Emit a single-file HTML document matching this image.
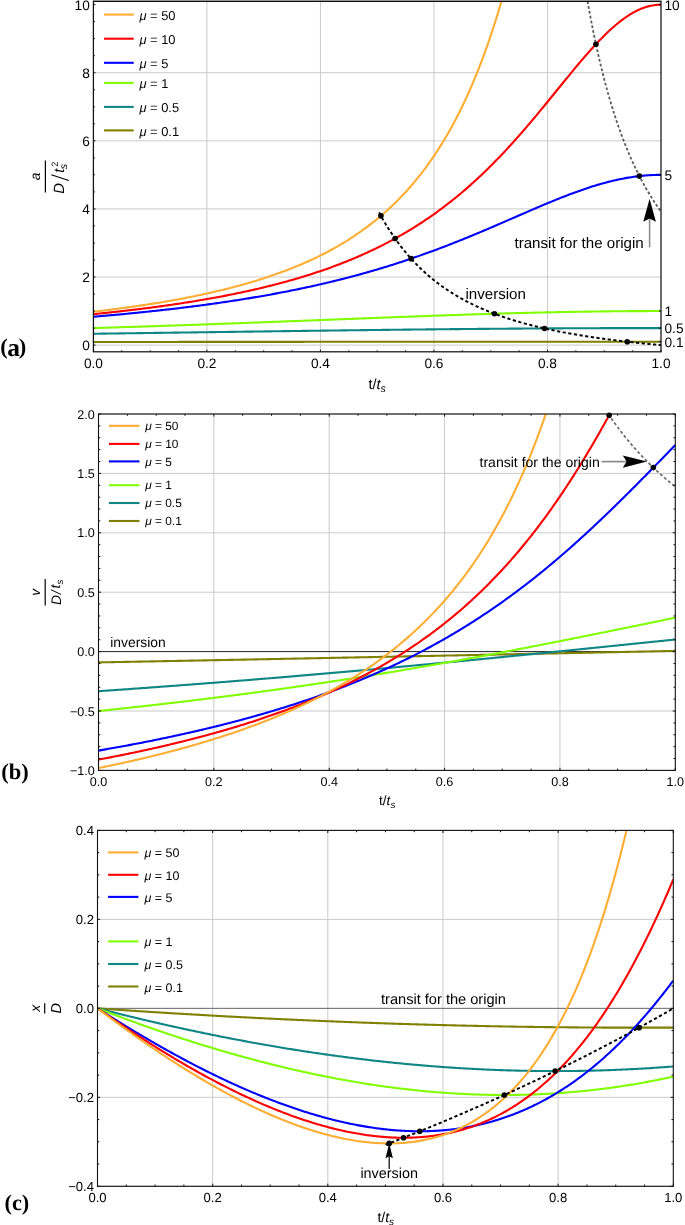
<!DOCTYPE html>
<html><head><meta charset="utf-8"><style>
html,body{margin:0;padding:0;background:#fff;}
svg{display:block;will-change:transform;}
text{text-rendering:geometricPrecision;}
</style></head><body>
<svg width="685" height="1225" viewBox="0 0 685 1225">
<rect width="685" height="1225" fill="#fff"/>
<clipPath id="clipA"><rect x="93.4" y="1.4" width="567.6" height="350.40000000000003"/></clipPath>
<line x1="206.92" y1="1.4" x2="206.92" y2="351.8" stroke="#cacaca" stroke-width="1"/>
<line x1="320.44" y1="1.4" x2="320.44" y2="351.8" stroke="#cacaca" stroke-width="1"/>
<line x1="433.96" y1="1.4" x2="433.96" y2="351.8" stroke="#cacaca" stroke-width="1"/>
<line x1="547.48" y1="1.4" x2="547.48" y2="351.8" stroke="#cacaca" stroke-width="1"/>
<line x1="93.4" y1="345.10" x2="661.0" y2="345.10" stroke="#cacaca" stroke-width="1"/>
<line x1="93.4" y1="277.01" x2="661.0" y2="277.01" stroke="#cacaca" stroke-width="1"/>
<line x1="93.4" y1="208.92" x2="661.0" y2="208.92" stroke="#cacaca" stroke-width="1"/>
<line x1="93.4" y1="140.83" x2="661.0" y2="140.83" stroke="#cacaca" stroke-width="1"/>
<line x1="93.4" y1="72.74" x2="661.0" y2="72.74" stroke="#cacaca" stroke-width="1"/>
<path d="M93.40,342.00 L94.82,342.00 L96.25,342.00 L97.67,342.00 L99.09,342.00 L100.51,342.00 L101.94,342.00 L103.36,342.00 L104.78,341.99 L106.20,341.99 L107.63,341.99 L109.05,341.99 L110.47,341.99 L111.89,341.99 L113.32,341.99 L114.74,341.98 L116.16,341.98 L117.58,341.98 L119.01,341.98 L120.43,341.98 L121.85,341.98 L123.27,341.98 L124.70,341.97 L126.12,341.97 L127.54,341.97 L128.96,341.97 L130.39,341.97 L131.81,341.97 L133.23,341.97 L134.65,341.97 L136.08,341.96 L137.50,341.96 L138.92,341.96 L140.34,341.96 L141.77,341.96 L143.19,341.96 L144.61,341.96 L146.03,341.95 L147.46,341.95 L148.88,341.95 L150.30,341.95 L151.72,341.95 L153.15,341.95 L154.57,341.95 L155.99,341.95 L157.42,341.94 L158.84,341.94 L160.26,341.94 L161.68,341.94 L163.11,341.94 L164.53,341.94 L165.95,341.94 L167.37,341.93 L168.80,341.93 L170.22,341.93 L171.64,341.93 L173.06,341.93 L174.49,341.93 L175.91,341.93 L177.33,341.93 L178.75,341.92 L180.18,341.92 L181.60,341.92 L183.02,341.92 L184.44,341.92 L185.87,341.92 L187.29,341.92 L188.71,341.92 L190.13,341.91 L191.56,341.91 L192.98,341.91 L194.40,341.91 L195.82,341.91 L197.25,341.91 L198.67,341.91 L200.09,341.91 L201.51,341.90 L202.94,341.90 L204.36,341.90 L205.78,341.90 L207.20,341.90 L208.63,341.90 L210.05,341.90 L211.47,341.90 L212.89,341.90 L214.32,341.89 L215.74,341.89 L217.16,341.89 L218.58,341.89 L220.01,341.89 L221.43,341.89 L222.85,341.89 L224.28,341.89 L225.70,341.88 L227.12,341.88 L228.54,341.88 L229.97,341.88 L231.39,341.88 L232.81,341.88 L234.23,341.88 L235.66,341.88 L237.08,341.88 L238.50,341.87 L239.92,341.87 L241.35,341.87 L242.77,341.87 L244.19,341.87 L245.61,341.87 L247.04,341.87 L248.46,341.87 L249.88,341.87 L251.30,341.86 L252.73,341.86 L254.15,341.86 L255.57,341.86 L256.99,341.86 L258.42,341.86 L259.84,341.86 L261.26,341.86 L262.68,341.86 L264.11,341.85 L265.53,341.85 L266.95,341.85 L268.37,341.85 L269.80,341.85 L271.22,341.85 L272.64,341.85 L274.06,341.85 L275.49,341.85 L276.91,341.84 L278.33,341.84 L279.75,341.84 L281.18,341.84 L282.60,341.84 L284.02,341.84 L285.45,341.84 L286.87,341.84 L288.29,341.84 L289.71,341.84 L291.14,341.83 L292.56,341.83 L293.98,341.83 L295.40,341.83 L296.83,341.83 L298.25,341.83 L299.67,341.83 L301.09,341.83 L302.52,341.83 L303.94,341.83 L305.36,341.82 L306.78,341.82 L308.21,341.82 L309.63,341.82 L311.05,341.82 L312.47,341.82 L313.90,341.82 L315.32,341.82 L316.74,341.82 L318.16,341.82 L319.59,341.81 L321.01,341.81 L322.43,341.81 L323.85,341.81 L325.28,341.81 L326.70,341.81 L328.12,341.81 L329.54,341.81 L330.97,341.81 L332.39,341.81 L333.81,341.80 L335.23,341.80 L336.66,341.80 L338.08,341.80 L339.50,341.80 L340.92,341.80 L342.35,341.80 L343.77,341.80 L345.19,341.80 L346.62,341.80 L348.04,341.80 L349.46,341.80 L350.88,341.79 L352.31,341.79 L353.73,341.79 L355.15,341.79 L356.57,341.79 L358.00,341.79 L359.42,341.79 L360.84,341.79 L362.26,341.79 L363.69,341.79 L365.11,341.79 L366.53,341.78 L367.95,341.78 L369.38,341.78 L370.80,341.78 L372.22,341.78 L373.64,341.78 L375.07,341.78 L376.49,341.78 L377.91,341.78 L379.33,341.78 L380.76,341.78 L382.18,341.78 L383.60,341.77 L385.02,341.77 L386.45,341.77 L387.87,341.77 L389.29,341.77 L390.71,341.77 L392.14,341.77 L393.56,341.77 L394.98,341.77 L396.40,341.77 L397.83,341.77 L399.25,341.77 L400.67,341.77 L402.09,341.76 L403.52,341.76 L404.94,341.76 L406.36,341.76 L407.78,341.76 L409.21,341.76 L410.63,341.76 L412.05,341.76 L413.48,341.76 L414.90,341.76 L416.32,341.76 L417.74,341.76 L419.17,341.76 L420.59,341.76 L422.01,341.75 L423.43,341.75 L424.86,341.75 L426.28,341.75 L427.70,341.75 L429.12,341.75 L430.55,341.75 L431.97,341.75 L433.39,341.75 L434.81,341.75 L436.24,341.75 L437.66,341.75 L439.08,341.75 L440.50,341.75 L441.93,341.75 L443.35,341.74 L444.77,341.74 L446.19,341.74 L447.62,341.74 L449.04,341.74 L450.46,341.74 L451.88,341.74 L453.31,341.74 L454.73,341.74 L456.15,341.74 L457.57,341.74 L459.00,341.74 L460.42,341.74 L461.84,341.74 L463.26,341.74 L464.69,341.74 L466.11,341.74 L467.53,341.73 L468.95,341.73 L470.38,341.73 L471.80,341.73 L473.22,341.73 L474.65,341.73 L476.07,341.73 L477.49,341.73 L478.91,341.73 L480.34,341.73 L481.76,341.73 L483.18,341.73 L484.60,341.73 L486.03,341.73 L487.45,341.73 L488.87,341.73 L490.29,341.73 L491.72,341.73 L493.14,341.73 L494.56,341.72 L495.98,341.72 L497.41,341.72 L498.83,341.72 L500.25,341.72 L501.67,341.72 L503.10,341.72 L504.52,341.72 L505.94,341.72 L507.36,341.72 L508.79,341.72 L510.21,341.72 L511.63,341.72 L513.05,341.72 L514.48,341.72 L515.90,341.72 L517.32,341.72 L518.74,341.72 L520.17,341.72 L521.59,341.72 L523.01,341.72 L524.43,341.72 L525.86,341.71 L527.28,341.71 L528.70,341.71 L530.12,341.71 L531.55,341.71 L532.97,341.71 L534.39,341.71 L535.82,341.71 L537.24,341.71 L538.66,341.71 L540.08,341.71 L541.51,341.71 L542.93,341.71 L544.35,341.71 L545.77,341.71 L547.20,341.71 L548.62,341.71 L550.04,341.71 L551.46,341.71 L552.89,341.71 L554.31,341.71 L555.73,341.71 L557.15,341.71 L558.58,341.71 L560.00,341.71 L561.42,341.71 L562.84,341.71 L564.27,341.71 L565.69,341.71 L567.11,341.70 L568.53,341.70 L569.96,341.70 L571.38,341.70 L572.80,341.70 L574.22,341.70 L575.65,341.70 L577.07,341.70 L578.49,341.70 L579.91,341.70 L581.34,341.70 L582.76,341.70 L584.18,341.70 L585.60,341.70 L587.03,341.70 L588.45,341.70 L589.87,341.70 L591.29,341.70 L592.72,341.70 L594.14,341.70 L595.56,341.70 L596.98,341.70 L598.41,341.70 L599.83,341.70 L601.25,341.70 L602.68,341.70 L604.10,341.70 L605.52,341.70 L606.94,341.70 L608.37,341.70 L609.79,341.70 L611.21,341.70 L612.63,341.70 L614.06,341.70 L615.48,341.70 L616.90,341.70 L618.32,341.70 L619.75,341.70 L621.17,341.70 L622.59,341.70 L624.01,341.70 L625.44,341.70 L626.86,341.70 L628.28,341.70 L629.70,341.70 L631.13,341.70 L632.55,341.70 L633.97,341.70 L635.39,341.70 L636.82,341.70 L638.24,341.70 L639.66,341.70 L641.08,341.70 L642.51,341.70 L643.93,341.70 L645.35,341.70 L646.77,341.70 L648.20,341.70 L649.62,341.70 L651.04,341.70 L652.46,341.70 L653.89,341.70 L655.31,341.70 L656.73,341.70 L658.15,341.70 L659.58,341.70 L661.00,341.70" stroke="#808000" stroke-width="2.1" fill="none" clip-path="url(#clipA)" stroke-linejoin="round"/>
<path d="M93.40,333.75 L94.82,333.73 L96.25,333.71 L97.67,333.69 L99.09,333.68 L100.51,333.66 L101.94,333.64 L103.36,333.62 L104.78,333.60 L106.20,333.58 L107.63,333.56 L109.05,333.54 L110.47,333.52 L111.89,333.50 L113.32,333.48 L114.74,333.47 L116.16,333.45 L117.58,333.43 L119.01,333.41 L120.43,333.39 L121.85,333.37 L123.27,333.35 L124.70,333.33 L126.12,333.31 L127.54,333.29 L128.96,333.27 L130.39,333.25 L131.81,333.23 L133.23,333.22 L134.65,333.20 L136.08,333.18 L137.50,333.16 L138.92,333.14 L140.34,333.12 L141.77,333.10 L143.19,333.08 L144.61,333.06 L146.03,333.04 L147.46,333.02 L148.88,333.00 L150.30,332.98 L151.72,332.96 L153.15,332.94 L154.57,332.92 L155.99,332.90 L157.42,332.89 L158.84,332.87 L160.26,332.85 L161.68,332.83 L163.11,332.81 L164.53,332.79 L165.95,332.77 L167.37,332.75 L168.80,332.73 L170.22,332.71 L171.64,332.69 L173.06,332.67 L174.49,332.65 L175.91,332.63 L177.33,332.61 L178.75,332.59 L180.18,332.57 L181.60,332.55 L183.02,332.53 L184.44,332.51 L185.87,332.49 L187.29,332.47 L188.71,332.45 L190.13,332.44 L191.56,332.42 L192.98,332.40 L194.40,332.38 L195.82,332.36 L197.25,332.34 L198.67,332.32 L200.09,332.30 L201.51,332.28 L202.94,332.26 L204.36,332.24 L205.78,332.22 L207.20,332.20 L208.63,332.18 L210.05,332.16 L211.47,332.14 L212.89,332.12 L214.32,332.10 L215.74,332.08 L217.16,332.06 L218.58,332.04 L220.01,332.02 L221.43,332.00 L222.85,331.98 L224.28,331.97 L225.70,331.95 L227.12,331.93 L228.54,331.91 L229.97,331.89 L231.39,331.87 L232.81,331.85 L234.23,331.83 L235.66,331.81 L237.08,331.79 L238.50,331.77 L239.92,331.75 L241.35,331.73 L242.77,331.71 L244.19,331.69 L245.61,331.67 L247.04,331.65 L248.46,331.63 L249.88,331.61 L251.30,331.60 L252.73,331.58 L254.15,331.56 L255.57,331.54 L256.99,331.52 L258.42,331.50 L259.84,331.48 L261.26,331.46 L262.68,331.44 L264.11,331.42 L265.53,331.40 L266.95,331.38 L268.37,331.36 L269.80,331.34 L271.22,331.33 L272.64,331.31 L274.06,331.29 L275.49,331.27 L276.91,331.25 L278.33,331.23 L279.75,331.21 L281.18,331.19 L282.60,331.17 L284.02,331.15 L285.45,331.13 L286.87,331.12 L288.29,331.10 L289.71,331.08 L291.14,331.06 L292.56,331.04 L293.98,331.02 L295.40,331.00 L296.83,330.98 L298.25,330.96 L299.67,330.95 L301.09,330.93 L302.52,330.91 L303.94,330.89 L305.36,330.87 L306.78,330.85 L308.21,330.83 L309.63,330.81 L311.05,330.80 L312.47,330.78 L313.90,330.76 L315.32,330.74 L316.74,330.72 L318.16,330.70 L319.59,330.69 L321.01,330.67 L322.43,330.65 L323.85,330.63 L325.28,330.61 L326.70,330.59 L328.12,330.58 L329.54,330.56 L330.97,330.54 L332.39,330.52 L333.81,330.50 L335.23,330.48 L336.66,330.47 L338.08,330.45 L339.50,330.43 L340.92,330.41 L342.35,330.39 L343.77,330.38 L345.19,330.36 L346.62,330.34 L348.04,330.32 L349.46,330.31 L350.88,330.29 L352.31,330.27 L353.73,330.25 L355.15,330.24 L356.57,330.22 L358.00,330.20 L359.42,330.18 L360.84,330.17 L362.26,330.15 L363.69,330.13 L365.11,330.11 L366.53,330.10 L367.95,330.08 L369.38,330.06 L370.80,330.05 L372.22,330.03 L373.64,330.01 L375.07,329.99 L376.49,329.98 L377.91,329.96 L379.33,329.94 L380.76,329.93 L382.18,329.91 L383.60,329.89 L385.02,329.88 L386.45,329.86 L387.87,329.84 L389.29,329.83 L390.71,329.81 L392.14,329.79 L393.56,329.78 L394.98,329.76 L396.40,329.75 L397.83,329.73 L399.25,329.71 L400.67,329.70 L402.09,329.68 L403.52,329.67 L404.94,329.65 L406.36,329.63 L407.78,329.62 L409.21,329.60 L410.63,329.59 L412.05,329.57 L413.48,329.56 L414.90,329.54 L416.32,329.52 L417.74,329.51 L419.17,329.49 L420.59,329.48 L422.01,329.46 L423.43,329.45 L424.86,329.43 L426.28,329.42 L427.70,329.40 L429.12,329.39 L430.55,329.37 L431.97,329.36 L433.39,329.34 L434.81,329.33 L436.24,329.32 L437.66,329.30 L439.08,329.29 L440.50,329.27 L441.93,329.26 L443.35,329.24 L444.77,329.23 L446.19,329.22 L447.62,329.20 L449.04,329.19 L450.46,329.17 L451.88,329.16 L453.31,329.15 L454.73,329.13 L456.15,329.12 L457.57,329.10 L459.00,329.09 L460.42,329.08 L461.84,329.06 L463.26,329.05 L464.69,329.04 L466.11,329.03 L467.53,329.01 L468.95,329.00 L470.38,328.99 L471.80,328.97 L473.22,328.96 L474.65,328.95 L476.07,328.94 L477.49,328.92 L478.91,328.91 L480.34,328.90 L481.76,328.89 L483.18,328.87 L484.60,328.86 L486.03,328.85 L487.45,328.84 L488.87,328.83 L490.29,328.81 L491.72,328.80 L493.14,328.79 L494.56,328.78 L495.98,328.77 L497.41,328.76 L498.83,328.75 L500.25,328.73 L501.67,328.72 L503.10,328.71 L504.52,328.70 L505.94,328.69 L507.36,328.68 L508.79,328.67 L510.21,328.66 L511.63,328.65 L513.05,328.64 L514.48,328.63 L515.90,328.62 L517.32,328.61 L518.74,328.60 L520.17,328.59 L521.59,328.58 L523.01,328.57 L524.43,328.56 L525.86,328.55 L527.28,328.54 L528.70,328.53 L530.12,328.52 L531.55,328.51 L532.97,328.50 L534.39,328.49 L535.82,328.48 L537.24,328.47 L538.66,328.46 L540.08,328.46 L541.51,328.45 L542.93,328.44 L544.35,328.43 L545.77,328.42 L547.20,328.41 L548.62,328.40 L550.04,328.40 L551.46,328.39 L552.89,328.38 L554.31,328.37 L555.73,328.37 L557.15,328.36 L558.58,328.35 L560.00,328.34 L561.42,328.34 L562.84,328.33 L564.27,328.32 L565.69,328.31 L567.11,328.31 L568.53,328.30 L569.96,328.29 L571.38,328.29 L572.80,328.28 L574.22,328.27 L575.65,328.27 L577.07,328.26 L578.49,328.26 L579.91,328.25 L581.34,328.24 L582.76,328.24 L584.18,328.23 L585.60,328.23 L587.03,328.22 L588.45,328.22 L589.87,328.21 L591.29,328.20 L592.72,328.20 L594.14,328.19 L595.56,328.19 L596.98,328.19 L598.41,328.18 L599.83,328.18 L601.25,328.17 L602.68,328.17 L604.10,328.16 L605.52,328.16 L606.94,328.15 L608.37,328.15 L609.79,328.15 L611.21,328.14 L612.63,328.14 L614.06,328.14 L615.48,328.13 L616.90,328.13 L618.32,328.13 L619.75,328.12 L621.17,328.12 L622.59,328.12 L624.01,328.11 L625.44,328.11 L626.86,328.11 L628.28,328.11 L629.70,328.10 L631.13,328.10 L632.55,328.10 L633.97,328.10 L635.39,328.09 L636.82,328.09 L638.24,328.09 L639.66,328.09 L641.08,328.09 L642.51,328.09 L643.93,328.09 L645.35,328.08 L646.77,328.08 L648.20,328.08 L649.62,328.08 L651.04,328.08 L652.46,328.08 L653.89,328.08 L655.31,328.08 L656.73,328.08 L658.15,328.08 L659.58,328.08 L661.00,328.08" stroke="#108585" stroke-width="2.1" fill="none" clip-path="url(#clipA)" stroke-linejoin="round"/>
<path d="M93.40,328.08 L94.82,328.03 L96.25,327.99 L97.67,327.95 L99.09,327.91 L100.51,327.86 L101.94,327.82 L103.36,327.78 L104.78,327.73 L106.20,327.69 L107.63,327.65 L109.05,327.60 L110.47,327.56 L111.89,327.51 L113.32,327.47 L114.74,327.43 L116.16,327.38 L117.58,327.34 L119.01,327.29 L120.43,327.25 L121.85,327.20 L123.27,327.16 L124.70,327.11 L126.12,327.07 L127.54,327.02 L128.96,326.98 L130.39,326.93 L131.81,326.89 L133.23,326.84 L134.65,326.80 L136.08,326.75 L137.50,326.70 L138.92,326.66 L140.34,326.61 L141.77,326.57 L143.19,326.52 L144.61,326.47 L146.03,326.43 L147.46,326.38 L148.88,326.33 L150.30,326.29 L151.72,326.24 L153.15,326.19 L154.57,326.14 L155.99,326.10 L157.42,326.05 L158.84,326.00 L160.26,325.96 L161.68,325.91 L163.11,325.86 L164.53,325.81 L165.95,325.76 L167.37,325.72 L168.80,325.67 L170.22,325.62 L171.64,325.57 L173.06,325.52 L174.49,325.47 L175.91,325.43 L177.33,325.38 L178.75,325.33 L180.18,325.28 L181.60,325.23 L183.02,325.18 L184.44,325.13 L185.87,325.08 L187.29,325.03 L188.71,324.98 L190.13,324.93 L191.56,324.88 L192.98,324.83 L194.40,324.78 L195.82,324.73 L197.25,324.68 L198.67,324.63 L200.09,324.58 L201.51,324.53 L202.94,324.48 L204.36,324.43 L205.78,324.38 L207.20,324.33 L208.63,324.28 L210.05,324.23 L211.47,324.18 L212.89,324.13 L214.32,324.08 L215.74,324.02 L217.16,323.97 L218.58,323.92 L220.01,323.87 L221.43,323.82 L222.85,323.77 L224.28,323.72 L225.70,323.66 L227.12,323.61 L228.54,323.56 L229.97,323.51 L231.39,323.46 L232.81,323.40 L234.23,323.35 L235.66,323.30 L237.08,323.25 L238.50,323.19 L239.92,323.14 L241.35,323.09 L242.77,323.03 L244.19,322.98 L245.61,322.93 L247.04,322.88 L248.46,322.82 L249.88,322.77 L251.30,322.72 L252.73,322.66 L254.15,322.61 L255.57,322.56 L256.99,322.50 L258.42,322.45 L259.84,322.40 L261.26,322.34 L262.68,322.29 L264.11,322.23 L265.53,322.18 L266.95,322.13 L268.37,322.07 L269.80,322.02 L271.22,321.97 L272.64,321.91 L274.06,321.86 L275.49,321.80 L276.91,321.75 L278.33,321.69 L279.75,321.64 L281.18,321.58 L282.60,321.53 L284.02,321.48 L285.45,321.42 L286.87,321.37 L288.29,321.31 L289.71,321.26 L291.14,321.20 L292.56,321.15 L293.98,321.09 L295.40,321.04 L296.83,320.98 L298.25,320.93 L299.67,320.87 L301.09,320.82 L302.52,320.76 L303.94,320.71 L305.36,320.65 L306.78,320.60 L308.21,320.54 L309.63,320.49 L311.05,320.43 L312.47,320.38 L313.90,320.32 L315.32,320.27 L316.74,320.21 L318.16,320.16 L319.59,320.10 L321.01,320.04 L322.43,319.99 L323.85,319.93 L325.28,319.88 L326.70,319.82 L328.12,319.77 L329.54,319.71 L330.97,319.66 L332.39,319.60 L333.81,319.55 L335.23,319.49 L336.66,319.44 L338.08,319.38 L339.50,319.32 L340.92,319.27 L342.35,319.21 L343.77,319.16 L345.19,319.10 L346.62,319.05 L348.04,318.99 L349.46,318.94 L350.88,318.88 L352.31,318.83 L353.73,318.77 L355.15,318.72 L356.57,318.66 L358.00,318.61 L359.42,318.55 L360.84,318.50 L362.26,318.44 L363.69,318.38 L365.11,318.33 L366.53,318.27 L367.95,318.22 L369.38,318.17 L370.80,318.11 L372.22,318.06 L373.64,318.00 L375.07,317.95 L376.49,317.89 L377.91,317.84 L379.33,317.78 L380.76,317.73 L382.18,317.67 L383.60,317.62 L385.02,317.56 L386.45,317.51 L387.87,317.46 L389.29,317.40 L390.71,317.35 L392.14,317.29 L393.56,317.24 L394.98,317.19 L396.40,317.13 L397.83,317.08 L399.25,317.03 L400.67,316.97 L402.09,316.92 L403.52,316.87 L404.94,316.81 L406.36,316.76 L407.78,316.71 L409.21,316.65 L410.63,316.60 L412.05,316.55 L413.48,316.49 L414.90,316.44 L416.32,316.39 L417.74,316.34 L419.17,316.29 L420.59,316.23 L422.01,316.18 L423.43,316.13 L424.86,316.08 L426.28,316.03 L427.70,315.98 L429.12,315.92 L430.55,315.87 L431.97,315.82 L433.39,315.77 L434.81,315.72 L436.24,315.67 L437.66,315.62 L439.08,315.57 L440.50,315.52 L441.93,315.47 L443.35,315.42 L444.77,315.37 L446.19,315.32 L447.62,315.27 L449.04,315.22 L450.46,315.17 L451.88,315.12 L453.31,315.08 L454.73,315.03 L456.15,314.98 L457.57,314.93 L459.00,314.88 L460.42,314.83 L461.84,314.79 L463.26,314.74 L464.69,314.69 L466.11,314.65 L467.53,314.60 L468.95,314.55 L470.38,314.51 L471.80,314.46 L473.22,314.41 L474.65,314.37 L476.07,314.32 L477.49,314.28 L478.91,314.23 L480.34,314.19 L481.76,314.14 L483.18,314.10 L484.60,314.05 L486.03,314.01 L487.45,313.97 L488.87,313.92 L490.29,313.88 L491.72,313.84 L493.14,313.79 L494.56,313.75 L495.98,313.71 L497.41,313.67 L498.83,313.62 L500.25,313.58 L501.67,313.54 L503.10,313.50 L504.52,313.46 L505.94,313.42 L507.36,313.38 L508.79,313.34 L510.21,313.30 L511.63,313.26 L513.05,313.22 L514.48,313.18 L515.90,313.14 L517.32,313.11 L518.74,313.07 L520.17,313.03 L521.59,312.99 L523.01,312.95 L524.43,312.92 L525.86,312.88 L527.28,312.85 L528.70,312.81 L530.12,312.77 L531.55,312.74 L532.97,312.70 L534.39,312.67 L535.82,312.63 L537.24,312.60 L538.66,312.57 L540.08,312.53 L541.51,312.50 L542.93,312.47 L544.35,312.43 L545.77,312.40 L547.20,312.37 L548.62,312.34 L550.04,312.31 L551.46,312.28 L552.89,312.25 L554.31,312.22 L555.73,312.19 L557.15,312.16 L558.58,312.13 L560.00,312.10 L561.42,312.07 L562.84,312.04 L564.27,312.02 L565.69,311.99 L567.11,311.96 L568.53,311.94 L569.96,311.91 L571.38,311.88 L572.80,311.86 L574.22,311.83 L575.65,311.81 L577.07,311.78 L578.49,311.76 L579.91,311.74 L581.34,311.71 L582.76,311.69 L584.18,311.67 L585.60,311.65 L587.03,311.62 L588.45,311.60 L589.87,311.58 L591.29,311.56 L592.72,311.54 L594.14,311.52 L595.56,311.50 L596.98,311.48 L598.41,311.46 L599.83,311.45 L601.25,311.43 L602.68,311.41 L604.10,311.39 L605.52,311.38 L606.94,311.36 L608.37,311.35 L609.79,311.33 L611.21,311.31 L612.63,311.30 L614.06,311.29 L615.48,311.27 L616.90,311.26 L618.32,311.25 L619.75,311.23 L621.17,311.22 L622.59,311.21 L624.01,311.20 L625.44,311.19 L626.86,311.18 L628.28,311.17 L629.70,311.16 L631.13,311.15 L632.55,311.14 L633.97,311.13 L635.39,311.12 L636.82,311.12 L638.24,311.11 L639.66,311.10 L641.08,311.10 L642.51,311.09 L643.93,311.09 L645.35,311.08 L646.77,311.08 L648.20,311.07 L649.62,311.07 L651.04,311.07 L652.46,311.06 L653.89,311.06 L655.31,311.06 L656.73,311.06 L658.15,311.06 L659.58,311.06 L661.00,311.06" stroke="#80FF00" stroke-width="2.1" fill="none" clip-path="url(#clipA)" stroke-linejoin="round"/>
<path d="M93.40,316.73 L94.82,316.61 L96.25,316.49 L97.67,316.37 L99.09,316.25 L100.51,316.13 L101.94,316.01 L103.36,315.88 L104.78,315.76 L106.20,315.63 L107.63,315.51 L109.05,315.38 L110.47,315.26 L111.89,315.13 L113.32,315.00 L114.74,314.87 L116.16,314.74 L117.58,314.61 L119.01,314.48 L120.43,314.35 L121.85,314.21 L123.27,314.08 L124.70,313.95 L126.12,313.81 L127.54,313.67 L128.96,313.54 L130.39,313.40 L131.81,313.26 L133.23,313.12 L134.65,312.98 L136.08,312.84 L137.50,312.70 L138.92,312.55 L140.34,312.41 L141.77,312.26 L143.19,312.12 L144.61,311.97 L146.03,311.82 L147.46,311.68 L148.88,311.53 L150.30,311.38 L151.72,311.23 L153.15,311.07 L154.57,310.92 L155.99,310.77 L157.42,310.61 L158.84,310.46 L160.26,310.30 L161.68,310.14 L163.11,309.98 L164.53,309.82 L165.95,309.66 L167.37,309.50 L168.80,309.34 L170.22,309.17 L171.64,309.01 L173.06,308.84 L174.49,308.68 L175.91,308.51 L177.33,308.34 L178.75,308.17 L180.18,308.00 L181.60,307.83 L183.02,307.65 L184.44,307.48 L185.87,307.30 L187.29,307.13 L188.71,306.95 L190.13,306.77 L191.56,306.59 L192.98,306.41 L194.40,306.23 L195.82,306.04 L197.25,305.86 L198.67,305.67 L200.09,305.48 L201.51,305.30 L202.94,305.11 L204.36,304.92 L205.78,304.72 L207.20,304.53 L208.63,304.34 L210.05,304.14 L211.47,303.94 L212.89,303.75 L214.32,303.55 L215.74,303.35 L217.16,303.14 L218.58,302.94 L220.01,302.74 L221.43,302.53 L222.85,302.32 L224.28,302.11 L225.70,301.90 L227.12,301.69 L228.54,301.48 L229.97,301.27 L231.39,301.05 L232.81,300.83 L234.23,300.62 L235.66,300.40 L237.08,300.17 L238.50,299.95 L239.92,299.73 L241.35,299.50 L242.77,299.28 L244.19,299.05 L245.61,298.82 L247.04,298.58 L248.46,298.35 L249.88,298.12 L251.30,297.88 L252.73,297.64 L254.15,297.40 L255.57,297.16 L256.99,296.92 L258.42,296.68 L259.84,296.43 L261.26,296.18 L262.68,295.93 L264.11,295.68 L265.53,295.43 L266.95,295.18 L268.37,294.92 L269.80,294.67 L271.22,294.41 L272.64,294.15 L274.06,293.88 L275.49,293.62 L276.91,293.35 L278.33,293.09 L279.75,292.82 L281.18,292.54 L282.60,292.27 L284.02,292.00 L285.45,291.72 L286.87,291.44 L288.29,291.16 L289.71,290.88 L291.14,290.59 L292.56,290.31 L293.98,290.02 L295.40,289.73 L296.83,289.44 L298.25,289.15 L299.67,288.85 L301.09,288.55 L302.52,288.25 L303.94,287.95 L305.36,287.65 L306.78,287.34 L308.21,287.04 L309.63,286.73 L311.05,286.41 L312.47,286.10 L313.90,285.78 L315.32,285.47 L316.74,285.15 L318.16,284.83 L319.59,284.50 L321.01,284.17 L322.43,283.85 L323.85,283.52 L325.28,283.18 L326.70,282.85 L328.12,282.51 L329.54,282.17 L330.97,281.83 L332.39,281.49 L333.81,281.14 L335.23,280.79 L336.66,280.44 L338.08,280.09 L339.50,279.73 L340.92,279.38 L342.35,279.02 L343.77,278.65 L345.19,278.29 L346.62,277.92 L348.04,277.55 L349.46,277.18 L350.88,276.81 L352.31,276.43 L353.73,276.05 L355.15,275.67 L356.57,275.29 L358.00,274.90 L359.42,274.51 L360.84,274.12 L362.26,273.73 L363.69,273.33 L365.11,272.93 L366.53,272.53 L367.95,272.13 L369.38,271.72 L370.80,271.31 L372.22,270.90 L373.64,270.49 L375.07,270.07 L376.49,269.65 L377.91,269.23 L379.33,268.81 L380.76,268.38 L382.18,267.95 L383.60,267.52 L385.02,267.09 L386.45,266.65 L387.87,266.21 L389.29,265.77 L390.71,265.32 L392.14,264.88 L393.56,264.43 L394.98,263.97 L396.40,263.52 L397.83,263.06 L399.25,262.60 L400.67,262.14 L402.09,261.67 L403.52,261.20 L404.94,260.73 L406.36,260.26 L407.78,259.78 L409.21,259.30 L410.63,258.82 L412.05,258.33 L413.48,257.84 L414.90,257.35 L416.32,256.86 L417.74,256.37 L419.17,255.87 L420.59,255.37 L422.01,254.86 L423.43,254.36 L424.86,253.85 L426.28,253.34 L427.70,252.82 L429.12,252.31 L430.55,251.79 L431.97,251.27 L433.39,250.74 L434.81,250.21 L436.24,249.68 L437.66,249.15 L439.08,248.62 L440.50,248.08 L441.93,247.54 L443.35,247.00 L444.77,246.45 L446.19,245.91 L447.62,245.36 L449.04,244.81 L450.46,244.25 L451.88,243.70 L453.31,243.14 L454.73,242.58 L456.15,242.01 L457.57,241.45 L459.00,240.88 L460.42,240.31 L461.84,239.73 L463.26,239.16 L464.69,238.58 L466.11,238.00 L467.53,237.42 L468.95,236.84 L470.38,236.26 L471.80,235.67 L473.22,235.08 L474.65,234.49 L476.07,233.90 L477.49,233.30 L478.91,232.71 L480.34,232.11 L481.76,231.51 L483.18,230.91 L484.60,230.31 L486.03,229.71 L487.45,229.10 L488.87,228.49 L490.29,227.89 L491.72,227.28 L493.14,226.67 L494.56,226.06 L495.98,225.44 L497.41,224.83 L498.83,224.22 L500.25,223.60 L501.67,222.98 L503.10,222.37 L504.52,221.75 L505.94,221.13 L507.36,220.51 L508.79,219.90 L510.21,219.28 L511.63,218.66 L513.05,218.04 L514.48,217.42 L515.90,216.80 L517.32,216.18 L518.74,215.56 L520.17,214.94 L521.59,214.32 L523.01,213.70 L524.43,213.09 L525.86,212.47 L527.28,211.85 L528.70,211.24 L530.12,210.62 L531.55,210.01 L532.97,209.40 L534.39,208.79 L535.82,208.18 L537.24,207.57 L538.66,206.96 L540.08,206.36 L541.51,205.75 L542.93,205.15 L544.35,204.56 L545.77,203.96 L547.20,203.36 L548.62,202.77 L550.04,202.18 L551.46,201.60 L552.89,201.01 L554.31,200.43 L555.73,199.85 L557.15,199.28 L558.58,198.71 L560.00,198.14 L561.42,197.58 L562.84,197.02 L564.27,196.46 L565.69,195.91 L567.11,195.36 L568.53,194.82 L569.96,194.28 L571.38,193.74 L572.80,193.21 L574.22,192.69 L575.65,192.17 L577.07,191.65 L578.49,191.14 L579.91,190.64 L581.34,190.14 L582.76,189.64 L584.18,189.16 L585.60,188.68 L587.03,188.20 L588.45,187.73 L589.87,187.27 L591.29,186.81 L592.72,186.36 L594.14,185.92 L595.56,185.48 L596.98,185.05 L598.41,184.63 L599.83,184.22 L601.25,183.81 L602.68,183.41 L604.10,183.02 L605.52,182.64 L606.94,182.26 L608.37,181.89 L609.79,181.53 L611.21,181.18 L612.63,180.84 L614.06,180.50 L615.48,180.18 L616.90,179.86 L618.32,179.55 L619.75,179.26 L621.17,178.97 L622.59,178.69 L624.01,178.41 L625.44,178.15 L626.86,177.90 L628.28,177.66 L629.70,177.42 L631.13,177.20 L632.55,176.99 L633.97,176.78 L635.39,176.59 L636.82,176.41 L638.24,176.23 L639.66,176.07 L641.08,175.92 L642.51,175.77 L643.93,175.64 L645.35,175.52 L646.77,175.41 L648.20,175.31 L649.62,175.22 L651.04,175.14 L652.46,175.07 L653.89,175.01 L655.31,174.96 L656.73,174.92 L658.15,174.90 L659.58,174.88 L661.00,174.88" stroke="#0000FF" stroke-width="2.1" fill="none" clip-path="url(#clipA)" stroke-linejoin="round"/>
<path d="M93.40,314.15 L94.82,314.01 L96.25,313.87 L97.67,313.72 L99.09,313.58 L100.51,313.43 L101.94,313.29 L103.36,313.14 L104.78,312.99 L106.20,312.84 L107.63,312.69 L109.05,312.54 L110.47,312.39 L111.89,312.23 L113.32,312.08 L114.74,311.93 L116.16,311.77 L117.58,311.61 L119.01,311.45 L120.43,311.29 L121.85,311.13 L123.27,310.97 L124.70,310.81 L126.12,310.64 L127.54,310.48 L128.96,310.31 L130.39,310.14 L131.81,309.97 L133.23,309.80 L134.65,309.63 L136.08,309.46 L137.50,309.29 L138.92,309.11 L140.34,308.94 L141.77,308.76 L143.19,308.58 L144.61,308.40 L146.03,308.22 L147.46,308.04 L148.88,307.85 L150.30,307.67 L151.72,307.48 L153.15,307.30 L154.57,307.11 L155.99,306.92 L157.42,306.72 L158.84,306.53 L160.26,306.34 L161.68,306.14 L163.11,305.94 L164.53,305.75 L165.95,305.54 L167.37,305.34 L168.80,305.14 L170.22,304.94 L171.64,304.73 L173.06,304.52 L174.49,304.31 L175.91,304.10 L177.33,303.89 L178.75,303.68 L180.18,303.46 L181.60,303.24 L183.02,303.02 L184.44,302.80 L185.87,302.58 L187.29,302.36 L188.71,302.13 L190.13,301.91 L191.56,301.68 L192.98,301.45 L194.40,301.21 L195.82,300.98 L197.25,300.75 L198.67,300.51 L200.09,300.27 L201.51,300.03 L202.94,299.78 L204.36,299.54 L205.78,299.29 L207.20,299.04 L208.63,298.79 L210.05,298.54 L211.47,298.29 L212.89,298.03 L214.32,297.77 L215.74,297.51 L217.16,297.25 L218.58,296.98 L220.01,296.72 L221.43,296.45 L222.85,296.18 L224.28,295.90 L225.70,295.63 L227.12,295.35 L228.54,295.07 L229.97,294.79 L231.39,294.50 L232.81,294.22 L234.23,293.93 L235.66,293.64 L237.08,293.34 L238.50,293.05 L239.92,292.75 L241.35,292.45 L242.77,292.15 L244.19,291.84 L245.61,291.53 L247.04,291.22 L248.46,290.91 L249.88,290.60 L251.30,290.28 L252.73,289.96 L254.15,289.63 L255.57,289.31 L256.99,288.98 L258.42,288.65 L259.84,288.31 L261.26,287.98 L262.68,287.64 L264.11,287.29 L265.53,286.95 L266.95,286.60 L268.37,286.25 L269.80,285.89 L271.22,285.54 L272.64,285.18 L274.06,284.81 L275.49,284.45 L276.91,284.08 L278.33,283.71 L279.75,283.33 L281.18,282.95 L282.60,282.57 L284.02,282.18 L285.45,281.79 L286.87,281.40 L288.29,281.01 L289.71,280.61 L291.14,280.21 L292.56,279.80 L293.98,279.39 L295.40,278.98 L296.83,278.56 L298.25,278.14 L299.67,277.72 L301.09,277.29 L302.52,276.86 L303.94,276.42 L305.36,275.99 L306.78,275.54 L308.21,275.10 L309.63,274.65 L311.05,274.19 L312.47,273.73 L313.90,273.27 L315.32,272.80 L316.74,272.33 L318.16,271.86 L319.59,271.38 L321.01,270.90 L322.43,270.41 L323.85,269.92 L325.28,269.42 L326.70,268.92 L328.12,268.41 L329.54,267.90 L330.97,267.39 L332.39,266.87 L333.81,266.34 L335.23,265.82 L336.66,265.28 L338.08,264.74 L339.50,264.20 L340.92,263.65 L342.35,263.10 L343.77,262.54 L345.19,261.98 L346.62,261.41 L348.04,260.83 L349.46,260.25 L350.88,259.67 L352.31,259.08 L353.73,258.49 L355.15,257.88 L356.57,257.28 L358.00,256.67 L359.42,256.05 L360.84,255.43 L362.26,254.80 L363.69,254.16 L365.11,253.52 L366.53,252.87 L367.95,252.22 L369.38,251.56 L370.80,250.90 L372.22,250.23 L373.64,249.55 L375.07,248.87 L376.49,248.18 L377.91,247.48 L379.33,246.78 L380.76,246.07 L382.18,245.35 L383.60,244.63 L385.02,243.90 L386.45,243.16 L387.87,242.42 L389.29,241.67 L390.71,240.91 L392.14,240.14 L393.56,239.37 L394.98,238.59 L396.40,237.81 L397.83,237.01 L399.25,236.21 L400.67,235.40 L402.09,234.59 L403.52,233.76 L404.94,232.93 L406.36,232.09 L407.78,231.24 L409.21,230.39 L410.63,229.53 L412.05,228.65 L413.48,227.77 L414.90,226.89 L416.32,225.99 L417.74,225.09 L419.17,224.17 L420.59,223.25 L422.01,222.32 L423.43,221.38 L424.86,220.43 L426.28,219.48 L427.70,218.51 L429.12,217.54 L430.55,216.55 L431.97,215.56 L433.39,214.56 L434.81,213.55 L436.24,212.53 L437.66,211.50 L439.08,210.46 L440.50,209.41 L441.93,208.36 L443.35,207.29 L444.77,206.21 L446.19,205.12 L447.62,204.03 L449.04,202.92 L450.46,201.81 L451.88,200.68 L453.31,199.54 L454.73,198.40 L456.15,197.24 L457.57,196.07 L459.00,194.90 L460.42,193.71 L461.84,192.51 L463.26,191.30 L464.69,190.08 L466.11,188.86 L467.53,187.62 L468.95,186.37 L470.38,185.11 L471.80,183.83 L473.22,182.55 L474.65,181.26 L476.07,179.96 L477.49,178.64 L478.91,177.32 L480.34,175.98 L481.76,174.64 L483.18,173.28 L484.60,171.92 L486.03,170.54 L487.45,169.15 L488.87,167.75 L490.29,166.34 L491.72,164.92 L493.14,163.49 L494.56,162.05 L495.98,160.60 L497.41,159.13 L498.83,157.66 L500.25,156.18 L501.67,154.68 L503.10,153.18 L504.52,151.67 L505.94,150.14 L507.36,148.61 L508.79,147.07 L510.21,145.51 L511.63,143.95 L513.05,142.38 L514.48,140.80 L515.90,139.21 L517.32,137.60 L518.74,136.00 L520.17,134.38 L521.59,132.75 L523.01,131.12 L524.43,129.47 L525.86,127.82 L527.28,126.16 L528.70,124.50 L530.12,122.82 L531.55,121.14 L532.97,119.46 L534.39,117.76 L535.82,116.06 L537.24,114.35 L538.66,112.64 L540.08,110.93 L541.51,109.20 L542.93,107.48 L544.35,105.74 L545.77,104.01 L547.20,102.27 L548.62,100.53 L550.04,98.78 L551.46,97.03 L552.89,95.29 L554.31,93.53 L555.73,91.78 L557.15,90.03 L558.58,88.28 L560.00,86.53 L561.42,84.77 L562.84,83.03 L564.27,81.28 L565.69,79.53 L567.11,77.79 L568.53,76.05 L569.96,74.32 L571.38,72.59 L572.80,70.87 L574.22,69.15 L575.65,67.44 L577.07,65.73 L578.49,64.04 L579.91,62.35 L581.34,60.68 L582.76,59.01 L584.18,57.35 L585.60,55.71 L587.03,54.08 L588.45,52.46 L589.87,50.86 L591.29,49.27 L592.72,47.69 L594.14,46.13 L595.56,44.59 L596.98,43.07 L598.41,41.56 L599.83,40.08 L601.25,38.61 L602.68,37.16 L604.10,35.74 L605.52,34.34 L606.94,32.96 L608.37,31.61 L609.79,30.28 L611.21,28.97 L612.63,27.70 L614.06,26.45 L615.48,25.22 L616.90,24.03 L618.32,22.87 L619.75,21.73 L621.17,20.63 L622.59,19.56 L624.01,18.52 L625.44,17.51 L626.86,16.54 L628.28,15.60 L629.70,14.69 L631.13,13.83 L632.55,12.99 L633.97,12.20 L635.39,11.44 L636.82,10.72 L638.24,10.04 L639.66,9.39 L641.08,8.79 L642.51,8.23 L643.93,7.70 L645.35,7.22 L646.77,6.78 L648.20,6.37 L649.62,6.01 L651.04,5.69 L652.46,5.42 L653.89,5.18 L655.31,4.99 L656.73,4.84 L658.15,4.74 L659.58,4.67 L661.00,4.65" stroke="#FF0000" stroke-width="2.1" fill="none" clip-path="url(#clipA)" stroke-linejoin="round"/>
<path d="M93.40,311.72 L94.82,311.56 L96.25,311.39 L97.67,311.23 L99.09,311.06 L100.51,310.89 L101.94,310.72 L103.36,310.54 L104.78,310.37 L106.20,310.20 L107.63,310.02 L109.05,309.84 L110.47,309.66 L111.89,309.48 L113.32,309.30 L114.74,309.12 L116.16,308.94 L117.58,308.75 L119.01,308.56 L120.43,308.38 L121.85,308.19 L123.27,307.99 L124.70,307.80 L126.12,307.61 L127.54,307.41 L128.96,307.21 L130.39,307.01 L131.81,306.81 L133.23,306.61 L134.65,306.41 L136.08,306.20 L137.50,306.00 L138.92,305.79 L140.34,305.58 L141.77,305.37 L143.19,305.15 L144.61,304.94 L146.03,304.72 L147.46,304.50 L148.88,304.28 L150.30,304.06 L151.72,303.84 L153.15,303.61 L154.57,303.38 L155.99,303.15 L157.42,302.92 L158.84,302.69 L160.26,302.45 L161.68,302.22 L163.11,301.98 L164.53,301.73 L165.95,301.49 L167.37,301.25 L168.80,301.00 L170.22,300.75 L171.64,300.50 L173.06,300.24 L174.49,299.99 L175.91,299.73 L177.33,299.47 L178.75,299.21 L180.18,298.94 L181.60,298.68 L183.02,298.41 L184.44,298.14 L185.87,297.86 L187.29,297.59 L188.71,297.31 L190.13,297.03 L191.56,296.74 L192.98,296.46 L194.40,296.17 L195.82,295.88 L197.25,295.58 L198.67,295.29 L200.09,294.99 L201.51,294.69 L202.94,294.38 L204.36,294.08 L205.78,293.77 L207.20,293.45 L208.63,293.14 L210.05,292.82 L211.47,292.50 L212.89,292.17 L214.32,291.85 L215.74,291.52 L217.16,291.18 L218.58,290.85 L220.01,290.51 L221.43,290.17 L222.85,289.82 L224.28,289.47 L225.70,289.12 L227.12,288.76 L228.54,288.41 L229.97,288.04 L231.39,287.68 L232.81,287.31 L234.23,286.94 L235.66,286.56 L237.08,286.18 L238.50,285.80 L239.92,285.41 L241.35,285.02 L242.77,284.62 L244.19,284.22 L245.61,283.82 L247.04,283.41 L248.46,283.00 L249.88,282.59 L251.30,282.17 L252.73,281.75 L254.15,281.32 L255.57,280.89 L256.99,280.45 L258.42,280.01 L259.84,279.57 L261.26,279.12 L262.68,278.67 L264.11,278.21 L265.53,277.74 L266.95,277.28 L268.37,276.80 L269.80,276.33 L271.22,275.84 L272.64,275.36 L274.06,274.86 L275.49,274.37 L276.91,273.86 L278.33,273.35 L279.75,272.84 L281.18,272.32 L282.60,271.80 L284.02,271.27 L285.45,270.73 L286.87,270.19 L288.29,269.64 L289.71,269.09 L291.14,268.53 L292.56,267.96 L293.98,267.39 L295.40,266.81 L296.83,266.23 L298.25,265.64 L299.67,265.04 L301.09,264.44 L302.52,263.83 L303.94,263.21 L305.36,262.58 L306.78,261.95 L308.21,261.31 L309.63,260.67 L311.05,260.01 L312.47,259.35 L313.90,258.68 L315.32,258.01 L316.74,257.32 L318.16,256.63 L319.59,255.93 L321.01,255.22 L322.43,254.51 L323.85,253.78 L325.28,253.05 L326.70,252.31 L328.12,251.56 L329.54,250.79 L330.97,250.03 L332.39,249.25 L333.81,248.46 L335.23,247.66 L336.66,246.85 L338.08,246.04 L339.50,245.21 L340.92,244.37 L342.35,243.53 L343.77,242.67 L345.19,241.80 L346.62,240.92 L348.04,240.03 L349.46,239.13 L350.88,238.21 L352.31,237.29 L353.73,236.35 L355.15,235.40 L356.57,234.44 L358.00,233.47 L359.42,232.48 L360.84,231.49 L362.26,230.47 L363.69,229.45 L365.11,228.41 L366.53,227.36 L367.95,226.29 L369.38,225.21 L370.80,224.12 L372.22,223.01 L373.64,221.88 L375.07,220.75 L376.49,219.59 L377.91,218.42 L379.33,217.23 L380.76,216.03 L382.18,214.81 L383.60,213.58 L385.02,212.32 L386.45,211.05 L387.87,209.76 L389.29,208.46 L390.71,207.13 L392.14,205.79 L393.56,204.42 L394.98,203.04 L396.40,201.64 L397.83,200.22 L399.25,198.77 L400.67,197.31 L402.09,195.82 L403.52,194.31 L404.94,192.78 L406.36,191.23 L407.78,189.66 L409.21,188.06 L410.63,186.44 L412.05,184.79 L413.48,183.12 L414.90,181.42 L416.32,179.69 L417.74,177.95 L419.17,176.17 L420.59,174.36 L422.01,172.53 L423.43,170.67 L424.86,168.78 L426.28,166.86 L427.70,164.91 L429.12,162.93 L430.55,160.92 L431.97,158.88 L433.39,156.80 L434.81,154.69 L436.24,152.55 L437.66,150.37 L439.08,148.15 L440.50,145.90 L441.93,143.61 L443.35,141.29 L444.77,138.92 L446.19,136.52 L447.62,134.07 L449.04,131.59 L450.46,129.06 L451.88,126.49 L453.31,123.88 L454.73,121.22 L456.15,118.51 L457.57,115.76 L459.00,112.96 L460.42,110.11 L461.84,107.21 L463.26,104.26 L464.69,101.26 L466.11,98.21 L467.53,95.10 L468.95,91.94 L470.38,88.71 L471.80,85.43 L473.22,82.10 L474.65,78.70 L476.07,75.23 L477.49,71.71 L478.91,68.12 L480.34,64.46 L481.76,60.74 L483.18,56.94 L484.60,53.07 L486.03,49.14 L487.45,45.12 L488.87,41.03 L490.29,36.87 L491.72,32.62 L493.14,28.29 L494.56,23.88 L495.98,19.38 L497.41,14.79 L498.83,10.12 L500.25,5.35 L501.67,0.49 L503.10,-4.46 L504.52,-9.52 L505.94,-14.67 L507.36,-19.93 L508.79,-25.30 L510.21,-30.77 L511.63,-36.35 L513.05,-42.04 L514.48,-47.85 L515.90,-53.78 L517.32,-59.83 L518.74,-66.00 L520.17,-72.30 L521.59,-78.73 L523.01,-85.30 L524.43,-92.00 L525.86,-98.83 L527.28,-105.81 L528.70,-112.94 L530.12,-120.21 L531.55,-127.64 L532.97,-135.23 L534.39,-142.97 L535.82,-150.87 L537.24,-158.94 L538.66,-167.19 L540.08,-175.60 L541.51,-184.20 L542.93,-192.97 L544.35,-201.93 L545.77,-211.08 L547.20,-220.42 L548.62,-229.96 L550.04,-239.71 L551.46,-249.65 L552.89,-259.81 L554.31,-270.18 L555.73,-280.76 L557.15,-291.57 L558.58,-302.60 L560.00,-313.86 L561.42,-325.36 L562.84,-337.09 L564.27,-349.06 L565.69,-361.27 L567.11,-373.73 L568.53,-386.44 L569.96,-399.40 L571.38,-412.62 L572.80,-426.10 L574.22,-439.84 L575.65,-453.84 L577.07,-468.10 L578.49,-482.63 L579.91,-497.43 L581.34,-512.49 L582.76,-527.82 L584.18,-543.42 L585.60,-559.29 L587.03,-575.41 L588.45,-591.80 L589.87,-608.45 L591.29,-625.35 L592.72,-642.51 L594.14,-659.90 L595.56,-677.54 L596.98,-695.40 L598.41,-713.49 L599.83,-731.79 L601.25,-750.29 L602.68,-768.98 L604.10,-787.84 L605.52,-806.86 L606.94,-826.03 L608.37,-845.32 L609.79,-864.72 L611.21,-884.20 L612.63,-903.74 L614.06,-923.32 L615.48,-942.92 L616.90,-962.49 L618.32,-982.02 L619.75,-1001.48 L621.17,-1020.82 L622.59,-1040.02 L624.01,-1059.04 L625.44,-1077.84 L626.86,-1096.38 L628.28,-1114.63 L629.70,-1132.54 L631.13,-1150.06 L632.55,-1167.17 L633.97,-1183.80 L635.39,-1199.93 L636.82,-1215.50 L638.24,-1230.47 L639.66,-1244.80 L641.08,-1258.44 L642.51,-1271.35 L643.93,-1283.50 L645.35,-1294.83 L646.77,-1305.32 L648.20,-1314.92 L649.62,-1323.61 L651.04,-1331.35 L652.46,-1338.12 L653.89,-1343.89 L655.31,-1348.64 L656.73,-1352.35 L658.15,-1355.01 L659.58,-1356.62 L661.00,-1357.15" stroke="#FFAD33" stroke-width="2.1" fill="none" clip-path="url(#clipA)" stroke-linejoin="round"/>
<path d="M379.08,212.47 L379.13,212.56 L379.18,212.65 L379.22,212.74 L379.27,212.83 L379.32,212.92 L379.38,213.02 L379.43,213.12 L379.49,213.22 L379.54,213.32 L379.60,213.43 L379.66,213.54 L379.72,213.65 L379.78,213.76 L379.84,213.88 L379.91,214.00 L379.97,214.12 L380.04,214.24 L380.11,214.37 L380.18,214.50 L380.26,214.64 L380.33,214.77 L380.41,214.91 L380.49,215.05 L380.57,215.20 L380.65,215.35 L380.74,215.50 L380.82,215.66 L380.91,215.82 L381.00,215.98 L381.10,216.15 L381.19,216.32 L381.29,216.49 L381.39,216.67 L381.49,216.86 L381.60,217.04 L381.70,217.23 L381.81,217.43 L381.92,217.63 L382.04,217.83 L382.16,218.04 L382.28,218.25 L382.40,218.47 L382.53,218.69 L382.66,218.92 L382.79,219.15 L382.93,219.39 L383.07,219.63 L383.21,219.88 L383.36,220.13 L383.51,220.39 L383.66,220.65 L383.82,220.92 L383.98,221.19 L384.14,221.47 L384.31,221.76 L384.48,222.05 L384.66,222.35 L384.84,222.66 L385.02,222.97 L385.21,223.28 L385.40,223.61 L385.60,223.94 L385.81,224.27 L386.01,224.61 L386.23,224.96 L386.44,225.32 L386.66,225.68 L386.89,226.06 L387.12,226.43 L387.36,226.82 L387.61,227.21 L387.86,227.61 L388.11,228.02 L388.37,228.43 L388.64,228.86 L388.91,229.29 L389.19,229.73 L389.48,230.17 L389.77,230.63 L390.07,231.09 L390.37,231.56 L390.69,232.04 L391.01,232.53 L391.33,233.02 L391.67,233.53 L392.01,234.04 L392.36,234.56 L392.72,235.09 L393.08,235.63 L393.46,236.18 L393.84,236.73 L394.23,237.30 L394.63,237.87 L395.04,238.46 L395.45,239.05 L395.88,239.65 L396.32,240.26 L396.76,240.87 L397.21,241.50 L397.68,242.14 L398.15,242.78 L398.64,243.44 L399.13,244.10 L399.64,244.77 L400.15,245.45 L400.68,246.14 L401.22,246.84 L401.77,247.54 L402.33,248.26 L402.90,248.98 L403.49,249.71 L404.08,250.45 L404.69,251.20 L405.31,251.95 L405.95,252.72 L406.59,253.49 L407.25,254.27 L407.93,255.05 L408.61,255.85 L409.31,256.65 L410.02,257.46 L410.75,258.27 L411.49,259.09 L412.25,259.92 L413.02,260.76 L413.80,261.60 L414.60,262.44 L415.42,263.30 L416.25,264.15 L417.09,265.01 L417.95,265.88 L418.83,266.75 L419.72,267.63 L420.63,268.51 L421.55,269.39 L422.49,270.28 L423.45,271.17 L424.42,272.07 L425.41,272.96 L426.42,273.86 L427.44,274.76 L428.48,275.66 L429.54,276.57 L430.61,277.47 L431.70,278.38 L432.81,279.28 L433.94,280.19 L435.08,281.09 L436.24,282.00 L437.42,282.90 L438.61,283.80 L439.83,284.70 L441.06,285.60 L442.30,286.50 L443.57,287.39 L444.85,288.28 L446.15,289.17 L447.46,290.05 L448.80,290.93 L450.15,291.81 L451.52,292.68 L452.90,293.55 L454.30,294.41 L455.72,295.27 L457.15,296.12 L458.60,296.96 L460.07,297.80 L461.55,298.63 L463.04,299.45 L464.56,300.27 L466.08,301.08 L467.62,301.89 L469.18,302.68 L470.75,303.47 L472.33,304.25 L473.93,305.02 L475.54,305.78 L477.16,306.54 L478.80,307.28 L480.45,308.02 L482.10,308.75 L483.77,309.47 L485.46,310.18 L487.15,310.88 L488.85,311.57 L490.56,312.25 L492.28,312.92 L494.00,313.58 L495.74,314.23 L497.48,314.87 L499.23,315.51 L500.98,316.13 L502.74,316.74 L504.51,317.34 L506.28,317.94 L508.05,318.52 L509.83,319.09 L511.61,319.66 L513.40,320.21 L515.18,320.76 L516.97,321.29 L518.75,321.81 L520.54,322.33 L522.33,322.84 L524.11,323.33 L525.89,323.82 L527.67,324.30 L529.45,324.77 L531.23,325.22 L533.00,325.67 L534.76,326.12 L536.52,326.55 L538.28,326.97 L540.03,327.39 L541.77,327.79 L543.50,328.19 L545.23,328.58 L546.95,328.96 L548.66,329.34 L550.36,329.70 L552.05,330.06 L553.73,330.41 L555.40,330.76 L557.06,331.09 L558.71,331.42 L560.34,331.74 L561.96,332.05 L563.57,332.36 L565.17,332.66 L566.76,332.95 L568.33,333.24 L569.88,333.52 L571.43,333.80 L572.95,334.06 L574.47,334.33 L575.97,334.58 L577.45,334.83 L578.91,335.08 L580.37,335.32 L581.80,335.55 L583.22,335.78 L584.62,336.00 L586.01,336.22 L587.38,336.43 L588.73,336.64 L590.07,336.84 L591.39,337.04 L592.69,337.23 L593.97,337.42 L595.24,337.60 L596.49,337.78 L597.73,337.96 L598.94,338.13 L600.14,338.30 L601.32,338.46 L602.49,338.62 L603.64,338.78 L604.77,338.93 L605.88,339.08 L606.97,339.22 L608.05,339.36 L609.12,339.50 L610.16,339.64 L611.19,339.77 L612.20,339.90 L613.19,340.02 L614.17,340.14 L615.14,340.26 L616.08,340.38 L617.01,340.49 L617.92,340.60 L618.82,340.71 L619.70,340.82 L620.57,340.92 L621.42,341.02 L622.26,341.12 L623.08,341.22 L623.88,341.31 L624.68,341.40 L625.45,341.49 L626.21,341.58 L626.96,341.66 L627.70,341.75 L628.42,341.83 L629.12,341.91 L629.81,341.98 L630.49,342.06 L631.16,342.13 L631.81,342.20 L632.45,342.27 L633.08,342.34 L633.70,342.41 L634.30,342.47 L634.89,342.54 L635.47,342.60 L636.04,342.66 L636.59,342.72 L637.14,342.78 L637.67,342.83 L638.19,342.89 L638.70,342.94 L639.20,342.99 L639.70,343.04 L640.18,343.09 L640.65,343.14 L641.11,343.19 L641.56,343.24 L642.00,343.28 L642.43,343.32 L642.85,343.37 L643.27,343.41 L643.67,343.45 L644.07,343.49 L644.45,343.53 L644.83,343.57 L645.20,343.60 L645.57,343.64 L645.92,343.67 L646.27,343.71 L646.61,343.74 L646.94,343.78 L647.27,343.81 L647.58,343.84 L647.89,343.87 L648.20,343.90 L648.49,343.93 L648.78,343.96 L649.07,343.98 L649.35,344.01 L649.62,344.04 L649.88,344.06 L650.14,344.09 L650.40,344.11 L650.64,344.14 L650.89,344.16 L651.12,344.18 L651.35,344.20 L651.58,344.23 L651.80,344.25 L652.02,344.27 L652.23,344.29 L652.43,344.31 L652.64,344.33 L652.83,344.35 L653.02,344.36 L653.21,344.38 L653.40,344.40 L653.58,344.42 L653.75,344.43 L653.92,344.45 L654.09,344.46 L654.25,344.48 L654.41,344.49 L654.57,344.51 L654.72,344.52 L654.87,344.54 L655.01,344.55 L655.16,344.56 L655.30,344.58 L655.43,344.59 L655.56,344.60 L655.69,344.61 L655.82,344.63 L655.94,344.64 L656.06,344.65 L656.18,344.66 L656.29,344.67 L656.41,344.68 L656.52,344.69 L656.62,344.70 L656.73,344.71 L656.83,344.72 L656.93,344.73 L657.03,344.74 L657.12,344.75 L657.21,344.76 L657.30,344.76 L657.39,344.77 L657.48,344.78 L657.56,344.79 L657.64,344.79 L657.72,344.80 L657.80,344.81 L657.88,344.82 L657.95,344.82 L658.03,344.83 L658.10,344.84 L658.17,344.84 L658.24,344.85 L658.30,344.86 L658.37,344.86 L658.43,344.87 L658.49,344.87 L658.55,344.88 L658.61,344.88 L658.67,344.89 L658.72,344.89 L658.78,344.90 L658.83,344.90 L658.88,344.91 L658.93,344.91 L658.98,344.92 L659.03,344.92 L659.08,344.93 L659.13,344.93 L659.17,344.93 L659.21,344.94 L659.26,344.94 L659.30,344.95 L659.34,344.95 L659.38,344.95 L659.42,344.96 L659.46,344.96 L659.49,344.96 L659.53,344.97 L659.57,344.97 L659.60,344.97 L659.63,344.98 L659.67,344.98 L659.70,344.98 L659.73,344.99 L659.76,344.99 L659.79,344.99 L659.82,344.99 L659.85,345.00 L659.88,345.00 L659.90,345.00 L659.93,345.00 L659.96,345.01 L659.98,345.01 L660.00,345.01 L660.03,345.01 L660.05,345.01 L660.07,345.02 L660.10,345.02 L660.12,345.02 L660.14,345.02 L660.16,345.02 L660.18,345.03 L660.20,345.03 L660.22,345.03 L660.24,345.03 L660.26,345.03 L660.28,345.03 L660.29,345.04 L660.31,345.04 L660.33,345.04 L660.34,345.04 L660.36,345.04 L660.37,345.04 L660.39,345.04 L660.40,345.05 L660.42,345.05 L660.43,345.05 L660.45,345.05 L660.46,345.05 L660.47,345.05 L660.49,345.05 L660.50,345.05 L660.51,345.06 L660.52,345.06 L660.53,345.06 L660.54,345.06 L660.56,345.06 L660.57,345.06 L660.58,345.06 L660.59,345.06 L660.60,345.06 L660.61,345.06 L660.62,345.07 L660.63,345.07 L660.63,345.07 L660.64,345.07 L660.65,345.07 L660.66,345.07 L660.67,345.07 L660.68,345.07 L660.68,345.07 L660.69,345.07 L660.70,345.07 L660.71,345.07 L660.71,345.07 L660.72,345.07 L660.73,345.08 L660.73,345.08 L660.74,345.08 L660.75,345.08 L660.75,345.08 L660.76,345.08 L660.76,345.08 L660.77,345.08 L660.78,345.08 L660.78,345.08 L660.79,345.08 L660.79,345.08 L660.80,345.08 L660.80,345.08 L660.81,345.08 L660.81,345.08" stroke="#000" stroke-width="1.95" stroke-dasharray="3.2 2.5" fill="none" clip-path="url(#clipA)"/>
<path d="M660.25,210.55 L659.51,209.50 L658.76,208.45 L658.03,207.39 L657.29,206.33 L656.56,205.26 L655.84,204.18 L655.12,203.10 L654.40,202.01 L653.69,200.91 L652.98,199.81 L652.27,198.70 L651.57,197.58 L650.87,196.46 L650.17,195.33 L649.48,194.20 L648.80,193.06 L648.11,191.91 L647.44,190.76 L646.76,189.60 L646.09,188.44 L645.42,187.27 L644.76,186.09 L644.10,184.90 L643.44,183.71 L642.79,182.52 L642.14,181.31 L641.49,180.11 L640.85,178.89 L640.21,177.67 L639.58,176.44 L638.95,175.21 L638.32,173.97 L637.70,172.72 L637.08,171.47 L636.46,170.21 L635.85,168.95 L635.24,167.68 L634.63,166.40 L634.03,165.12 L633.43,163.83 L632.84,162.54 L632.25,161.23 L631.66,159.93 L631.07,158.62 L630.49,157.30 L629.92,155.97 L629.34,154.64 L628.77,153.30 L628.20,151.96 L627.64,150.61 L627.08,149.26 L626.52,147.90 L625.97,146.53 L625.42,145.16 L624.87,143.78 L624.33,142.40 L623.79,141.01 L623.25,139.62 L622.71,138.21 L622.18,136.81 L621.66,135.40 L621.13,133.98 L620.61,132.56 L620.09,131.13 L619.58,129.69 L619.07,128.25 L618.56,126.81 L618.05,125.36 L617.55,123.90 L617.05,122.44 L616.56,120.97 L616.06,119.50 L615.57,118.02 L615.09,116.54 L614.60,115.05 L614.12,113.56 L613.64,112.06 L613.17,110.56 L612.70,109.05 L612.23,107.54 L611.76,106.02 L611.30,104.50 L610.84,102.97 L610.38,101.44 L609.93,99.90 L609.48,98.36 L609.03,96.81 L608.59,95.26 L608.14,93.70 L607.70,92.14 L607.27,90.57 L606.83,89.00 L606.40,87.43 L605.97,85.85 L605.55,84.27 L605.12,82.68 L604.70,81.09 L604.29,79.49 L603.87,77.89 L603.46,76.28 L603.05,74.67 L602.64,73.06 L602.24,71.44 L601.84,69.82 L601.44,68.20 L601.04,66.57 L600.65,64.94 L600.26,63.30 L599.87,61.66 L599.48,60.02 L599.10,58.37 L598.72,56.72 L598.34,55.06 L597.96,53.41 L597.59,51.74 L597.22,50.08 L596.85,48.41 L596.48,46.74 L596.12,45.07 L595.76,43.39 L595.40,41.71 L595.04,40.03 L594.69,38.34 L594.34,36.65 L593.99,34.96 L593.64,33.26 L593.29,31.56 L592.95,29.86 L592.61,28.16 L592.27,26.46 L591.94,24.75 L591.60,23.04 L591.27,21.32 L590.94,19.61 L590.62,17.89 L590.29,16.17 L589.97,14.45 L589.65,12.73 L589.33,11.00 L589.02,9.27 L588.70,7.55 L588.39,5.81 L588.08,4.08 L587.77,2.35 L587.47,0.61 L587.16,-1.13 L586.86,-2.87 L586.56,-4.61 L586.27,-6.35 L585.97,-8.09 L585.68,-9.84 L585.39,-11.59 L585.10,-13.33 L584.81,-15.08 L584.53,-16.83 L584.24,-18.58 L583.96,-20.33 L583.68,-22.08 L583.41,-23.84 L583.13,-25.59 L582.86,-27.34 L582.59,-29.10 L582.32,-30.85 L582.05,-32.61 L581.78,-34.36 L581.52,-36.12 L581.26,-37.88 L580.99,-39.63 L580.74,-41.39 L580.48,-43.15 L580.22,-44.90 L579.97,-46.66 L579.72,-48.42 L579.47,-50.17 L579.22,-51.93 L578.97,-53.69 L578.73,-55.44 L578.49,-57.20 L578.25,-58.95 L578.01,-60.70 L577.77,-62.46 L577.53,-64.21 L577.30,-65.96 L577.06,-67.71 L576.83,-69.46 L576.60,-71.21 L576.38,-72.96 L576.15,-74.71 L575.92,-76.46 L575.70,-78.20 L575.48,-79.95 L575.26,-81.69 L575.04,-83.43 L574.82,-85.17 L574.61,-86.91 L574.39,-88.65 L574.18,-90.38 L573.97,-92.11 L573.76,-93.85 L573.55,-95.58 L573.35,-97.31 L573.14,-99.03 L572.94,-100.76 L572.74,-102.48 L572.54,-104.20 L572.34,-105.92 L572.14,-107.64 L571.94,-109.35 L571.75,-111.06 L571.55,-112.77 L571.36,-114.48 L571.17,-116.19 L570.98,-117.89 L570.79,-119.59 L570.61,-121.29 L570.42,-122.98 L570.24,-124.67 L570.05,-126.36 L569.87,-128.05 L569.69,-129.74 L569.51,-131.42 L569.33,-133.10 L569.16,-134.77 L568.98,-136.44 L568.81,-138.11 L568.64,-139.78 L568.47,-141.44 L568.30,-143.10 L568.13,-144.76 L567.96,-146.41 L567.79,-148.06 L567.63,-149.71 L567.46,-151.35 L567.30,-152.99 L567.14,-154.63 L566.98,-156.26 L566.82,-157.89 L566.66,-159.52 L566.50,-161.14 L566.35,-162.76 L566.19,-164.38 L566.04,-165.99 L565.89,-167.59 L565.73,-169.20 L565.58,-170.80 L565.44,-172.39 L565.29,-173.98 L565.14,-175.57 L564.99,-177.15 L564.85,-178.73 L564.70,-180.31 L564.56,-181.88 L564.42,-183.45 L564.28,-185.01 L564.14,-186.57 L564.00,-188.12 L563.86,-189.67 L563.73,-191.22 L563.59,-192.76 L563.46,-194.30 L563.32,-195.83 L563.19,-197.36 L563.06,-198.88 L562.93,-200.40 L562.80,-201.91 L562.67,-203.42 L562.54,-204.93 L562.41,-206.43 L562.29,-207.92 L562.16,-209.41 L562.04,-210.90 L561.91,-212.38 L561.79,-213.86 L561.67,-215.33 L561.55,-216.80 L561.43,-218.26 L561.31,-219.72 L561.19,-221.17 L561.08,-222.62 L560.96,-224.06 L560.84,-225.50 L560.73,-226.93 L560.62,-228.36 L560.50,-229.78 L560.39,-231.20 L560.28,-232.61 L560.17,-234.02 L560.06,-235.42 L559.95,-236.82 L559.84,-238.21 L559.74,-239.60 L559.63,-240.98 L559.52,-242.36 L559.42,-243.73 L559.31,-245.10 L559.21,-246.46 L559.11,-247.82 L559.01,-249.17" stroke="#5a5a5a" stroke-width="1.8" stroke-dasharray="2.8 2.1" fill="none" clip-path="url(#clipA)"/>
<circle cx="380.94" cy="215.87" r="2.8" fill="#000"/>
<circle cx="395.09" cy="238.53" r="2.8" fill="#000"/>
<circle cx="411.10" cy="258.66" r="2.8" fill="#000"/>
<circle cx="494.46" cy="313.75" r="2.8" fill="#000"/>
<circle cx="544.54" cy="328.43" r="2.8" fill="#000"/>
<circle cx="627.26" cy="341.70" r="2.8" fill="#000"/>
<circle cx="595.93" cy="44.20" r="2.8" fill="#000"/>
<circle cx="639.40" cy="176.10" r="2.8" fill="#000"/>
<rect x="93" y="0" width="568.5" height="0.9" fill="#b0b0b0"/>
<path d="M93.40,351.8 v-2.1 M206.92,351.8 v-2.1 M320.44,351.8 v-2.1 M433.96,351.8 v-2.1 M547.48,351.8 v-2.1 M661.00,351.8 v-2.1 M121.78,351.8 v-1.5 M150.16,351.8 v-1.5 M178.54,351.8 v-1.5 M235.30,351.8 v-1.5 M263.68,351.8 v-1.5 M292.06,351.8 v-1.5 M348.82,351.8 v-1.5 M377.20,351.8 v-1.5 M405.58,351.8 v-1.5 M462.34,351.8 v-1.5 M490.72,351.8 v-1.5 M519.10,351.8 v-1.5 M575.86,351.8 v-1.5 M604.24,351.8 v-1.5 M632.62,351.8 v-1.5 M93.4,345.10 h2.1 M93.4,277.01 h2.1 M93.4,208.92 h2.1 M93.4,140.83 h2.1 M93.4,72.74 h2.1 M93.4,4.65 h2.1 M93.4,328.08 h1.5 M93.4,311.06 h1.5 M93.4,294.03 h1.5 M93.4,259.99 h1.5 M93.4,242.97 h1.5 M93.4,225.94 h1.5 M93.4,191.90 h1.5 M93.4,174.88 h1.5 M93.4,157.85 h1.5 M93.4,123.81 h1.5 M93.4,106.78 h1.5 M93.4,89.76 h1.5 M93.4,55.72 h1.5 M93.4,38.69 h1.5 M93.4,21.67 h1.5 M661.0,4.65 h-2.1 M661.0,174.88 h-2.1 M661.0,311.06 h-2.1 M661.0,328.08 h-2.1 M661.0,341.70 h-2.1" stroke="#111" stroke-width="1" fill="none"/>
<rect x="93.4" y="1.4" width="567.60" height="350.40" fill="none" stroke="#111" stroke-width="1.25"/>
<text x="89.80" y="349.95" font-size="13.7" text-anchor="end" font-family="Liberation Sans, sans-serif" >0</text>
<text x="89.80" y="281.86" font-size="13.7" text-anchor="end" font-family="Liberation Sans, sans-serif" >2</text>
<text x="89.80" y="213.77" font-size="13.7" text-anchor="end" font-family="Liberation Sans, sans-serif" >4</text>
<text x="89.80" y="145.68" font-size="13.7" text-anchor="end" font-family="Liberation Sans, sans-serif" >6</text>
<text x="89.80" y="77.59" font-size="13.7" text-anchor="end" font-family="Liberation Sans, sans-serif" >8</text>
<text x="89.80" y="9.50" font-size="13.7" text-anchor="end" font-family="Liberation Sans, sans-serif" >10</text>
<text x="93.40" y="368.00" font-size="13.7" text-anchor="middle" font-family="Liberation Sans, sans-serif" >0.0</text>
<text x="206.92" y="368.00" font-size="13.7" text-anchor="middle" font-family="Liberation Sans, sans-serif" >0.2</text>
<text x="320.44" y="368.00" font-size="13.7" text-anchor="middle" font-family="Liberation Sans, sans-serif" >0.4</text>
<text x="433.96" y="368.00" font-size="13.7" text-anchor="middle" font-family="Liberation Sans, sans-serif" >0.6</text>
<text x="547.48" y="368.00" font-size="13.7" text-anchor="middle" font-family="Liberation Sans, sans-serif" >0.8</text>
<text x="661.00" y="368.00" font-size="13.7" text-anchor="middle" font-family="Liberation Sans, sans-serif" >1.0</text>
<text x="664.50" y="9.50" font-size="13.7" text-anchor="start" font-family="Liberation Sans, sans-serif" >10</text>
<text x="664.50" y="179.72" font-size="13.7" text-anchor="start" font-family="Liberation Sans, sans-serif" >5</text>
<text x="664.50" y="315.91" font-size="13.7" text-anchor="start" font-family="Liberation Sans, sans-serif" >1</text>
<text x="664.50" y="332.93" font-size="13.7" text-anchor="start" font-family="Liberation Sans, sans-serif" >0.5</text>
<text x="664.50" y="346.55" font-size="13.7" text-anchor="start" font-family="Liberation Sans, sans-serif" >0.1</text>
<line x1="104" y1="14.6" x2="133.7" y2="14.6" stroke="#FFAD33" stroke-width="2.1"/>
<text x="139.4" y="19.76" font-size="12.9" font-family="Liberation Sans, sans-serif"><tspan font-style="italic">μ</tspan> = 50</text>
<line x1="104" y1="38.7" x2="133.7" y2="38.7" stroke="#FF0000" stroke-width="2.1"/>
<text x="139.4" y="43.86" font-size="12.9" font-family="Liberation Sans, sans-serif"><tspan font-style="italic">μ</tspan> = 10</text>
<line x1="104" y1="62.8" x2="133.7" y2="62.8" stroke="#0000FF" stroke-width="2.1"/>
<text x="139.4" y="67.96" font-size="12.9" font-family="Liberation Sans, sans-serif"><tspan font-style="italic">μ</tspan> = 5</text>
<line x1="104" y1="82.9" x2="133.7" y2="82.9" stroke="#80FF00" stroke-width="2.1"/>
<text x="139.4" y="88.06" font-size="12.9" font-family="Liberation Sans, sans-serif"><tspan font-style="italic">μ</tspan> = 1</text>
<line x1="104" y1="106.9" x2="133.7" y2="106.9" stroke="#108585" stroke-width="2.1"/>
<text x="139.4" y="112.06" font-size="12.9" font-family="Liberation Sans, sans-serif"><tspan font-style="italic">μ</tspan> = 0.5</text>
<line x1="104" y1="130.4" x2="133.7" y2="130.4" stroke="#808000" stroke-width="2.1"/>
<text x="139.4" y="135.56" font-size="12.9" font-family="Liberation Sans, sans-serif"><tspan font-style="italic">μ</tspan> = 0.1</text>
<text x="465.50" y="298.70" font-size="15.1" text-anchor="start" font-family="Liberation Sans, sans-serif" >inversion</text>
<text x="514.50" y="247.80" font-size="15.1" text-anchor="start" font-family="Liberation Sans, sans-serif" >transit for the origin</text>
<line x1="649.6" y1="247.5" x2="649.6" y2="216" stroke="#888" stroke-width="1.5"/>
<path d="M649.6,198.7 L655.9,221.7 L649.6,218.4 L643.3,221.7 Z" fill="#000"/>
<text x="368.5" y="389.2" font-size="14.5" font-family="Liberation Sans, sans-serif">t/<tspan font-style="italic">t</tspan><tspan font-style="italic" font-size="10.5" dy="3">s</tspan></text>
<g transform="translate(45.4,176.55) rotate(-90)"><line x1="-16.05" y1="0" x2="16.05" y2="0" stroke="#000" stroke-width="1.2"/><text x="0.2" y="-5.1" font-size="13.8" text-anchor="middle" font-family="Liberation Sans, sans-serif" font-style="italic">a</text><text x="-17.2" y="18.7" font-size="14.8" text-anchor="start" font-family="Liberation Sans, sans-serif" font-style="italic">D</text><line x1="1.85" y1="5.9" x2="-3.95" y2="23.4" stroke="#000" stroke-width="1.2"/><text x="3.9" y="18.3" font-size="14.5" text-anchor="start" font-family="Liberation Sans, sans-serif" font-style="italic">t</text><text x="9.8" y="12.8" font-size="9.2" text-anchor="start" font-family="Liberation Sans, sans-serif" font-style="normal">2</text><text x="7.3" y="21.9" font-size="10.5" text-anchor="start" font-family="Liberation Sans, sans-serif" font-style="italic">s</text></g>
<g font-family="Liberation Serif, serif" font-weight="bold"><text x="0.2" y="354.4" font-size="22.5">(</text><text x="7.3" y="355.9" font-size="25.5">a</text><text x="18.7" y="354.4" font-size="22.5">)</text></g>
<clipPath id="clipB"><rect x="98.5" y="414.0" width="576.8" height="356.4"/></clipPath>
<line x1="213.86" y1="414.0" x2="213.86" y2="770.4" stroke="#cacaca" stroke-width="1"/>
<line x1="329.22" y1="414.0" x2="329.22" y2="770.4" stroke="#cacaca" stroke-width="1"/>
<line x1="444.58" y1="414.0" x2="444.58" y2="770.4" stroke="#cacaca" stroke-width="1"/>
<line x1="559.94" y1="414.0" x2="559.94" y2="770.4" stroke="#cacaca" stroke-width="1"/>
<line x1="98.5" y1="770.40" x2="675.3" y2="770.40" stroke="#cacaca" stroke-width="1"/>
<line x1="98.5" y1="711.00" x2="675.3" y2="711.00" stroke="#cacaca" stroke-width="1"/>
<line x1="98.5" y1="592.20" x2="675.3" y2="592.20" stroke="#cacaca" stroke-width="1"/>
<line x1="98.5" y1="532.80" x2="675.3" y2="532.80" stroke="#cacaca" stroke-width="1"/>
<line x1="98.5" y1="473.40" x2="675.3" y2="473.40" stroke="#cacaca" stroke-width="1"/>
<line x1="98.5" y1="414.00" x2="675.3" y2="414.00" stroke="#cacaca" stroke-width="1"/>
<line x1="98.5" y1="651.60" x2="675.3" y2="651.60" stroke="#222" stroke-width="1"/>
<path d="M98.50,662.40 L99.95,662.37 L101.39,662.35 L102.84,662.32 L104.28,662.29 L105.73,662.26 L107.17,662.24 L108.62,662.21 L110.06,662.18 L111.51,662.16 L112.96,662.13 L114.40,662.10 L115.85,662.07 L117.29,662.05 L118.74,662.02 L120.18,661.99 L121.63,661.97 L123.08,661.94 L124.52,661.91 L125.97,661.88 L127.41,661.86 L128.86,661.83 L130.30,661.80 L131.75,661.77 L133.19,661.75 L134.64,661.72 L136.09,661.69 L137.53,661.66 L138.98,661.64 L140.42,661.61 L141.87,661.58 L143.31,661.56 L144.76,661.53 L146.21,661.50 L147.65,661.47 L149.10,661.45 L150.54,661.42 L151.99,661.39 L153.43,661.36 L154.88,661.34 L156.32,661.31 L157.77,661.28 L159.22,661.25 L160.66,661.22 L162.11,661.20 L163.55,661.17 L165.00,661.14 L166.44,661.11 L167.89,661.09 L169.34,661.06 L170.78,661.03 L172.23,661.00 L173.67,660.98 L175.12,660.95 L176.56,660.92 L178.01,660.89 L179.45,660.87 L180.90,660.84 L182.35,660.81 L183.79,660.78 L185.24,660.75 L186.68,660.73 L188.13,660.70 L189.57,660.67 L191.02,660.64 L192.46,660.62 L193.91,660.59 L195.36,660.56 L196.80,660.53 L198.25,660.50 L199.69,660.48 L201.14,660.45 L202.58,660.42 L204.03,660.39 L205.48,660.36 L206.92,660.34 L208.37,660.31 L209.81,660.28 L211.26,660.25 L212.70,660.22 L214.15,660.20 L215.59,660.17 L217.04,660.14 L218.49,660.11 L219.93,660.08 L221.38,660.06 L222.82,660.03 L224.27,660.00 L225.71,659.97 L227.16,659.94 L228.61,659.92 L230.05,659.89 L231.50,659.86 L232.94,659.83 L234.39,659.80 L235.83,659.78 L237.28,659.75 L238.72,659.72 L240.17,659.69 L241.62,659.66 L243.06,659.64 L244.51,659.61 L245.95,659.58 L247.40,659.55 L248.84,659.52 L250.29,659.49 L251.74,659.47 L253.18,659.44 L254.63,659.41 L256.07,659.38 L257.52,659.35 L258.96,659.32 L260.41,659.30 L261.85,659.27 L263.30,659.24 L264.75,659.21 L266.19,659.18 L267.64,659.15 L269.08,659.13 L270.53,659.10 L271.97,659.07 L273.42,659.04 L274.86,659.01 L276.31,658.98 L277.76,658.96 L279.20,658.93 L280.65,658.90 L282.09,658.87 L283.54,658.84 L284.98,658.81 L286.43,658.78 L287.88,658.76 L289.32,658.73 L290.77,658.70 L292.21,658.67 L293.66,658.64 L295.10,658.61 L296.55,658.59 L297.99,658.56 L299.44,658.53 L300.89,658.50 L302.33,658.47 L303.78,658.44 L305.22,658.41 L306.67,658.39 L308.11,658.36 L309.56,658.33 L311.01,658.30 L312.45,658.27 L313.90,658.24 L315.34,658.21 L316.79,658.18 L318.23,658.16 L319.68,658.13 L321.12,658.10 L322.57,658.07 L324.02,658.04 L325.46,658.01 L326.91,657.98 L328.35,657.96 L329.80,657.93 L331.24,657.90 L332.69,657.87 L334.14,657.84 L335.58,657.81 L337.03,657.78 L338.47,657.75 L339.92,657.73 L341.36,657.70 L342.81,657.67 L344.25,657.64 L345.70,657.61 L347.15,657.58 L348.59,657.55 L350.04,657.52 L351.48,657.49 L352.93,657.47 L354.37,657.44 L355.82,657.41 L357.26,657.38 L358.71,657.35 L360.16,657.32 L361.60,657.29 L363.05,657.26 L364.49,657.23 L365.94,657.21 L367.38,657.18 L368.83,657.15 L370.28,657.12 L371.72,657.09 L373.17,657.06 L374.61,657.03 L376.06,657.00 L377.50,656.97 L378.95,656.94 L380.39,656.92 L381.84,656.89 L383.29,656.86 L384.73,656.83 L386.18,656.80 L387.62,656.77 L389.07,656.74 L390.51,656.71 L391.96,656.68 L393.41,656.65 L394.85,656.63 L396.30,656.60 L397.74,656.57 L399.19,656.54 L400.63,656.51 L402.08,656.48 L403.52,656.45 L404.97,656.42 L406.42,656.39 L407.86,656.36 L409.31,656.33 L410.75,656.30 L412.20,656.28 L413.64,656.25 L415.09,656.22 L416.54,656.19 L417.98,656.16 L419.43,656.13 L420.87,656.10 L422.32,656.07 L423.76,656.04 L425.21,656.01 L426.65,655.98 L428.10,655.95 L429.55,655.93 L430.99,655.90 L432.44,655.87 L433.88,655.84 L435.33,655.81 L436.77,655.78 L438.22,655.75 L439.66,655.72 L441.11,655.69 L442.56,655.66 L444.00,655.63 L445.45,655.60 L446.89,655.57 L448.34,655.54 L449.78,655.52 L451.23,655.49 L452.68,655.46 L454.12,655.43 L455.57,655.40 L457.01,655.37 L458.46,655.34 L459.90,655.31 L461.35,655.28 L462.79,655.25 L464.24,655.22 L465.69,655.19 L467.13,655.16 L468.58,655.13 L470.02,655.10 L471.47,655.07 L472.91,655.05 L474.36,655.02 L475.81,654.99 L477.25,654.96 L478.70,654.93 L480.14,654.90 L481.59,654.87 L483.03,654.84 L484.48,654.81 L485.92,654.78 L487.37,654.75 L488.82,654.72 L490.26,654.69 L491.71,654.66 L493.15,654.63 L494.60,654.60 L496.04,654.57 L497.49,654.54 L498.94,654.52 L500.38,654.49 L501.83,654.46 L503.27,654.43 L504.72,654.40 L506.16,654.37 L507.61,654.34 L509.05,654.31 L510.50,654.28 L511.95,654.25 L513.39,654.22 L514.84,654.19 L516.28,654.16 L517.73,654.13 L519.17,654.10 L520.62,654.07 L522.06,654.04 L523.51,654.01 L524.96,653.98 L526.40,653.95 L527.85,653.92 L529.29,653.89 L530.74,653.87 L532.18,653.84 L533.63,653.81 L535.08,653.78 L536.52,653.75 L537.97,653.72 L539.41,653.69 L540.86,653.66 L542.30,653.63 L543.75,653.60 L545.19,653.57 L546.64,653.54 L548.09,653.51 L549.53,653.48 L550.98,653.45 L552.42,653.42 L553.87,653.39 L555.31,653.36 L556.76,653.33 L558.21,653.30 L559.65,653.27 L561.10,653.24 L562.54,653.21 L563.99,653.18 L565.43,653.15 L566.88,653.12 L568.32,653.09 L569.77,653.06 L571.22,653.04 L572.66,653.01 L574.11,652.98 L575.55,652.95 L577.00,652.92 L578.44,652.89 L579.89,652.86 L581.34,652.83 L582.78,652.80 L584.23,652.77 L585.67,652.74 L587.12,652.71 L588.56,652.68 L590.01,652.65 L591.45,652.62 L592.90,652.59 L594.35,652.56 L595.79,652.53 L597.24,652.50 L598.68,652.47 L600.13,652.44 L601.57,652.41 L603.02,652.38 L604.46,652.35 L605.91,652.32 L607.36,652.29 L608.80,652.26 L610.25,652.23 L611.69,652.20 L613.14,652.17 L614.58,652.14 L616.03,652.11 L617.48,652.08 L618.92,652.05 L620.37,652.02 L621.81,652.00 L623.26,651.97 L624.70,651.94 L626.15,651.91 L627.59,651.88 L629.04,651.85 L630.49,651.82 L631.93,651.79 L633.38,651.76 L634.82,651.73 L636.27,651.70 L637.71,651.67 L639.16,651.64 L640.61,651.61 L642.05,651.58 L643.50,651.55 L644.94,651.52 L646.39,651.49 L647.83,651.46 L649.28,651.43 L650.72,651.40 L652.17,651.37 L653.62,651.34 L655.06,651.31 L656.51,651.28 L657.95,651.25 L659.40,651.22 L660.84,651.19 L662.29,651.16 L663.74,651.13 L665.18,651.10 L666.63,651.07 L668.07,651.04 L669.52,651.01 L670.96,650.98 L672.41,650.95 L673.85,650.92 L675.30,650.89" stroke="#808000" stroke-width="2.1" fill="none" clip-path="url(#clipB)" stroke-linejoin="round"/>
<path d="M98.50,691.20 L99.95,691.10 L101.39,691.00 L102.84,690.90 L104.28,690.80 L105.73,690.70 L107.17,690.60 L108.62,690.50 L110.06,690.40 L111.51,690.30 L112.96,690.20 L114.40,690.10 L115.85,690.00 L117.29,689.90 L118.74,689.79 L120.18,689.69 L121.63,689.59 L123.08,689.49 L124.52,689.39 L125.97,689.28 L127.41,689.18 L128.86,689.08 L130.30,688.98 L131.75,688.87 L133.19,688.77 L134.64,688.67 L136.09,688.56 L137.53,688.46 L138.98,688.36 L140.42,688.25 L141.87,688.15 L143.31,688.04 L144.76,687.94 L146.21,687.83 L147.65,687.73 L149.10,687.62 L150.54,687.52 L151.99,687.41 L153.43,687.31 L154.88,687.20 L156.32,687.10 L157.77,686.99 L159.22,686.88 L160.66,686.78 L162.11,686.67 L163.55,686.56 L165.00,686.46 L166.44,686.35 L167.89,686.24 L169.34,686.14 L170.78,686.03 L172.23,685.92 L173.67,685.81 L175.12,685.70 L176.56,685.60 L178.01,685.49 L179.45,685.38 L180.90,685.27 L182.35,685.16 L183.79,685.05 L185.24,684.94 L186.68,684.83 L188.13,684.72 L189.57,684.61 L191.02,684.50 L192.46,684.39 L193.91,684.28 L195.36,684.17 L196.80,684.06 L198.25,683.95 L199.69,683.84 L201.14,683.73 L202.58,683.62 L204.03,683.51 L205.48,683.39 L206.92,683.28 L208.37,683.17 L209.81,683.06 L211.26,682.95 L212.70,682.83 L214.15,682.72 L215.59,682.61 L217.04,682.49 L218.49,682.38 L219.93,682.27 L221.38,682.15 L222.82,682.04 L224.27,681.93 L225.71,681.81 L227.16,681.70 L228.61,681.58 L230.05,681.47 L231.50,681.35 L232.94,681.24 L234.39,681.12 L235.83,681.01 L237.28,680.89 L238.72,680.78 L240.17,680.66 L241.62,680.55 L243.06,680.43 L244.51,680.31 L245.95,680.20 L247.40,680.08 L248.84,679.96 L250.29,679.85 L251.74,679.73 L253.18,679.61 L254.63,679.49 L256.07,679.38 L257.52,679.26 L258.96,679.14 L260.41,679.02 L261.85,678.90 L263.30,678.79 L264.75,678.67 L266.19,678.55 L267.64,678.43 L269.08,678.31 L270.53,678.19 L271.97,678.07 L273.42,677.95 L274.86,677.83 L276.31,677.71 L277.76,677.59 L279.20,677.47 L280.65,677.35 L282.09,677.23 L283.54,677.11 L284.98,676.99 L286.43,676.87 L287.88,676.75 L289.32,676.62 L290.77,676.50 L292.21,676.38 L293.66,676.26 L295.10,676.14 L296.55,676.01 L297.99,675.89 L299.44,675.77 L300.89,675.65 L302.33,675.52 L303.78,675.40 L305.22,675.28 L306.67,675.15 L308.11,675.03 L309.56,674.90 L311.01,674.78 L312.45,674.66 L313.90,674.53 L315.34,674.41 L316.79,674.28 L318.23,674.16 L319.68,674.03 L321.12,673.91 L322.57,673.78 L324.02,673.66 L325.46,673.53 L326.91,673.41 L328.35,673.28 L329.80,673.15 L331.24,673.03 L332.69,672.90 L334.14,672.77 L335.58,672.65 L337.03,672.52 L338.47,672.39 L339.92,672.27 L341.36,672.14 L342.81,672.01 L344.25,671.88 L345.70,671.75 L347.15,671.63 L348.59,671.50 L350.04,671.37 L351.48,671.24 L352.93,671.11 L354.37,670.98 L355.82,670.86 L357.26,670.73 L358.71,670.60 L360.16,670.47 L361.60,670.34 L363.05,670.21 L364.49,670.08 L365.94,669.95 L367.38,669.82 L368.83,669.69 L370.28,669.56 L371.72,669.43 L373.17,669.30 L374.61,669.16 L376.06,669.03 L377.50,668.90 L378.95,668.77 L380.39,668.64 L381.84,668.51 L383.29,668.38 L384.73,668.24 L386.18,668.11 L387.62,667.98 L389.07,667.85 L390.51,667.71 L391.96,667.58 L393.41,667.45 L394.85,667.31 L396.30,667.18 L397.74,667.05 L399.19,666.91 L400.63,666.78 L402.08,666.65 L403.52,666.51 L404.97,666.38 L406.42,666.25 L407.86,666.11 L409.31,665.98 L410.75,665.84 L412.20,665.71 L413.64,665.57 L415.09,665.44 L416.54,665.30 L417.98,665.17 L419.43,665.03 L420.87,664.90 L422.32,664.76 L423.76,664.62 L425.21,664.49 L426.65,664.35 L428.10,664.22 L429.55,664.08 L430.99,663.94 L432.44,663.81 L433.88,663.67 L435.33,663.53 L436.77,663.39 L438.22,663.26 L439.66,663.12 L441.11,662.98 L442.56,662.85 L444.00,662.71 L445.45,662.57 L446.89,662.43 L448.34,662.29 L449.78,662.16 L451.23,662.02 L452.68,661.88 L454.12,661.74 L455.57,661.60 L457.01,661.46 L458.46,661.32 L459.90,661.18 L461.35,661.04 L462.79,660.91 L464.24,660.77 L465.69,660.63 L467.13,660.49 L468.58,660.35 L470.02,660.21 L471.47,660.07 L472.91,659.93 L474.36,659.79 L475.81,659.65 L477.25,659.51 L478.70,659.36 L480.14,659.22 L481.59,659.08 L483.03,658.94 L484.48,658.80 L485.92,658.66 L487.37,658.52 L488.82,658.38 L490.26,658.24 L491.71,658.09 L493.15,657.95 L494.60,657.81 L496.04,657.67 L497.49,657.53 L498.94,657.38 L500.38,657.24 L501.83,657.10 L503.27,656.96 L504.72,656.81 L506.16,656.67 L507.61,656.53 L509.05,656.39 L510.50,656.24 L511.95,656.10 L513.39,655.96 L514.84,655.81 L516.28,655.67 L517.73,655.53 L519.17,655.38 L520.62,655.24 L522.06,655.10 L523.51,654.95 L524.96,654.81 L526.40,654.66 L527.85,654.52 L529.29,654.38 L530.74,654.23 L532.18,654.09 L533.63,653.94 L535.08,653.80 L536.52,653.65 L537.97,653.51 L539.41,653.36 L540.86,653.22 L542.30,653.07 L543.75,652.93 L545.19,652.78 L546.64,652.64 L548.09,652.49 L549.53,652.35 L550.98,652.20 L552.42,652.06 L553.87,651.91 L555.31,651.77 L556.76,651.62 L558.21,651.47 L559.65,651.33 L561.10,651.18 L562.54,651.04 L563.99,650.89 L565.43,650.74 L566.88,650.60 L568.32,650.45 L569.77,650.30 L571.22,650.16 L572.66,650.01 L574.11,649.87 L575.55,649.72 L577.00,649.57 L578.44,649.43 L579.89,649.28 L581.34,649.13 L582.78,648.98 L584.23,648.84 L585.67,648.69 L587.12,648.54 L588.56,648.40 L590.01,648.25 L591.45,648.10 L592.90,647.95 L594.35,647.81 L595.79,647.66 L597.24,647.51 L598.68,647.36 L600.13,647.22 L601.57,647.07 L603.02,646.92 L604.46,646.77 L605.91,646.63 L607.36,646.48 L608.80,646.33 L610.25,646.18 L611.69,646.03 L613.14,645.89 L614.58,645.74 L616.03,645.59 L617.48,645.44 L618.92,645.29 L620.37,645.15 L621.81,645.00 L623.26,644.85 L624.70,644.70 L626.15,644.55 L627.59,644.40 L629.04,644.26 L630.49,644.11 L631.93,643.96 L633.38,643.81 L634.82,643.66 L636.27,643.51 L637.71,643.37 L639.16,643.22 L640.61,643.07 L642.05,642.92 L643.50,642.77 L644.94,642.62 L646.39,642.47 L647.83,642.32 L649.28,642.18 L650.72,642.03 L652.17,641.88 L653.62,641.73 L655.06,641.58 L656.51,641.43 L657.95,641.28 L659.40,641.13 L660.84,640.99 L662.29,640.84 L663.74,640.69 L665.18,640.54 L666.63,640.39 L668.07,640.24 L669.52,640.09 L670.96,639.94 L672.41,639.79 L673.85,639.65 L675.30,639.50" stroke="#108585" stroke-width="2.1" fill="none" clip-path="url(#clipB)" stroke-linejoin="round"/>
<path d="M98.50,711.00 L99.95,710.85 L101.39,710.70 L102.84,710.55 L104.28,710.40 L105.73,710.25 L107.17,710.10 L108.62,709.95 L110.06,709.80 L111.51,709.64 L112.96,709.49 L114.40,709.34 L115.85,709.19 L117.29,709.03 L118.74,708.88 L120.18,708.72 L121.63,708.57 L123.08,708.41 L124.52,708.26 L125.97,708.10 L127.41,707.95 L128.86,707.79 L130.30,707.63 L131.75,707.48 L133.19,707.32 L134.64,707.16 L136.09,707.00 L137.53,706.84 L138.98,706.68 L140.42,706.52 L141.87,706.36 L143.31,706.20 L144.76,706.04 L146.21,705.88 L147.65,705.72 L149.10,705.55 L150.54,705.39 L151.99,705.23 L153.43,705.06 L154.88,704.90 L156.32,704.74 L157.77,704.57 L159.22,704.41 L160.66,704.24 L162.11,704.08 L163.55,703.91 L165.00,703.74 L166.44,703.57 L167.89,703.41 L169.34,703.24 L170.78,703.07 L172.23,702.90 L173.67,702.73 L175.12,702.56 L176.56,702.39 L178.01,702.22 L179.45,702.05 L180.90,701.88 L182.35,701.71 L183.79,701.54 L185.24,701.36 L186.68,701.19 L188.13,701.02 L189.57,700.84 L191.02,700.67 L192.46,700.49 L193.91,700.32 L195.36,700.14 L196.80,699.97 L198.25,699.79 L199.69,699.61 L201.14,699.43 L202.58,699.26 L204.03,699.08 L205.48,698.90 L206.92,698.72 L208.37,698.54 L209.81,698.36 L211.26,698.18 L212.70,698.00 L214.15,697.82 L215.59,697.64 L217.04,697.45 L218.49,697.27 L219.93,697.09 L221.38,696.90 L222.82,696.72 L224.27,696.54 L225.71,696.35 L227.16,696.16 L228.61,695.98 L230.05,695.79 L231.50,695.61 L232.94,695.42 L234.39,695.23 L235.83,695.04 L237.28,694.85 L238.72,694.66 L240.17,694.48 L241.62,694.29 L243.06,694.09 L244.51,693.90 L245.95,693.71 L247.40,693.52 L248.84,693.33 L250.29,693.14 L251.74,692.94 L253.18,692.75 L254.63,692.55 L256.07,692.36 L257.52,692.17 L258.96,691.97 L260.41,691.77 L261.85,691.58 L263.30,691.38 L264.75,691.18 L266.19,690.99 L267.64,690.79 L269.08,690.59 L270.53,690.39 L271.97,690.19 L273.42,689.99 L274.86,689.79 L276.31,689.59 L277.76,689.39 L279.20,689.18 L280.65,688.98 L282.09,688.78 L283.54,688.57 L284.98,688.37 L286.43,688.17 L287.88,687.96 L289.32,687.76 L290.77,687.55 L292.21,687.34 L293.66,687.14 L295.10,686.93 L296.55,686.72 L297.99,686.51 L299.44,686.30 L300.89,686.09 L302.33,685.89 L303.78,685.67 L305.22,685.46 L306.67,685.25 L308.11,685.04 L309.56,684.83 L311.01,684.62 L312.45,684.40 L313.90,684.19 L315.34,683.98 L316.79,683.76 L318.23,683.55 L319.68,683.33 L321.12,683.11 L322.57,682.90 L324.02,682.68 L325.46,682.46 L326.91,682.25 L328.35,682.03 L329.80,681.81 L331.24,681.59 L332.69,681.37 L334.14,681.15 L335.58,680.93 L337.03,680.71 L338.47,680.49 L339.92,680.26 L341.36,680.04 L342.81,679.82 L344.25,679.59 L345.70,679.37 L347.15,679.14 L348.59,678.92 L350.04,678.69 L351.48,678.47 L352.93,678.24 L354.37,678.01 L355.82,677.79 L357.26,677.56 L358.71,677.33 L360.16,677.10 L361.60,676.87 L363.05,676.64 L364.49,676.41 L365.94,676.18 L367.38,675.95 L368.83,675.72 L370.28,675.48 L371.72,675.25 L373.17,675.02 L374.61,674.78 L376.06,674.55 L377.50,674.31 L378.95,674.08 L380.39,673.84 L381.84,673.61 L383.29,673.37 L384.73,673.13 L386.18,672.90 L387.62,672.66 L389.07,672.42 L390.51,672.18 L391.96,671.94 L393.41,671.70 L394.85,671.46 L396.30,671.22 L397.74,670.98 L399.19,670.73 L400.63,670.49 L402.08,670.25 L403.52,670.01 L404.97,669.76 L406.42,669.52 L407.86,669.27 L409.31,669.03 L410.75,668.78 L412.20,668.53 L413.64,668.29 L415.09,668.04 L416.54,667.79 L417.98,667.55 L419.43,667.30 L420.87,667.05 L422.32,666.80 L423.76,666.55 L425.21,666.30 L426.65,666.05 L428.10,665.80 L429.55,665.54 L430.99,665.29 L432.44,665.04 L433.88,664.79 L435.33,664.53 L436.77,664.28 L438.22,664.02 L439.66,663.77 L441.11,663.51 L442.56,663.26 L444.00,663.00 L445.45,662.74 L446.89,662.49 L448.34,662.23 L449.78,661.97 L451.23,661.71 L452.68,661.45 L454.12,661.20 L455.57,660.94 L457.01,660.68 L458.46,660.41 L459.90,660.15 L461.35,659.89 L462.79,659.63 L464.24,659.37 L465.69,659.10 L467.13,658.84 L468.58,658.58 L470.02,658.31 L471.47,658.05 L472.91,657.78 L474.36,657.52 L475.81,657.25 L477.25,656.99 L478.70,656.72 L480.14,656.45 L481.59,656.19 L483.03,655.92 L484.48,655.65 L485.92,655.38 L487.37,655.11 L488.82,654.84 L490.26,654.57 L491.71,654.30 L493.15,654.03 L494.60,653.76 L496.04,653.49 L497.49,653.22 L498.94,652.95 L500.38,652.67 L501.83,652.40 L503.27,652.13 L504.72,651.85 L506.16,651.58 L507.61,651.31 L509.05,651.03 L510.50,650.76 L511.95,650.48 L513.39,650.21 L514.84,649.93 L516.28,649.65 L517.73,649.38 L519.17,649.10 L520.62,648.82 L522.06,648.54 L523.51,648.26 L524.96,647.99 L526.40,647.71 L527.85,647.43 L529.29,647.15 L530.74,646.87 L532.18,646.59 L533.63,646.31 L535.08,646.03 L536.52,645.74 L537.97,645.46 L539.41,645.18 L540.86,644.90 L542.30,644.62 L543.75,644.33 L545.19,644.05 L546.64,643.77 L548.09,643.48 L549.53,643.20 L550.98,642.91 L552.42,642.63 L553.87,642.35 L555.31,642.06 L556.76,641.77 L558.21,641.49 L559.65,641.20 L561.10,640.92 L562.54,640.63 L563.99,640.34 L565.43,640.06 L566.88,639.77 L568.32,639.48 L569.77,639.19 L571.22,638.90 L572.66,638.62 L574.11,638.33 L575.55,638.04 L577.00,637.75 L578.44,637.46 L579.89,637.17 L581.34,636.88 L582.78,636.59 L584.23,636.30 L585.67,636.01 L587.12,635.72 L588.56,635.43 L590.01,635.14 L591.45,634.84 L592.90,634.55 L594.35,634.26 L595.79,633.97 L597.24,633.68 L598.68,633.38 L600.13,633.09 L601.57,632.80 L603.02,632.50 L604.46,632.21 L605.91,631.92 L607.36,631.62 L608.80,631.33 L610.25,631.04 L611.69,630.74 L613.14,630.45 L614.58,630.15 L616.03,629.86 L617.48,629.56 L618.92,629.27 L620.37,628.97 L621.81,628.68 L623.26,628.38 L624.70,628.09 L626.15,627.79 L627.59,627.50 L629.04,627.20 L630.49,626.91 L631.93,626.61 L633.38,626.31 L634.82,626.02 L636.27,625.72 L637.71,625.43 L639.16,625.13 L640.61,624.83 L642.05,624.54 L643.50,624.24 L644.94,623.94 L646.39,623.64 L647.83,623.35 L649.28,623.05 L650.72,622.75 L652.17,622.46 L653.62,622.16 L655.06,621.86 L656.51,621.56 L657.95,621.27 L659.40,620.97 L660.84,620.67 L662.29,620.37 L663.74,620.08 L665.18,619.78 L666.63,619.48 L668.07,619.18 L669.52,618.89 L670.96,618.59 L672.41,618.29 L673.85,617.99 L675.30,617.69" stroke="#80FF00" stroke-width="2.1" fill="none" clip-path="url(#clipB)" stroke-linejoin="round"/>
<path d="M98.50,750.60 L99.95,750.35 L101.39,750.10 L102.84,749.85 L104.28,749.60 L105.73,749.35 L107.17,749.09 L108.62,748.84 L110.06,748.58 L111.51,748.32 L112.96,748.07 L114.40,747.81 L115.85,747.55 L117.29,747.28 L118.74,747.02 L120.18,746.76 L121.63,746.49 L123.08,746.23 L124.52,745.96 L125.97,745.69 L127.41,745.42 L128.86,745.15 L130.30,744.88 L131.75,744.61 L133.19,744.33 L134.64,744.06 L136.09,743.78 L137.53,743.50 L138.98,743.22 L140.42,742.94 L141.87,742.66 L143.31,742.38 L144.76,742.09 L146.21,741.81 L147.65,741.52 L149.10,741.23 L150.54,740.95 L151.99,740.66 L153.43,740.36 L154.88,740.07 L156.32,739.78 L157.77,739.48 L159.22,739.18 L160.66,738.89 L162.11,738.59 L163.55,738.29 L165.00,737.98 L166.44,737.68 L167.89,737.37 L169.34,737.07 L170.78,736.76 L172.23,736.45 L173.67,736.14 L175.12,735.83 L176.56,735.51 L178.01,735.20 L179.45,734.88 L180.90,734.57 L182.35,734.25 L183.79,733.93 L185.24,733.60 L186.68,733.28 L188.13,732.95 L189.57,732.63 L191.02,732.30 L192.46,731.97 L193.91,731.64 L195.36,731.31 L196.80,730.97 L198.25,730.63 L199.69,730.30 L201.14,729.96 L202.58,729.62 L204.03,729.27 L205.48,728.93 L206.92,728.59 L208.37,728.24 L209.81,727.89 L211.26,727.54 L212.70,727.19 L214.15,726.83 L215.59,726.48 L217.04,726.12 L218.49,725.76 L219.93,725.40 L221.38,725.04 L222.82,724.67 L224.27,724.31 L225.71,723.94 L227.16,723.57 L228.61,723.20 L230.05,722.82 L231.50,722.45 L232.94,722.07 L234.39,721.69 L235.83,721.31 L237.28,720.93 L238.72,720.55 L240.17,720.16 L241.62,719.77 L243.06,719.38 L244.51,718.99 L245.95,718.60 L247.40,718.20 L248.84,717.80 L250.29,717.40 L251.74,717.00 L253.18,716.60 L254.63,716.19 L256.07,715.78 L257.52,715.37 L258.96,714.96 L260.41,714.55 L261.85,714.13 L263.30,713.71 L264.75,713.29 L266.19,712.87 L267.64,712.45 L269.08,712.02 L270.53,711.59 L271.97,711.16 L273.42,710.73 L274.86,710.29 L276.31,709.85 L277.76,709.41 L279.20,708.97 L280.65,708.53 L282.09,708.08 L283.54,707.63 L284.98,707.18 L286.43,706.73 L287.88,706.27 L289.32,705.81 L290.77,705.35 L292.21,704.89 L293.66,704.42 L295.10,703.95 L296.55,703.48 L297.99,703.01 L299.44,702.53 L300.89,702.06 L302.33,701.58 L303.78,701.09 L305.22,700.61 L306.67,700.12 L308.11,699.63 L309.56,699.14 L311.01,698.64 L312.45,698.14 L313.90,697.64 L315.34,697.14 L316.79,696.63 L318.23,696.12 L319.68,695.61 L321.12,695.09 L322.57,694.58 L324.02,694.06 L325.46,693.53 L326.91,693.01 L328.35,692.48 L329.80,691.95 L331.24,691.41 L332.69,690.88 L334.14,690.34 L335.58,689.79 L337.03,689.25 L338.47,688.70 L339.92,688.15 L341.36,687.59 L342.81,687.03 L344.25,686.47 L345.70,685.91 L347.15,685.34 L348.59,684.77 L350.04,684.20 L351.48,683.62 L352.93,683.04 L354.37,682.46 L355.82,681.87 L357.26,681.29 L358.71,680.69 L360.16,680.10 L361.60,679.50 L363.05,678.90 L364.49,678.29 L365.94,677.68 L367.38,677.07 L368.83,676.45 L370.28,675.84 L371.72,675.21 L373.17,674.59 L374.61,673.96 L376.06,673.32 L377.50,672.69 L378.95,672.05 L380.39,671.40 L381.84,670.76 L383.29,670.11 L384.73,669.45 L386.18,668.79 L387.62,668.13 L389.07,667.47 L390.51,666.80 L391.96,666.13 L393.41,665.45 L394.85,664.77 L396.30,664.08 L397.74,663.40 L399.19,662.70 L400.63,662.01 L402.08,661.31 L403.52,660.61 L404.97,659.90 L406.42,659.19 L407.86,658.47 L409.31,657.75 L410.75,657.03 L412.20,656.30 L413.64,655.57 L415.09,654.83 L416.54,654.09 L417.98,653.35 L419.43,652.60 L420.87,651.85 L422.32,651.09 L423.76,650.33 L425.21,649.57 L426.65,648.80 L428.10,648.02 L429.55,647.24 L430.99,646.46 L432.44,645.67 L433.88,644.88 L435.33,644.09 L436.77,643.29 L438.22,642.48 L439.66,641.67 L441.11,640.86 L442.56,640.04 L444.00,639.22 L445.45,638.39 L446.89,637.56 L448.34,636.72 L449.78,635.88 L451.23,635.03 L452.68,634.18 L454.12,633.33 L455.57,632.47 L457.01,631.60 L458.46,630.73 L459.90,629.86 L461.35,628.98 L462.79,628.09 L464.24,627.20 L465.69,626.31 L467.13,625.41 L468.58,624.51 L470.02,623.60 L471.47,622.68 L472.91,621.76 L474.36,620.84 L475.81,619.91 L477.25,618.98 L478.70,618.04 L480.14,617.09 L481.59,616.14 L483.03,615.19 L484.48,614.23 L485.92,613.27 L487.37,612.30 L488.82,611.32 L490.26,610.34 L491.71,609.35 L493.15,608.36 L494.60,607.37 L496.04,606.37 L497.49,605.36 L498.94,604.35 L500.38,603.33 L501.83,602.31 L503.27,601.28 L504.72,600.25 L506.16,599.21 L507.61,598.17 L509.05,597.12 L510.50,596.06 L511.95,595.00 L513.39,593.94 L514.84,592.87 L516.28,591.79 L517.73,590.71 L519.17,589.62 L520.62,588.53 L522.06,587.43 L523.51,586.33 L524.96,585.22 L526.40,584.11 L527.85,582.99 L529.29,581.86 L530.74,580.73 L532.18,579.60 L533.63,578.46 L535.08,577.31 L536.52,576.16 L537.97,575.00 L539.41,573.84 L540.86,572.67 L542.30,571.50 L543.75,570.32 L545.19,569.13 L546.64,567.94 L548.09,566.75 L549.53,565.55 L550.98,564.34 L552.42,563.13 L553.87,561.92 L555.31,560.69 L556.76,559.47 L558.21,558.24 L559.65,557.00 L561.10,555.76 L562.54,554.51 L563.99,553.26 L565.43,552.00 L566.88,550.74 L568.32,549.47 L569.77,548.20 L571.22,546.92 L572.66,545.64 L574.11,544.35 L575.55,543.06 L577.00,541.76 L578.44,540.46 L579.89,539.15 L581.34,537.84 L582.78,536.52 L584.23,535.20 L585.67,533.87 L587.12,532.54 L588.56,531.21 L590.01,529.87 L591.45,528.52 L592.90,527.17 L594.35,525.82 L595.79,524.46 L597.24,523.10 L598.68,521.74 L600.13,520.37 L601.57,518.99 L603.02,517.61 L604.46,516.23 L605.91,514.84 L607.36,513.45 L608.80,512.06 L610.25,510.66 L611.69,509.26 L613.14,507.86 L614.58,506.45 L616.03,505.04 L617.48,503.62 L618.92,502.20 L620.37,500.78 L621.81,499.35 L623.26,497.92 L624.70,496.49 L626.15,495.06 L627.59,493.62 L629.04,492.18 L630.49,490.73 L631.93,489.29 L633.38,487.84 L634.82,486.39 L636.27,484.93 L637.71,483.48 L639.16,482.02 L640.61,480.55 L642.05,479.09 L643.50,477.63 L644.94,476.16 L646.39,474.69 L647.83,473.22 L649.28,471.75 L650.72,470.27 L652.17,468.79 L653.62,467.32 L655.06,465.84 L656.51,464.36 L657.95,462.88 L659.40,461.39 L660.84,459.91 L662.29,458.43 L663.74,456.94 L665.18,455.45 L666.63,453.97 L668.07,452.48 L669.52,450.99 L670.96,449.50 L672.41,448.02 L673.85,446.53 L675.30,445.04" stroke="#0000FF" stroke-width="2.1" fill="none" clip-path="url(#clipB)" stroke-linejoin="round"/>
<path d="M98.50,759.60 L99.95,759.33 L101.39,759.06 L102.84,758.78 L104.28,758.51 L105.73,758.23 L107.17,757.95 L108.62,757.67 L110.06,757.39 L111.51,757.11 L112.96,756.83 L114.40,756.55 L115.85,756.26 L117.29,755.97 L118.74,755.69 L120.18,755.40 L121.63,755.11 L123.08,754.81 L124.52,754.52 L125.97,754.22 L127.41,753.93 L128.86,753.63 L130.30,753.33 L131.75,753.03 L133.19,752.73 L134.64,752.43 L136.09,752.12 L137.53,751.81 L138.98,751.51 L140.42,751.20 L141.87,750.89 L143.31,750.57 L144.76,750.26 L146.21,749.94 L147.65,749.63 L149.10,749.31 L150.54,748.99 L151.99,748.67 L153.43,748.34 L154.88,748.02 L156.32,747.69 L157.77,747.36 L159.22,747.03 L160.66,746.70 L162.11,746.37 L163.55,746.03 L165.00,745.70 L166.44,745.36 L167.89,745.02 L169.34,744.68 L170.78,744.33 L172.23,743.99 L173.67,743.64 L175.12,743.29 L176.56,742.94 L178.01,742.59 L179.45,742.24 L180.90,741.88 L182.35,741.52 L183.79,741.16 L185.24,740.80 L186.68,740.44 L188.13,740.08 L189.57,739.71 L191.02,739.34 L192.46,738.97 L193.91,738.60 L195.36,738.22 L196.80,737.84 L198.25,737.47 L199.69,737.08 L201.14,736.70 L202.58,736.32 L204.03,735.93 L205.48,735.54 L206.92,735.15 L208.37,734.76 L209.81,734.36 L211.26,733.96 L212.70,733.56 L214.15,733.16 L215.59,732.76 L217.04,732.35 L218.49,731.94 L219.93,731.53 L221.38,731.12 L222.82,730.71 L224.27,730.29 L225.71,729.87 L227.16,729.45 L228.61,729.02 L230.05,728.60 L231.50,728.17 L232.94,727.74 L234.39,727.30 L235.83,726.87 L237.28,726.43 L238.72,725.99 L240.17,725.54 L241.62,725.10 L243.06,724.65 L244.51,724.20 L245.95,723.74 L247.40,723.28 L248.84,722.83 L250.29,722.36 L251.74,721.90 L253.18,721.43 L254.63,720.96 L256.07,720.49 L257.52,720.01 L258.96,719.54 L260.41,719.06 L261.85,718.57 L263.30,718.09 L264.75,717.60 L266.19,717.10 L267.64,716.61 L269.08,716.11 L270.53,715.61 L271.97,715.11 L273.42,714.60 L274.86,714.09 L276.31,713.58 L277.76,713.06 L279.20,712.54 L280.65,712.02 L282.09,711.49 L283.54,710.96 L284.98,710.43 L286.43,709.90 L287.88,709.36 L289.32,708.81 L290.77,708.27 L292.21,707.72 L293.66,707.17 L295.10,706.61 L296.55,706.05 L297.99,705.49 L299.44,704.93 L300.89,704.36 L302.33,703.78 L303.78,703.21 L305.22,702.63 L306.67,702.04 L308.11,701.46 L309.56,700.87 L311.01,700.27 L312.45,699.67 L313.90,699.07 L315.34,698.46 L316.79,697.85 L318.23,697.24 L319.68,696.62 L321.12,696.00 L322.57,695.37 L324.02,694.74 L325.46,694.11 L326.91,693.47 L328.35,692.83 L329.80,692.18 L331.24,691.53 L332.69,690.87 L334.14,690.21 L335.58,689.55 L337.03,688.88 L338.47,688.21 L339.92,687.53 L341.36,686.85 L342.81,686.16 L344.25,685.47 L345.70,684.78 L347.15,684.08 L348.59,683.37 L350.04,682.66 L351.48,681.95 L352.93,681.23 L354.37,680.50 L355.82,679.77 L357.26,679.04 L358.71,678.30 L360.16,677.55 L361.60,676.80 L363.05,676.05 L364.49,675.29 L365.94,674.52 L367.38,673.75 L368.83,672.98 L370.28,672.19 L371.72,671.41 L373.17,670.62 L374.61,669.82 L376.06,669.01 L377.50,668.20 L378.95,667.39 L380.39,666.57 L381.84,665.74 L383.29,664.91 L384.73,664.07 L386.18,663.23 L387.62,662.37 L389.07,661.52 L390.51,660.65 L391.96,659.79 L393.41,658.91 L394.85,658.03 L396.30,657.14 L397.74,656.25 L399.19,655.34 L400.63,654.44 L402.08,653.52 L403.52,652.60 L404.97,651.67 L406.42,650.74 L407.86,649.80 L409.31,648.85 L410.75,647.89 L412.20,646.93 L413.64,645.96 L415.09,644.98 L416.54,644.00 L417.98,643.00 L419.43,642.00 L420.87,641.00 L422.32,639.98 L423.76,638.96 L425.21,637.93 L426.65,636.89 L428.10,635.85 L429.55,634.79 L430.99,633.73 L432.44,632.66 L433.88,631.58 L435.33,630.50 L436.77,629.40 L438.22,628.30 L439.66,627.19 L441.11,626.07 L442.56,624.94 L444.00,623.80 L445.45,622.66 L446.89,621.50 L448.34,620.34 L449.78,619.17 L451.23,617.98 L452.68,616.79 L454.12,615.59 L455.57,614.38 L457.01,613.16 L458.46,611.93 L459.90,610.70 L461.35,609.45 L462.79,608.19 L464.24,606.92 L465.69,605.64 L467.13,604.35 L468.58,603.06 L470.02,601.75 L471.47,600.43 L472.91,599.10 L474.36,597.76 L475.81,596.41 L477.25,595.05 L478.70,593.68 L480.14,592.29 L481.59,590.90 L483.03,589.50 L484.48,588.08 L485.92,586.65 L487.37,585.21 L488.82,583.76 L490.26,582.30 L491.71,580.83 L493.15,579.34 L494.60,577.85 L496.04,576.34 L497.49,574.82 L498.94,573.29 L500.38,571.74 L501.83,570.18 L503.27,568.61 L504.72,567.03 L506.16,565.44 L507.61,563.83 L509.05,562.21 L510.50,560.58 L511.95,558.93 L513.39,557.27 L514.84,555.60 L516.28,553.92 L517.73,552.22 L519.17,550.51 L520.62,548.78 L522.06,547.04 L523.51,545.29 L524.96,543.52 L526.40,541.74 L527.85,539.95 L529.29,538.14 L530.74,536.32 L532.18,534.48 L533.63,532.63 L535.08,530.77 L536.52,528.89 L537.97,527.00 L539.41,525.09 L540.86,523.17 L542.30,521.23 L543.75,519.28 L545.19,517.32 L546.64,515.33 L548.09,513.34 L549.53,511.33 L550.98,509.30 L552.42,507.26 L553.87,505.21 L555.31,503.14 L556.76,501.05 L558.21,498.95 L559.65,496.83 L561.10,494.70 L562.54,492.56 L563.99,490.39 L565.43,488.22 L566.88,486.02 L568.32,483.82 L569.77,481.59 L571.22,479.36 L572.66,477.10 L574.11,474.83 L575.55,472.55 L577.00,470.25 L578.44,467.93 L579.89,465.60 L581.34,463.26 L582.78,460.90 L584.23,458.52 L585.67,456.13 L587.12,453.72 L588.56,451.30 L590.01,448.87 L591.45,446.42 L592.90,443.95 L594.35,441.47 L595.79,438.98 L597.24,436.47 L598.68,433.94 L600.13,431.41 L601.57,428.85 L603.02,426.29 L604.46,423.71 L605.91,421.11 L607.36,418.51 L608.80,415.88 L610.25,413.25 L611.69,410.60 L613.14,407.94 L614.58,405.27 L616.03,402.58 L617.48,399.88 L618.92,397.17 L620.37,394.44 L621.81,391.71 L623.26,388.96 L624.70,386.20 L626.15,383.43 L627.59,380.65 L629.04,377.86 L630.49,375.06 L631.93,372.24 L633.38,369.42 L634.82,366.59 L636.27,363.74 L637.71,360.89 L639.16,358.03 L640.61,355.16 L642.05,352.28 L643.50,349.40 L644.94,346.51 L646.39,343.60 L647.83,340.70 L649.28,337.78 L650.72,334.86 L652.17,331.93 L653.62,329.00 L655.06,326.06 L656.51,323.12 L657.95,320.17 L659.40,317.22 L660.84,314.26 L662.29,311.30 L663.74,308.34 L665.18,305.37 L666.63,302.40 L668.07,299.43 L669.52,296.45 L670.96,293.48 L672.41,290.50 L673.85,287.52 L675.30,284.55" stroke="#FF0000" stroke-width="2.1" fill="none" clip-path="url(#clipB)" stroke-linejoin="round"/>
<path d="M98.50,768.07 L99.95,767.78 L101.39,767.48 L102.84,767.19 L104.28,766.89 L105.73,766.59 L107.17,766.29 L108.62,765.99 L110.06,765.69 L111.51,765.38 L112.96,765.08 L114.40,764.77 L115.85,764.46 L117.29,764.15 L118.74,763.84 L120.18,763.52 L121.63,763.21 L123.08,762.89 L124.52,762.57 L125.97,762.25 L127.41,761.93 L128.86,761.61 L130.30,761.28 L131.75,760.95 L133.19,760.63 L134.64,760.30 L136.09,759.96 L137.53,759.63 L138.98,759.29 L140.42,758.96 L141.87,758.62 L143.31,758.28 L144.76,757.93 L146.21,757.59 L147.65,757.24 L149.10,756.89 L150.54,756.54 L151.99,756.19 L153.43,755.84 L154.88,755.48 L156.32,755.12 L157.77,754.76 L159.22,754.40 L160.66,754.04 L162.11,753.67 L163.55,753.30 L165.00,752.93 L166.44,752.56 L167.89,752.19 L169.34,751.81 L170.78,751.43 L172.23,751.05 L173.67,750.67 L175.12,750.29 L176.56,749.90 L178.01,749.51 L179.45,749.12 L180.90,748.73 L182.35,748.33 L183.79,747.93 L185.24,747.53 L186.68,747.13 L188.13,746.72 L189.57,746.32 L191.02,745.91 L192.46,745.50 L193.91,745.08 L195.36,744.66 L196.80,744.25 L198.25,743.82 L199.69,743.40 L201.14,742.97 L202.58,742.54 L204.03,742.11 L205.48,741.68 L206.92,741.24 L208.37,740.80 L209.81,740.36 L211.26,739.91 L212.70,739.47 L214.15,739.02 L215.59,738.56 L217.04,738.11 L218.49,737.65 L219.93,737.19 L221.38,736.72 L222.82,736.26 L224.27,735.79 L225.71,735.31 L227.16,734.84 L228.61,734.36 L230.05,733.88 L231.50,733.39 L232.94,732.90 L234.39,732.41 L235.83,731.92 L237.28,731.42 L238.72,730.92 L240.17,730.42 L241.62,729.91 L243.06,729.40 L244.51,728.88 L245.95,728.37 L247.40,727.85 L248.84,727.32 L250.29,726.80 L251.74,726.27 L253.18,725.73 L254.63,725.19 L256.07,724.65 L257.52,724.11 L258.96,723.56 L260.41,723.01 L261.85,722.45 L263.30,721.89 L264.75,721.33 L266.19,720.76 L267.64,720.19 L269.08,719.61 L270.53,719.04 L271.97,718.45 L273.42,717.87 L274.86,717.27 L276.31,716.68 L277.76,716.08 L279.20,715.48 L280.65,714.87 L282.09,714.26 L283.54,713.64 L284.98,713.02 L286.43,712.39 L287.88,711.76 L289.32,711.13 L290.77,710.49 L292.21,709.85 L293.66,709.20 L295.10,708.55 L296.55,707.89 L297.99,707.23 L299.44,706.56 L300.89,705.89 L302.33,705.21 L303.78,704.53 L305.22,703.84 L306.67,703.15 L308.11,702.45 L309.56,701.75 L311.01,701.04 L312.45,700.33 L313.90,699.61 L315.34,698.88 L316.79,698.15 L318.23,697.42 L319.68,696.68 L321.12,695.93 L322.57,695.18 L324.02,694.42 L325.46,693.65 L326.91,692.88 L328.35,692.11 L329.80,691.32 L331.24,690.53 L332.69,689.74 L334.14,688.94 L335.58,688.13 L337.03,687.31 L338.47,686.49 L339.92,685.66 L341.36,684.83 L342.81,683.99 L344.25,683.14 L345.70,682.28 L347.15,681.42 L348.59,680.55 L350.04,679.67 L351.48,678.79 L352.93,677.90 L354.37,677.00 L355.82,676.09 L357.26,675.17 L358.71,674.25 L360.16,673.32 L361.60,672.38 L363.05,671.44 L364.49,670.48 L365.94,669.52 L367.38,668.54 L368.83,667.56 L370.28,666.57 L371.72,665.58 L373.17,664.57 L374.61,663.55 L376.06,662.53 L377.50,661.49 L378.95,660.45 L380.39,659.40 L381.84,658.33 L383.29,657.26 L384.73,656.18 L386.18,655.09 L387.62,653.98 L389.07,652.87 L390.51,651.75 L391.96,650.61 L393.41,649.47 L394.85,648.31 L396.30,647.15 L397.74,645.97 L399.19,644.78 L400.63,643.58 L402.08,642.36 L403.52,641.14 L404.97,639.90 L406.42,638.66 L407.86,637.39 L409.31,636.12 L410.75,634.84 L412.20,633.54 L413.64,632.22 L415.09,630.90 L416.54,629.56 L417.98,628.21 L419.43,626.84 L420.87,625.46 L422.32,624.07 L423.76,622.66 L425.21,621.23 L426.65,619.79 L428.10,618.34 L429.55,616.87 L430.99,615.38 L432.44,613.88 L433.88,612.37 L435.33,610.83 L436.77,609.28 L438.22,607.71 L439.66,606.13 L441.11,604.53 L442.56,602.91 L444.00,601.27 L445.45,599.61 L446.89,597.94 L448.34,596.25 L449.78,594.53 L451.23,592.80 L452.68,591.05 L454.12,589.28 L455.57,587.48 L457.01,585.67 L458.46,583.84 L459.90,581.98 L461.35,580.10 L462.79,578.20 L464.24,576.28 L465.69,574.33 L467.13,572.36 L468.58,570.37 L470.02,568.35 L471.47,566.31 L472.91,564.24 L474.36,562.15 L475.81,560.03 L477.25,557.88 L478.70,555.71 L480.14,553.51 L481.59,551.28 L483.03,549.02 L484.48,546.74 L485.92,544.42 L487.37,542.08 L488.82,539.70 L490.26,537.30 L491.71,534.86 L493.15,532.39 L494.60,529.88 L496.04,527.35 L497.49,524.78 L498.94,522.17 L500.38,519.53 L501.83,516.85 L503.27,514.14 L504.72,511.38 L506.16,508.59 L507.61,505.77 L509.05,502.90 L510.50,499.99 L511.95,497.04 L513.39,494.05 L514.84,491.01 L516.28,487.93 L517.73,484.81 L519.17,481.64 L520.62,478.42 L522.06,475.16 L523.51,471.85 L524.96,468.49 L526.40,465.07 L527.85,461.61 L529.29,458.10 L530.74,454.53 L532.18,450.91 L533.63,447.23 L535.08,443.49 L536.52,439.70 L537.97,435.85 L539.41,431.93 L540.86,427.96 L542.30,423.92 L543.75,419.82 L545.19,415.65 L546.64,411.42 L548.09,407.12 L549.53,402.74 L550.98,398.30 L552.42,393.78 L553.87,389.19 L555.31,384.52 L556.76,379.78 L558.21,374.95 L559.65,370.05 L561.10,365.06 L562.54,359.99 L563.99,354.83 L565.43,349.59 L566.88,344.25 L568.32,338.82 L569.77,333.30 L571.22,327.69 L572.66,321.97 L574.11,316.16 L575.55,310.25 L577.00,304.23 L578.44,298.10 L579.89,291.87 L581.34,285.53 L582.78,279.08 L584.23,272.51 L585.67,265.82 L587.12,259.02 L588.56,252.09 L590.01,245.04 L591.45,237.87 L592.90,230.56 L594.35,223.13 L595.79,215.56 L597.24,207.86 L598.68,200.02 L600.13,192.04 L601.57,183.92 L603.02,175.65 L604.46,167.24 L605.91,158.68 L607.36,149.96 L608.80,141.10 L610.25,132.08 L611.69,122.90 L613.14,113.56 L614.58,104.06 L616.03,94.40 L617.48,84.57 L618.92,74.58 L620.37,64.42 L621.81,54.10 L623.26,43.60 L624.70,32.94 L626.15,22.10 L627.59,11.09 L629.04,-0.09 L630.49,-11.44 L631.93,-22.96 L633.38,-34.65 L634.82,-46.51 L636.27,-58.54 L637.71,-70.74 L639.16,-83.10 L640.61,-95.63 L642.05,-108.31 L643.50,-121.16 L644.94,-134.16 L646.39,-147.31 L647.83,-160.61 L649.28,-174.05 L650.72,-187.63 L652.17,-201.35 L653.62,-215.19 L655.06,-229.15 L656.51,-243.23 L657.95,-257.42 L659.40,-271.72 L660.84,-286.11 L662.29,-300.58 L663.74,-315.14 L665.18,-329.77 L666.63,-344.46 L668.07,-359.21 L669.52,-374.00 L670.96,-388.83 L672.41,-403.69 L673.85,-418.56 L675.30,-433.45" stroke="#FFAD33" stroke-width="2.1" fill="none" clip-path="url(#clipB)" stroke-linejoin="round"/>
<path d="M674.54,486.12 L673.78,485.51 L673.03,484.90 L672.28,484.29 L671.53,483.68 L670.79,483.07 L670.05,482.46 L669.32,481.85 L668.59,481.23 L667.87,480.62 L667.15,480.01 L666.43,479.40 L665.71,478.79 L665.00,478.17 L664.30,477.56 L663.60,476.95 L662.90,476.34 L662.21,475.72 L661.52,475.11 L660.83,474.50 L660.15,473.88 L659.47,473.27 L658.79,472.66 L658.12,472.05 L657.45,471.43 L656.79,470.82 L656.13,470.21 L655.48,469.60 L654.82,468.98 L654.18,468.37 L653.53,467.76 L652.89,467.15 L652.25,466.53 L651.62,465.92 L650.99,465.31 L650.36,464.70 L649.74,464.09 L649.12,463.48 L648.51,462.87 L647.89,462.26 L647.29,461.65 L646.68,461.04 L646.08,460.43 L645.48,459.82 L644.89,459.21 L644.30,458.60 L643.71,457.99 L643.13,457.38 L642.55,456.78 L641.97,456.17 L641.40,455.56 L640.83,454.96 L640.26,454.35 L639.70,453.75 L639.14,453.14 L638.58,452.54 L638.03,451.93 L637.48,451.33 L636.94,450.73 L636.39,450.12 L635.85,449.52 L635.32,448.92 L634.79,448.32 L634.26,447.72 L633.73,447.12 L633.21,446.52 L632.69,445.93 L632.17,445.33 L631.66,444.73 L631.15,444.14 L630.64,443.54 L630.14,442.95 L629.63,442.35 L629.14,441.76 L628.64,441.17 L628.15,440.57 L627.66,439.98 L627.18,439.39 L626.69,438.80 L626.22,438.22 L625.74,437.63 L625.27,437.04 L624.80,436.46 L624.33,435.87 L623.86,435.29 L623.40,434.70 L622.94,434.12 L622.49,433.54 L622.04,432.96 L621.59,432.38 L621.14,431.80 L620.70,431.22 L620.25,430.65 L619.82,430.07 L619.38,429.50 L618.95,428.92 L618.52,428.35 L618.09,427.78 L617.67,427.21 L617.24,426.64 L616.83,426.07 L616.41,425.50 L616.00,424.94 L615.59,424.37 L615.18,423.81 L614.77,423.24 L614.37,422.68 L613.97,422.12 L613.57,421.56 L613.18,421.00 L612.78,420.45 L612.39,419.89 L612.01,419.34 L611.62,418.78 L611.24,418.23 L610.86,417.68 L610.48,417.13 L610.11,416.58 L609.74,416.03 L609.37,415.49 L609.00,414.94 L608.63,414.40 L608.27,413.86 L607.91,413.32 L607.55,412.78 L607.20,412.24 L606.85,411.70 L606.50,411.17 L606.15,410.63 L605.80,410.10 L605.46,409.57 L605.12,409.04 L604.78,408.51 L604.44,407.98 L604.11,407.46 L603.78,406.93 L603.45,406.41 L603.12,405.89 L602.79,405.37 L602.47,404.85 L602.15,404.33 L601.83,403.81 L601.51,403.30 L601.20,402.79 L600.89,402.28 L600.58,401.77 L600.27,401.26 L599.96,400.75 L599.66,400.25 L599.36,399.74 L599.06,399.24 L598.76,398.74 L598.46,398.24 L598.17,397.74 L597.88,397.24 L597.59,396.75 L597.30,396.26 L597.01,395.77 L596.73,395.28 L596.45,394.79 L596.17,394.30 L595.89,393.82 L595.61,393.33 L595.34,392.85 L595.07,392.37 L594.80,391.89 L594.53,391.41 L594.26,390.94 L594.00,390.46 L593.73,389.99 L593.47,389.52 L593.21,389.05 L592.96,388.58 L592.70,388.12 L592.45,387.65 L592.20,387.19 L591.94,386.73 L591.70,386.27 L591.45,385.81 L591.20,385.36 L590.96,384.90 L590.72,384.45 L590.48,384.00 L590.24,383.55 L590.00,383.10 L589.77,382.66 L589.54,382.21 L589.30,381.77 L589.07,381.33 L588.85,380.89 L588.62,380.45 L588.39,380.02 L588.17,379.58 L587.95,379.15 L587.73,378.72 L587.51,378.29 L587.29,377.86 L587.07,377.44 L586.86,377.02 L586.65,376.59 L586.44,376.17 L586.23,375.75 L586.02,375.34 L585.81,374.92 L585.61,374.51 L585.40,374.10 L585.20,373.69 L585.00,373.28 L584.80,372.87 L584.60,372.47 L584.40,372.06 L584.21,371.66 L584.01,371.26 L583.82,370.86 L583.63,370.47 L583.44,370.07 L583.25,369.68 L583.06,369.29 L582.88,368.90 L582.69,368.51 L582.51,368.13 L582.33,367.74 L582.15,367.36 L581.97,366.98 L581.79,366.60 L581.61,366.22 L581.44,365.85 L581.27,365.47 L581.09,365.10 L580.92,364.73 L580.75,364.36 L580.58,363.99 L580.41,363.63 L580.25,363.26 L580.08,362.90 L579.92,362.54 L579.75,362.18 L579.59,361.82 L579.43,361.47 L579.27,361.12 L579.11,360.76 L578.96,360.41 L578.80,360.07 L578.64,359.72 L578.49,359.37 L578.34,359.03 L578.19,358.69 L578.04,358.35 L577.89,358.01 L577.74,357.67 L577.59,357.34 L577.44,357.00 L577.30,356.67 L577.15,356.34 L577.01,356.01 L576.87,355.69 L576.73,355.36 L576.59,355.04 L576.45,354.72 L576.31,354.39 L576.17,354.08 L576.04,353.76 L575.90,353.44 L575.77,353.13 L575.64,352.82 L575.51,352.51 L575.37,352.20 L575.24,351.89 L575.12,351.59 L574.99,351.28 L574.86,350.98 L574.73,350.68 L574.61,350.38 L574.48,350.08 L574.36,349.78 L574.24,349.49 L574.12,349.20 L574.00,348.91 L573.88,348.62 L573.76,348.33 L573.64,348.04 L573.52,347.76 L573.40,347.47 L573.29,347.19 L573.17,346.91 L573.06,346.63 L572.95,346.35 L572.83,346.08 L572.72,345.80 L572.61,345.53 L572.50,345.26 L572.39,344.99 L572.29,344.72 L572.18,344.45 L572.07,344.19 L571.97,343.92 L571.86,343.66 L571.76,343.40 L571.65,343.14" stroke="#6a6a6a" stroke-width="1.7" stroke-dasharray="3 2.3" fill="none" clip-path="url(#clipB)"/>
<circle cx="609.18" cy="415.20" r="2.8" fill="#000"/>
<circle cx="653.35" cy="467.59" r="2.8" fill="#000"/>
<path d="M98.50,770.4 v-2.6 M98.50,414.0 v2.6 M213.86,770.4 v-2.6 M213.86,414.0 v2.6 M329.22,770.4 v-2.6 M329.22,414.0 v2.6 M444.58,770.4 v-2.6 M444.58,414.0 v2.6 M559.94,770.4 v-2.6 M559.94,414.0 v2.6 M675.30,770.4 v-2.6 M675.30,414.0 v2.6 M127.34,770.4 v-1.8 M127.34,414.0 v1.8 M156.18,770.4 v-1.8 M156.18,414.0 v1.8 M185.02,770.4 v-1.8 M185.02,414.0 v1.8 M242.70,770.4 v-1.8 M242.70,414.0 v1.8 M271.54,770.4 v-1.8 M271.54,414.0 v1.8 M300.38,770.4 v-1.8 M300.38,414.0 v1.8 M358.06,770.4 v-1.8 M358.06,414.0 v1.8 M386.90,770.4 v-1.8 M386.90,414.0 v1.8 M415.74,770.4 v-1.8 M415.74,414.0 v1.8 M473.42,770.4 v-1.8 M473.42,414.0 v1.8 M502.26,770.4 v-1.8 M502.26,414.0 v1.8 M531.10,770.4 v-1.8 M531.10,414.0 v1.8 M588.78,770.4 v-1.8 M588.78,414.0 v1.8 M617.62,770.4 v-1.8 M617.62,414.0 v1.8 M646.46,770.4 v-1.8 M646.46,414.0 v1.8 M98.5,770.40 h2.6 M675.3,770.40 h-2.6 M98.5,711.00 h2.6 M675.3,711.00 h-2.6 M98.5,651.60 h2.6 M675.3,651.60 h-2.6 M98.5,592.20 h2.6 M675.3,592.20 h-2.6 M98.5,532.80 h2.6 M675.3,532.80 h-2.6 M98.5,473.40 h2.6 M675.3,473.40 h-2.6 M98.5,414.00 h2.6 M675.3,414.00 h-2.6 M98.5,758.52 h1.8 M675.3,758.52 h-1.8 M98.5,746.64 h1.8 M675.3,746.64 h-1.8 M98.5,734.76 h1.8 M675.3,734.76 h-1.8 M98.5,722.88 h1.8 M675.3,722.88 h-1.8 M98.5,699.12 h1.8 M675.3,699.12 h-1.8 M98.5,687.24 h1.8 M675.3,687.24 h-1.8 M98.5,675.36 h1.8 M675.3,675.36 h-1.8 M98.5,663.48 h1.8 M675.3,663.48 h-1.8 M98.5,639.72 h1.8 M675.3,639.72 h-1.8 M98.5,627.84 h1.8 M675.3,627.84 h-1.8 M98.5,615.96 h1.8 M675.3,615.96 h-1.8 M98.5,604.08 h1.8 M675.3,604.08 h-1.8 M98.5,580.32 h1.8 M675.3,580.32 h-1.8 M98.5,568.44 h1.8 M675.3,568.44 h-1.8 M98.5,556.56 h1.8 M675.3,556.56 h-1.8 M98.5,544.68 h1.8 M675.3,544.68 h-1.8 M98.5,520.92 h1.8 M675.3,520.92 h-1.8 M98.5,509.04 h1.8 M675.3,509.04 h-1.8 M98.5,497.16 h1.8 M675.3,497.16 h-1.8 M98.5,485.28 h1.8 M675.3,485.28 h-1.8 M98.5,461.52 h1.8 M675.3,461.52 h-1.8 M98.5,449.64 h1.8 M675.3,449.64 h-1.8 M98.5,437.76 h1.8 M675.3,437.76 h-1.8 M98.5,425.88 h1.8 M675.3,425.88 h-1.8" stroke="#111" stroke-width="1" fill="none"/>
<rect x="98.5" y="414.0" width="576.80" height="356.40" fill="none" stroke="#111" stroke-width="1.1"/>
<text x="94.80" y="774.90" font-size="12.6" text-anchor="end" font-family="Liberation Sans, sans-serif" >−1.0</text>
<text x="94.80" y="715.50" font-size="12.6" text-anchor="end" font-family="Liberation Sans, sans-serif" >−0.5</text>
<text x="94.80" y="656.10" font-size="12.6" text-anchor="end" font-family="Liberation Sans, sans-serif" >0.0</text>
<text x="94.80" y="596.70" font-size="12.6" text-anchor="end" font-family="Liberation Sans, sans-serif" >0.5</text>
<text x="94.80" y="537.30" font-size="12.6" text-anchor="end" font-family="Liberation Sans, sans-serif" >1.0</text>
<text x="94.80" y="477.90" font-size="12.6" text-anchor="end" font-family="Liberation Sans, sans-serif" >1.5</text>
<text x="94.80" y="418.50" font-size="12.6" text-anchor="end" font-family="Liberation Sans, sans-serif" >2.0</text>
<text x="98.50" y="785.50" font-size="12.6" text-anchor="middle" font-family="Liberation Sans, sans-serif" >0.0</text>
<text x="213.86" y="785.50" font-size="12.6" text-anchor="middle" font-family="Liberation Sans, sans-serif" >0.2</text>
<text x="329.22" y="785.50" font-size="12.6" text-anchor="middle" font-family="Liberation Sans, sans-serif" >0.4</text>
<text x="444.58" y="785.50" font-size="12.6" text-anchor="middle" font-family="Liberation Sans, sans-serif" >0.6</text>
<text x="559.94" y="785.50" font-size="12.6" text-anchor="middle" font-family="Liberation Sans, sans-serif" >0.8</text>
<text x="675.30" y="785.50" font-size="12.6" text-anchor="middle" font-family="Liberation Sans, sans-serif" >1.0</text>
<line x1="108.9" y1="425.8" x2="139.5" y2="425.8" stroke="#FFAD33" stroke-width="2.1"/>
<text x="145.2" y="430.08" font-size="11.9" font-family="Liberation Sans, sans-serif"><tspan font-style="italic">μ</tspan> = 50</text>
<line x1="108.9" y1="443.9" x2="139.5" y2="443.9" stroke="#FF0000" stroke-width="2.1"/>
<text x="145.2" y="448.18" font-size="11.9" font-family="Liberation Sans, sans-serif"><tspan font-style="italic">μ</tspan> = 10</text>
<line x1="108.9" y1="461.4" x2="139.5" y2="461.4" stroke="#0000FF" stroke-width="2.1"/>
<text x="145.2" y="465.68" font-size="11.9" font-family="Liberation Sans, sans-serif"><tspan font-style="italic">μ</tspan> = 5</text>
<line x1="108.9" y1="485.2" x2="139.5" y2="485.2" stroke="#80FF00" stroke-width="2.1"/>
<text x="145.2" y="489.48" font-size="11.9" font-family="Liberation Sans, sans-serif"><tspan font-style="italic">μ</tspan> = 1</text>
<line x1="108.9" y1="503" x2="139.5" y2="503" stroke="#108585" stroke-width="2.1"/>
<text x="145.2" y="507.28" font-size="11.9" font-family="Liberation Sans, sans-serif"><tspan font-style="italic">μ</tspan> = 0.5</text>
<line x1="108.9" y1="521" x2="139.5" y2="521" stroke="#808000" stroke-width="2.1"/>
<text x="145.2" y="525.28" font-size="11.9" font-family="Liberation Sans, sans-serif"><tspan font-style="italic">μ</tspan> = 0.1</text>
<text x="110.20" y="646.90" font-size="13.9" text-anchor="start" font-family="Liberation Sans, sans-serif" >inversion</text>
<text x="479.50" y="466.80" font-size="14.05" text-anchor="start" font-family="Liberation Sans, sans-serif" >transit for the origin</text>
<line x1="601.6" y1="461.6" x2="628" y2="461.6" stroke="#888" stroke-width="1.7"/>
<path d="M646.9,461.6 L622.8,467.7 L626.6,461.6 L622.8,455.5 Z" fill="#000"/>
<text x="379.1" y="805.3" font-size="13.5" font-family="Liberation Sans, sans-serif">t/<tspan font-style="italic">t</tspan><tspan font-style="italic" font-size="9.8" dy="2.5">s</tspan></text>
<g transform="translate(45.2,592.25) rotate(-90)"><line x1="-13.15" y1="0" x2="13.15" y2="0" stroke="#000" stroke-width="1.2"/><text x="-0.15" y="-5.1" font-size="13.5" text-anchor="middle" font-family="Liberation Sans, sans-serif" font-style="italic">v</text><text x="-12.8" y="15.7" font-size="13.8" text-anchor="start" font-family="Liberation Sans, sans-serif" font-style="italic">D</text><text x="-1.9" y="15.7" font-size="13.8" text-anchor="start" font-family="Liberation Sans, sans-serif" font-style="italic">/</text><text x="3.7" y="15.3" font-size="13.8" text-anchor="start" font-family="Liberation Sans, sans-serif" font-style="italic">t</text><text x="7.8" y="18.2" font-size="9.8" text-anchor="start" font-family="Liberation Sans, sans-serif" font-style="italic">s</text></g>
<text x="1.2" y="779.4" font-size="22.5" font-family="Liberation Serif, serif" font-weight="bold">(b)</text>
<clipPath id="clipC"><rect x="97.5" y="830.4" width="575.8" height="355.9"/></clipPath>
<line x1="212.66" y1="830.4" x2="212.66" y2="1186.3" stroke="#cacaca" stroke-width="1"/>
<line x1="327.82" y1="830.4" x2="327.82" y2="1186.3" stroke="#cacaca" stroke-width="1"/>
<line x1="442.98" y1="830.4" x2="442.98" y2="1186.3" stroke="#cacaca" stroke-width="1"/>
<line x1="558.14" y1="830.4" x2="558.14" y2="1186.3" stroke="#cacaca" stroke-width="1"/>
<line x1="97.5" y1="1186.30" x2="673.3" y2="1186.30" stroke="#cacaca" stroke-width="1"/>
<line x1="97.5" y1="1097.33" x2="673.3" y2="1097.33" stroke="#cacaca" stroke-width="1"/>
<line x1="97.5" y1="919.38" x2="673.3" y2="919.38" stroke="#cacaca" stroke-width="1"/>
<line x1="97.5" y1="830.40" x2="673.3" y2="830.40" stroke="#cacaca" stroke-width="1"/>
<line x1="97.5" y1="1008.35" x2="673.3" y2="1008.35" stroke="#666" stroke-width="1"/>
<path d="M97.50,1008.35 L98.94,1008.45 L100.39,1008.55 L101.83,1008.65 L103.27,1008.75 L104.72,1008.85 L106.16,1008.95 L107.60,1009.05 L109.04,1009.15 L110.49,1009.25 L111.93,1009.35 L113.37,1009.45 L114.82,1009.55 L116.26,1009.65 L117.70,1009.74 L119.15,1009.84 L120.59,1009.94 L122.03,1010.04 L123.48,1010.13 L124.92,1010.23 L126.36,1010.33 L127.81,1010.42 L129.25,1010.52 L130.69,1010.61 L132.13,1010.71 L133.58,1010.80 L135.02,1010.90 L136.46,1010.99 L137.91,1011.09 L139.35,1011.18 L140.79,1011.28 L142.24,1011.37 L143.68,1011.46 L145.12,1011.56 L146.57,1011.65 L148.01,1011.74 L149.45,1011.83 L150.89,1011.93 L152.34,1012.02 L153.78,1012.11 L155.22,1012.20 L156.67,1012.29 L158.11,1012.38 L159.55,1012.47 L161.00,1012.56 L162.44,1012.65 L163.88,1012.74 L165.33,1012.83 L166.77,1012.92 L168.21,1013.01 L169.66,1013.10 L171.10,1013.19 L172.54,1013.27 L173.98,1013.36 L175.43,1013.45 L176.87,1013.54 L178.31,1013.62 L179.76,1013.71 L181.20,1013.80 L182.64,1013.88 L184.09,1013.97 L185.53,1014.06 L186.97,1014.14 L188.42,1014.23 L189.86,1014.31 L191.30,1014.40 L192.75,1014.48 L194.19,1014.57 L195.63,1014.65 L197.07,1014.73 L198.52,1014.82 L199.96,1014.90 L201.40,1014.98 L202.85,1015.07 L204.29,1015.15 L205.73,1015.23 L207.18,1015.31 L208.62,1015.39 L210.06,1015.47 L211.51,1015.56 L212.95,1015.64 L214.39,1015.72 L215.83,1015.80 L217.28,1015.88 L218.72,1015.96 L220.16,1016.04 L221.61,1016.12 L223.05,1016.19 L224.49,1016.27 L225.94,1016.35 L227.38,1016.43 L228.82,1016.51 L230.27,1016.59 L231.71,1016.66 L233.15,1016.74 L234.60,1016.82 L236.04,1016.89 L237.48,1016.97 L238.92,1017.05 L240.37,1017.12 L241.81,1017.20 L243.25,1017.27 L244.70,1017.35 L246.14,1017.42 L247.58,1017.50 L249.03,1017.57 L250.47,1017.65 L251.91,1017.72 L253.36,1017.79 L254.80,1017.87 L256.24,1017.94 L257.68,1018.01 L259.13,1018.08 L260.57,1018.16 L262.01,1018.23 L263.46,1018.30 L264.90,1018.37 L266.34,1018.44 L267.79,1018.51 L269.23,1018.58 L270.67,1018.65 L272.12,1018.72 L273.56,1018.79 L275.00,1018.86 L276.45,1018.93 L277.89,1019.00 L279.33,1019.07 L280.77,1019.14 L282.22,1019.20 L283.66,1019.27 L285.10,1019.34 L286.55,1019.41 L287.99,1019.47 L289.43,1019.54 L290.88,1019.61 L292.32,1019.67 L293.76,1019.74 L295.21,1019.81 L296.65,1019.87 L298.09,1019.94 L299.54,1020.00 L300.98,1020.07 L302.42,1020.13 L303.86,1020.19 L305.31,1020.26 L306.75,1020.32 L308.19,1020.39 L309.64,1020.45 L311.08,1020.51 L312.52,1020.57 L313.97,1020.64 L315.41,1020.70 L316.85,1020.76 L318.30,1020.82 L319.74,1020.88 L321.18,1020.94 L322.62,1021.00 L324.07,1021.06 L325.51,1021.12 L326.95,1021.18 L328.40,1021.24 L329.84,1021.30 L331.28,1021.36 L332.73,1021.42 L334.17,1021.48 L335.61,1021.54 L337.06,1021.59 L338.50,1021.65 L339.94,1021.71 L341.39,1021.77 L342.83,1021.82 L344.27,1021.88 L345.71,1021.94 L347.16,1021.99 L348.60,1022.05 L350.04,1022.10 L351.49,1022.16 L352.93,1022.21 L354.37,1022.27 L355.82,1022.32 L357.26,1022.38 L358.70,1022.43 L360.15,1022.48 L361.59,1022.54 L363.03,1022.59 L364.47,1022.64 L365.92,1022.70 L367.36,1022.75 L368.80,1022.80 L370.25,1022.85 L371.69,1022.90 L373.13,1022.95 L374.58,1023.00 L376.02,1023.05 L377.46,1023.11 L378.91,1023.16 L380.35,1023.20 L381.79,1023.25 L383.24,1023.30 L384.68,1023.35 L386.12,1023.40 L387.56,1023.45 L389.01,1023.50 L390.45,1023.55 L391.89,1023.59 L393.34,1023.64 L394.78,1023.69 L396.22,1023.73 L397.67,1023.78 L399.11,1023.83 L400.55,1023.87 L402.00,1023.92 L403.44,1023.96 L404.88,1024.01 L406.33,1024.05 L407.77,1024.10 L409.21,1024.14 L410.65,1024.19 L412.10,1024.23 L413.54,1024.27 L414.98,1024.32 L416.43,1024.36 L417.87,1024.40 L419.31,1024.45 L420.76,1024.49 L422.20,1024.53 L423.64,1024.57 L425.09,1024.61 L426.53,1024.65 L427.97,1024.69 L429.41,1024.73 L430.86,1024.77 L432.30,1024.81 L433.74,1024.85 L435.19,1024.89 L436.63,1024.93 L438.07,1024.97 L439.52,1025.01 L440.96,1025.05 L442.40,1025.09 L443.85,1025.12 L445.29,1025.16 L446.73,1025.20 L448.18,1025.23 L449.62,1025.27 L451.06,1025.31 L452.50,1025.34 L453.95,1025.38 L455.39,1025.42 L456.83,1025.45 L458.28,1025.49 L459.72,1025.52 L461.16,1025.55 L462.61,1025.59 L464.05,1025.62 L465.49,1025.66 L466.94,1025.69 L468.38,1025.72 L469.82,1025.76 L471.26,1025.79 L472.71,1025.82 L474.15,1025.85 L475.59,1025.88 L477.04,1025.91 L478.48,1025.95 L479.92,1025.98 L481.37,1026.01 L482.81,1026.04 L484.25,1026.07 L485.70,1026.10 L487.14,1026.13 L488.58,1026.16 L490.03,1026.18 L491.47,1026.21 L492.91,1026.24 L494.35,1026.27 L495.80,1026.30 L497.24,1026.32 L498.68,1026.35 L500.13,1026.38 L501.57,1026.41 L503.01,1026.43 L504.46,1026.46 L505.90,1026.48 L507.34,1026.51 L508.79,1026.53 L510.23,1026.56 L511.67,1026.58 L513.12,1026.61 L514.56,1026.63 L516.00,1026.66 L517.44,1026.68 L518.89,1026.70 L520.33,1026.73 L521.77,1026.75 L523.22,1026.77 L524.66,1026.79 L526.10,1026.82 L527.55,1026.84 L528.99,1026.86 L530.43,1026.88 L531.88,1026.90 L533.32,1026.92 L534.76,1026.94 L536.20,1026.96 L537.65,1026.98 L539.09,1027.00 L540.53,1027.02 L541.98,1027.04 L543.42,1027.06 L544.86,1027.08 L546.31,1027.09 L547.75,1027.11 L549.19,1027.13 L550.64,1027.15 L552.08,1027.16 L553.52,1027.18 L554.97,1027.20 L556.41,1027.21 L557.85,1027.23 L559.29,1027.24 L560.74,1027.26 L562.18,1027.28 L563.62,1027.29 L565.07,1027.30 L566.51,1027.32 L567.95,1027.33 L569.40,1027.35 L570.84,1027.36 L572.28,1027.37 L573.73,1027.39 L575.17,1027.40 L576.61,1027.41 L578.05,1027.42 L579.50,1027.43 L580.94,1027.44 L582.38,1027.46 L583.83,1027.47 L585.27,1027.48 L586.71,1027.49 L588.16,1027.50 L589.60,1027.51 L591.04,1027.52 L592.49,1027.53 L593.93,1027.53 L595.37,1027.54 L596.82,1027.55 L598.26,1027.56 L599.70,1027.57 L601.14,1027.57 L602.59,1027.58 L604.03,1027.59 L605.47,1027.60 L606.92,1027.60 L608.36,1027.61 L609.80,1027.61 L611.25,1027.62 L612.69,1027.62 L614.13,1027.63 L615.58,1027.63 L617.02,1027.64 L618.46,1027.64 L619.91,1027.65 L621.35,1027.65 L622.79,1027.65 L624.23,1027.66 L625.68,1027.66 L627.12,1027.66 L628.56,1027.66 L630.01,1027.67 L631.45,1027.67 L632.89,1027.67 L634.34,1027.67 L635.78,1027.67 L637.22,1027.67 L638.67,1027.67 L640.11,1027.67 L641.55,1027.67 L642.99,1027.67 L644.44,1027.67 L645.88,1027.67 L647.32,1027.67 L648.77,1027.66 L650.21,1027.66 L651.65,1027.66 L653.10,1027.66 L654.54,1027.66 L655.98,1027.65 L657.43,1027.65 L658.87,1027.64 L660.31,1027.64 L661.76,1027.64 L663.20,1027.63 L664.64,1027.63 L666.08,1027.62 L667.53,1027.62 L668.97,1027.61 L670.41,1027.61 L671.86,1027.60 L673.30,1027.59" stroke="#808000" stroke-width="2.1" fill="none" clip-path="url(#clipC)" stroke-linejoin="round"/>
<path d="M97.50,1008.35 L98.94,1008.72 L100.39,1009.09 L101.83,1009.46 L103.27,1009.83 L104.72,1010.20 L106.16,1010.56 L107.60,1010.93 L109.04,1011.29 L110.49,1011.66 L111.93,1012.02 L113.37,1012.38 L114.82,1012.74 L116.26,1013.10 L117.70,1013.46 L119.15,1013.82 L120.59,1014.18 L122.03,1014.53 L123.48,1014.89 L124.92,1015.24 L126.36,1015.59 L127.81,1015.95 L129.25,1016.30 L130.69,1016.65 L132.13,1017.00 L133.58,1017.35 L135.02,1017.69 L136.46,1018.04 L137.91,1018.39 L139.35,1018.73 L140.79,1019.07 L142.24,1019.42 L143.68,1019.76 L145.12,1020.10 L146.57,1020.44 L148.01,1020.78 L149.45,1021.11 L150.89,1021.45 L152.34,1021.79 L153.78,1022.12 L155.22,1022.45 L156.67,1022.79 L158.11,1023.12 L159.55,1023.45 L161.00,1023.78 L162.44,1024.11 L163.88,1024.44 L165.33,1024.76 L166.77,1025.09 L168.21,1025.41 L169.66,1025.74 L171.10,1026.06 L172.54,1026.38 L173.98,1026.70 L175.43,1027.02 L176.87,1027.34 L178.31,1027.66 L179.76,1027.97 L181.20,1028.29 L182.64,1028.60 L184.09,1028.92 L185.53,1029.23 L186.97,1029.54 L188.42,1029.85 L189.86,1030.16 L191.30,1030.47 L192.75,1030.78 L194.19,1031.08 L195.63,1031.39 L197.07,1031.69 L198.52,1031.99 L199.96,1032.30 L201.40,1032.60 L202.85,1032.90 L204.29,1033.20 L205.73,1033.49 L207.18,1033.79 L208.62,1034.09 L210.06,1034.38 L211.51,1034.67 L212.95,1034.97 L214.39,1035.26 L215.83,1035.55 L217.28,1035.84 L218.72,1036.13 L220.16,1036.41 L221.61,1036.70 L223.05,1036.99 L224.49,1037.27 L225.94,1037.55 L227.38,1037.83 L228.82,1038.12 L230.27,1038.40 L231.71,1038.67 L233.15,1038.95 L234.60,1039.23 L236.04,1039.50 L237.48,1039.78 L238.92,1040.05 L240.37,1040.32 L241.81,1040.59 L243.25,1040.86 L244.70,1041.13 L246.14,1041.40 L247.58,1041.67 L249.03,1041.93 L250.47,1042.20 L251.91,1042.46 L253.36,1042.72 L254.80,1042.99 L256.24,1043.25 L257.68,1043.50 L259.13,1043.76 L260.57,1044.02 L262.01,1044.28 L263.46,1044.53 L264.90,1044.78 L266.34,1045.04 L267.79,1045.29 L269.23,1045.54 L270.67,1045.79 L272.12,1046.03 L273.56,1046.28 L275.00,1046.53 L276.45,1046.77 L277.89,1047.01 L279.33,1047.26 L280.77,1047.50 L282.22,1047.74 L283.66,1047.98 L285.10,1048.21 L286.55,1048.45 L287.99,1048.69 L289.43,1048.92 L290.88,1049.15 L292.32,1049.39 L293.76,1049.62 L295.21,1049.85 L296.65,1050.07 L298.09,1050.30 L299.54,1050.53 L300.98,1050.75 L302.42,1050.98 L303.86,1051.20 L305.31,1051.42 L306.75,1051.64 L308.19,1051.86 L309.64,1052.08 L311.08,1052.30 L312.52,1052.51 L313.97,1052.73 L315.41,1052.94 L316.85,1053.15 L318.30,1053.36 L319.74,1053.57 L321.18,1053.78 L322.62,1053.99 L324.07,1054.20 L325.51,1054.40 L326.95,1054.61 L328.40,1054.81 L329.84,1055.01 L331.28,1055.21 L332.73,1055.41 L334.17,1055.61 L335.61,1055.81 L337.06,1056.00 L338.50,1056.20 L339.94,1056.39 L341.39,1056.58 L342.83,1056.77 L344.27,1056.96 L345.71,1057.15 L347.16,1057.34 L348.60,1057.52 L350.04,1057.71 L351.49,1057.89 L352.93,1058.08 L354.37,1058.26 L355.82,1058.44 L357.26,1058.62 L358.70,1058.79 L360.15,1058.97 L361.59,1059.14 L363.03,1059.32 L364.47,1059.49 L365.92,1059.66 L367.36,1059.83 L368.80,1060.00 L370.25,1060.17 L371.69,1060.34 L373.13,1060.50 L374.58,1060.67 L376.02,1060.83 L377.46,1060.99 L378.91,1061.15 L380.35,1061.31 L381.79,1061.47 L383.24,1061.63 L384.68,1061.78 L386.12,1061.94 L387.56,1062.09 L389.01,1062.24 L390.45,1062.39 L391.89,1062.54 L393.34,1062.69 L394.78,1062.84 L396.22,1062.98 L397.67,1063.13 L399.11,1063.27 L400.55,1063.41 L402.00,1063.55 L403.44,1063.69 L404.88,1063.83 L406.33,1063.97 L407.77,1064.10 L409.21,1064.24 L410.65,1064.37 L412.10,1064.50 L413.54,1064.63 L414.98,1064.76 L416.43,1064.89 L417.87,1065.02 L419.31,1065.14 L420.76,1065.26 L422.20,1065.39 L423.64,1065.51 L425.09,1065.63 L426.53,1065.75 L427.97,1065.87 L429.41,1065.98 L430.86,1066.10 L432.30,1066.21 L433.74,1066.32 L435.19,1066.44 L436.63,1066.55 L438.07,1066.65 L439.52,1066.76 L440.96,1066.87 L442.40,1066.97 L443.85,1067.08 L445.29,1067.18 L446.73,1067.28 L448.18,1067.38 L449.62,1067.48 L451.06,1067.58 L452.50,1067.67 L453.95,1067.77 L455.39,1067.86 L456.83,1067.95 L458.28,1068.04 L459.72,1068.13 L461.16,1068.22 L462.61,1068.31 L464.05,1068.39 L465.49,1068.47 L466.94,1068.56 L468.38,1068.64 L469.82,1068.72 L471.26,1068.80 L472.71,1068.88 L474.15,1068.95 L475.59,1069.03 L477.04,1069.10 L478.48,1069.17 L479.92,1069.24 L481.37,1069.31 L482.81,1069.38 L484.25,1069.45 L485.70,1069.51 L487.14,1069.58 L488.58,1069.64 L490.03,1069.70 L491.47,1069.76 L492.91,1069.82 L494.35,1069.88 L495.80,1069.94 L497.24,1069.99 L498.68,1070.04 L500.13,1070.10 L501.57,1070.15 L503.01,1070.20 L504.46,1070.25 L505.90,1070.29 L507.34,1070.34 L508.79,1070.38 L510.23,1070.42 L511.67,1070.47 L513.12,1070.51 L514.56,1070.55 L516.00,1070.58 L517.44,1070.62 L518.89,1070.65 L520.33,1070.69 L521.77,1070.72 L523.22,1070.75 L524.66,1070.78 L526.10,1070.81 L527.55,1070.83 L528.99,1070.86 L530.43,1070.88 L531.88,1070.91 L533.32,1070.93 L534.76,1070.95 L536.20,1070.97 L537.65,1070.98 L539.09,1071.00 L540.53,1071.01 L541.98,1071.03 L543.42,1071.04 L544.86,1071.05 L546.31,1071.06 L547.75,1071.07 L549.19,1071.07 L550.64,1071.08 L552.08,1071.08 L553.52,1071.08 L554.97,1071.08 L556.41,1071.08 L557.85,1071.08 L559.29,1071.08 L560.74,1071.07 L562.18,1071.07 L563.62,1071.06 L565.07,1071.05 L566.51,1071.04 L567.95,1071.03 L569.40,1071.02 L570.84,1071.00 L572.28,1070.99 L573.73,1070.97 L575.17,1070.95 L576.61,1070.93 L578.05,1070.91 L579.50,1070.89 L580.94,1070.87 L582.38,1070.84 L583.83,1070.81 L585.27,1070.79 L586.71,1070.76 L588.16,1070.73 L589.60,1070.69 L591.04,1070.66 L592.49,1070.62 L593.93,1070.59 L595.37,1070.55 L596.82,1070.51 L598.26,1070.47 L599.70,1070.43 L601.14,1070.39 L602.59,1070.34 L604.03,1070.30 L605.47,1070.25 L606.92,1070.20 L608.36,1070.15 L609.80,1070.10 L611.25,1070.04 L612.69,1069.99 L614.13,1069.93 L615.58,1069.88 L617.02,1069.82 L618.46,1069.76 L619.91,1069.70 L621.35,1069.64 L622.79,1069.57 L624.23,1069.51 L625.68,1069.44 L627.12,1069.37 L628.56,1069.30 L630.01,1069.23 L631.45,1069.16 L632.89,1069.08 L634.34,1069.01 L635.78,1068.93 L637.22,1068.85 L638.67,1068.77 L640.11,1068.69 L641.55,1068.61 L642.99,1068.53 L644.44,1068.44 L645.88,1068.36 L647.32,1068.27 L648.77,1068.18 L650.21,1068.09 L651.65,1068.00 L653.10,1067.90 L654.54,1067.81 L655.98,1067.71 L657.43,1067.62 L658.87,1067.52 L660.31,1067.42 L661.76,1067.32 L663.20,1067.21 L664.64,1067.11 L666.08,1067.00 L667.53,1066.89 L668.97,1066.79 L670.41,1066.68 L671.86,1066.56 L673.30,1066.45" stroke="#108585" stroke-width="2.1" fill="none" clip-path="url(#clipC)" stroke-linejoin="round"/>
<path d="M97.50,1008.35 L98.94,1008.91 L100.39,1009.46 L101.83,1010.02 L103.27,1010.57 L104.72,1011.12 L106.16,1011.67 L107.60,1012.22 L109.04,1012.76 L110.49,1013.31 L111.93,1013.85 L113.37,1014.40 L114.82,1014.94 L116.26,1015.48 L117.70,1016.02 L119.15,1016.55 L120.59,1017.09 L122.03,1017.62 L123.48,1018.15 L124.92,1018.69 L126.36,1019.22 L127.81,1019.74 L129.25,1020.27 L130.69,1020.80 L132.13,1021.32 L133.58,1021.84 L135.02,1022.36 L136.46,1022.88 L137.91,1023.40 L139.35,1023.92 L140.79,1024.43 L142.24,1024.94 L143.68,1025.45 L145.12,1025.96 L146.57,1026.47 L148.01,1026.98 L149.45,1027.49 L150.89,1027.99 L152.34,1028.49 L153.78,1028.99 L155.22,1029.49 L156.67,1029.99 L158.11,1030.49 L159.55,1030.98 L161.00,1031.48 L162.44,1031.97 L163.88,1032.46 L165.33,1032.95 L166.77,1033.43 L168.21,1033.92 L169.66,1034.40 L171.10,1034.88 L172.54,1035.37 L173.98,1035.84 L175.43,1036.32 L176.87,1036.80 L178.31,1037.27 L179.76,1037.75 L181.20,1038.22 L182.64,1038.69 L184.09,1039.15 L185.53,1039.62 L186.97,1040.08 L188.42,1040.55 L189.86,1041.01 L191.30,1041.47 L192.75,1041.93 L194.19,1042.38 L195.63,1042.84 L197.07,1043.29 L198.52,1043.74 L199.96,1044.19 L201.40,1044.64 L202.85,1045.09 L204.29,1045.53 L205.73,1045.97 L207.18,1046.42 L208.62,1046.86 L210.06,1047.29 L211.51,1047.73 L212.95,1048.16 L214.39,1048.60 L215.83,1049.03 L217.28,1049.46 L218.72,1049.89 L220.16,1050.31 L221.61,1050.74 L223.05,1051.16 L224.49,1051.58 L225.94,1052.00 L227.38,1052.42 L228.82,1052.83 L230.27,1053.25 L231.71,1053.66 L233.15,1054.07 L234.60,1054.48 L236.04,1054.88 L237.48,1055.29 L238.92,1055.69 L240.37,1056.09 L241.81,1056.49 L243.25,1056.89 L244.70,1057.29 L246.14,1057.68 L247.58,1058.07 L249.03,1058.46 L250.47,1058.85 L251.91,1059.24 L253.36,1059.63 L254.80,1060.01 L256.24,1060.39 L257.68,1060.77 L259.13,1061.15 L260.57,1061.53 L262.01,1061.90 L263.46,1062.27 L264.90,1062.64 L266.34,1063.01 L267.79,1063.38 L269.23,1063.74 L270.67,1064.11 L272.12,1064.47 L273.56,1064.83 L275.00,1065.18 L276.45,1065.54 L277.89,1065.89 L279.33,1066.25 L280.77,1066.59 L282.22,1066.94 L283.66,1067.29 L285.10,1067.63 L286.55,1067.98 L287.99,1068.32 L289.43,1068.65 L290.88,1068.99 L292.32,1069.32 L293.76,1069.66 L295.21,1069.99 L296.65,1070.32 L298.09,1070.64 L299.54,1070.97 L300.98,1071.29 L302.42,1071.61 L303.86,1071.93 L305.31,1072.25 L306.75,1072.56 L308.19,1072.87 L309.64,1073.19 L311.08,1073.49 L312.52,1073.80 L313.97,1074.11 L315.41,1074.41 L316.85,1074.71 L318.30,1075.01 L319.74,1075.31 L321.18,1075.60 L322.62,1075.89 L324.07,1076.18 L325.51,1076.47 L326.95,1076.76 L328.40,1077.04 L329.84,1077.33 L331.28,1077.61 L332.73,1077.88 L334.17,1078.16 L335.61,1078.44 L337.06,1078.71 L338.50,1078.98 L339.94,1079.25 L341.39,1079.51 L342.83,1079.78 L344.27,1080.04 L345.71,1080.30 L347.16,1080.55 L348.60,1080.81 L350.04,1081.06 L351.49,1081.31 L352.93,1081.56 L354.37,1081.81 L355.82,1082.05 L357.26,1082.30 L358.70,1082.54 L360.15,1082.78 L361.59,1083.01 L363.03,1083.25 L364.47,1083.48 L365.92,1083.71 L367.36,1083.93 L368.80,1084.16 L370.25,1084.38 L371.69,1084.60 L373.13,1084.82 L374.58,1085.04 L376.02,1085.25 L377.46,1085.46 L378.91,1085.67 L380.35,1085.88 L381.79,1086.09 L383.24,1086.29 L384.68,1086.49 L386.12,1086.69 L387.56,1086.89 L389.01,1087.08 L390.45,1087.27 L391.89,1087.46 L393.34,1087.65 L394.78,1087.84 L396.22,1088.02 L397.67,1088.20 L399.11,1088.38 L400.55,1088.55 L402.00,1088.73 L403.44,1088.90 L404.88,1089.07 L406.33,1089.24 L407.77,1089.40 L409.21,1089.56 L410.65,1089.72 L412.10,1089.88 L413.54,1090.04 L414.98,1090.19 L416.43,1090.34 L417.87,1090.49 L419.31,1090.64 L420.76,1090.78 L422.20,1090.92 L423.64,1091.06 L425.09,1091.20 L426.53,1091.33 L427.97,1091.46 L429.41,1091.59 L430.86,1091.72 L432.30,1091.84 L433.74,1091.97 L435.19,1092.09 L436.63,1092.21 L438.07,1092.32 L439.52,1092.43 L440.96,1092.54 L442.40,1092.65 L443.85,1092.76 L445.29,1092.86 L446.73,1092.96 L448.18,1093.06 L449.62,1093.16 L451.06,1093.25 L452.50,1093.34 L453.95,1093.43 L455.39,1093.52 L456.83,1093.60 L458.28,1093.68 L459.72,1093.76 L461.16,1093.84 L462.61,1093.91 L464.05,1093.98 L465.49,1094.05 L466.94,1094.12 L468.38,1094.18 L469.82,1094.25 L471.26,1094.31 L472.71,1094.36 L474.15,1094.42 L475.59,1094.47 L477.04,1094.52 L478.48,1094.56 L479.92,1094.61 L481.37,1094.65 L482.81,1094.69 L484.25,1094.73 L485.70,1094.76 L487.14,1094.79 L488.58,1094.82 L490.03,1094.85 L491.47,1094.87 L492.91,1094.89 L494.35,1094.91 L495.80,1094.93 L497.24,1094.94 L498.68,1094.96 L500.13,1094.96 L501.57,1094.97 L503.01,1094.97 L504.46,1094.98 L505.90,1094.97 L507.34,1094.97 L508.79,1094.96 L510.23,1094.95 L511.67,1094.94 L513.12,1094.93 L514.56,1094.91 L516.00,1094.89 L517.44,1094.87 L518.89,1094.84 L520.33,1094.82 L521.77,1094.79 L523.22,1094.75 L524.66,1094.72 L526.10,1094.68 L527.55,1094.64 L528.99,1094.60 L530.43,1094.55 L531.88,1094.50 L533.32,1094.45 L534.76,1094.40 L536.20,1094.34 L537.65,1094.28 L539.09,1094.22 L540.53,1094.16 L541.98,1094.09 L543.42,1094.02 L544.86,1093.95 L546.31,1093.87 L547.75,1093.80 L549.19,1093.72 L550.64,1093.63 L552.08,1093.55 L553.52,1093.46 L554.97,1093.37 L556.41,1093.28 L557.85,1093.18 L559.29,1093.08 L560.74,1092.98 L562.18,1092.87 L563.62,1092.77 L565.07,1092.66 L566.51,1092.55 L567.95,1092.43 L569.40,1092.31 L570.84,1092.19 L572.28,1092.07 L573.73,1091.94 L575.17,1091.81 L576.61,1091.68 L578.05,1091.55 L579.50,1091.41 L580.94,1091.27 L582.38,1091.13 L583.83,1090.99 L585.27,1090.84 L586.71,1090.69 L588.16,1090.53 L589.60,1090.38 L591.04,1090.22 L592.49,1090.06 L593.93,1089.89 L595.37,1089.73 L596.82,1089.56 L598.26,1089.39 L599.70,1089.21 L601.14,1089.03 L602.59,1088.85 L604.03,1088.67 L605.47,1088.48 L606.92,1088.29 L608.36,1088.10 L609.80,1087.91 L611.25,1087.71 L612.69,1087.51 L614.13,1087.31 L615.58,1087.10 L617.02,1086.89 L618.46,1086.68 L619.91,1086.47 L621.35,1086.25 L622.79,1086.03 L624.23,1085.81 L625.68,1085.59 L627.12,1085.36 L628.56,1085.13 L630.01,1084.90 L631.45,1084.66 L632.89,1084.42 L634.34,1084.18 L635.78,1083.94 L637.22,1083.69 L638.67,1083.44 L640.11,1083.19 L641.55,1082.93 L642.99,1082.67 L644.44,1082.41 L645.88,1082.15 L647.32,1081.88 L648.77,1081.61 L650.21,1081.34 L651.65,1081.06 L653.10,1080.79 L654.54,1080.51 L655.98,1080.22 L657.43,1079.94 L658.87,1079.65 L660.31,1079.36 L661.76,1079.06 L663.20,1078.76 L664.64,1078.46 L666.08,1078.16 L667.53,1077.86 L668.97,1077.55 L670.41,1077.24 L671.86,1076.92 L673.30,1076.61" stroke="#80FF00" stroke-width="2.1" fill="none" clip-path="url(#clipC)" stroke-linejoin="round"/>
<path d="M97.50,1008.35 L98.94,1009.28 L100.39,1010.20 L101.83,1011.13 L103.27,1012.05 L104.72,1012.97 L106.16,1013.88 L107.60,1014.80 L109.04,1015.71 L110.49,1016.62 L111.93,1017.52 L113.37,1018.43 L114.82,1019.33 L116.26,1020.23 L117.70,1021.13 L119.15,1022.02 L120.59,1022.91 L122.03,1023.80 L123.48,1024.69 L124.92,1025.57 L126.36,1026.45 L127.81,1027.33 L129.25,1028.21 L130.69,1029.08 L132.13,1029.96 L133.58,1030.82 L135.02,1031.69 L136.46,1032.55 L137.91,1033.42 L139.35,1034.27 L140.79,1035.13 L142.24,1035.98 L143.68,1036.83 L145.12,1037.68 L146.57,1038.53 L148.01,1039.37 L149.45,1040.21 L150.89,1041.05 L152.34,1041.88 L153.78,1042.71 L155.22,1043.54 L156.67,1044.37 L158.11,1045.19 L159.55,1046.01 L161.00,1046.83 L162.44,1047.65 L163.88,1048.46 L165.33,1049.27 L166.77,1050.07 L168.21,1050.88 L169.66,1051.68 L171.10,1052.48 L172.54,1053.27 L173.98,1054.06 L175.43,1054.85 L176.87,1055.64 L178.31,1056.42 L179.76,1057.20 L181.20,1057.98 L182.64,1058.75 L184.09,1059.52 L185.53,1060.29 L186.97,1061.06 L188.42,1061.82 L189.86,1062.58 L191.30,1063.33 L192.75,1064.09 L194.19,1064.84 L195.63,1065.58 L197.07,1066.33 L198.52,1067.07 L199.96,1067.80 L201.40,1068.54 L202.85,1069.27 L204.29,1069.99 L205.73,1070.72 L207.18,1071.44 L208.62,1072.16 L210.06,1072.87 L211.51,1073.58 L212.95,1074.29 L214.39,1074.99 L215.83,1075.70 L217.28,1076.39 L218.72,1077.09 L220.16,1077.78 L221.61,1078.47 L223.05,1079.15 L224.49,1079.83 L225.94,1080.51 L227.38,1081.18 L228.82,1081.85 L230.27,1082.52 L231.71,1083.18 L233.15,1083.84 L234.60,1084.50 L236.04,1085.15 L237.48,1085.80 L238.92,1086.44 L240.37,1087.09 L241.81,1087.72 L243.25,1088.36 L244.70,1088.99 L246.14,1089.62 L247.58,1090.24 L249.03,1090.86 L250.47,1091.47 L251.91,1092.09 L253.36,1092.69 L254.80,1093.30 L256.24,1093.90 L257.68,1094.50 L259.13,1095.09 L260.57,1095.68 L262.01,1096.26 L263.46,1096.84 L264.90,1097.42 L266.34,1097.99 L267.79,1098.56 L269.23,1099.13 L270.67,1099.69 L272.12,1100.25 L273.56,1100.80 L275.00,1101.35 L276.45,1101.89 L277.89,1102.43 L279.33,1102.97 L280.77,1103.50 L282.22,1104.03 L283.66,1104.55 L285.10,1105.07 L286.55,1105.59 L287.99,1106.10 L289.43,1106.60 L290.88,1107.11 L292.32,1107.60 L293.76,1108.10 L295.21,1108.59 L296.65,1109.07 L298.09,1109.55 L299.54,1110.03 L300.98,1110.50 L302.42,1110.97 L303.86,1111.43 L305.31,1111.89 L306.75,1112.34 L308.19,1112.79 L309.64,1113.23 L311.08,1113.67 L312.52,1114.11 L313.97,1114.54 L315.41,1114.96 L316.85,1115.38 L318.30,1115.80 L319.74,1116.21 L321.18,1116.61 L322.62,1117.01 L324.07,1117.41 L325.51,1117.80 L326.95,1118.19 L328.40,1118.57 L329.84,1118.94 L331.28,1119.31 L332.73,1119.68 L334.17,1120.04 L335.61,1120.40 L337.06,1120.75 L338.50,1121.09 L339.94,1121.43 L341.39,1121.77 L342.83,1122.10 L344.27,1122.42 L345.71,1122.74 L347.16,1123.06 L348.60,1123.37 L350.04,1123.67 L351.49,1123.97 L352.93,1124.26 L354.37,1124.55 L355.82,1124.83 L357.26,1125.10 L358.70,1125.37 L360.15,1125.64 L361.59,1125.90 L363.03,1126.15 L364.47,1126.40 L365.92,1126.64 L367.36,1126.88 L368.80,1127.11 L370.25,1127.33 L371.69,1127.55 L373.13,1127.76 L374.58,1127.97 L376.02,1128.17 L377.46,1128.37 L378.91,1128.56 L380.35,1128.74 L381.79,1128.91 L383.24,1129.09 L384.68,1129.25 L386.12,1129.41 L387.56,1129.56 L389.01,1129.71 L390.45,1129.85 L391.89,1129.98 L393.34,1130.11 L394.78,1130.23 L396.22,1130.34 L397.67,1130.45 L399.11,1130.55 L400.55,1130.64 L402.00,1130.73 L403.44,1130.81 L404.88,1130.89 L406.33,1130.95 L407.77,1131.01 L409.21,1131.07 L410.65,1131.12 L412.10,1131.16 L413.54,1131.19 L414.98,1131.22 L416.43,1131.24 L417.87,1131.25 L419.31,1131.26 L420.76,1131.26 L422.20,1131.25 L423.64,1131.23 L425.09,1131.21 L426.53,1131.18 L427.97,1131.14 L429.41,1131.10 L430.86,1131.05 L432.30,1130.99 L433.74,1130.92 L435.19,1130.85 L436.63,1130.76 L438.07,1130.67 L439.52,1130.58 L440.96,1130.47 L442.40,1130.36 L443.85,1130.24 L445.29,1130.11 L446.73,1129.98 L448.18,1129.83 L449.62,1129.68 L451.06,1129.52 L452.50,1129.35 L453.95,1129.18 L455.39,1129.00 L456.83,1128.80 L458.28,1128.60 L459.72,1128.40 L461.16,1128.18 L462.61,1127.95 L464.05,1127.72 L465.49,1127.48 L466.94,1127.23 L468.38,1126.97 L469.82,1126.70 L471.26,1126.43 L472.71,1126.14 L474.15,1125.85 L475.59,1125.55 L477.04,1125.24 L478.48,1124.92 L479.92,1124.59 L481.37,1124.25 L482.81,1123.91 L484.25,1123.55 L485.70,1123.19 L487.14,1122.81 L488.58,1122.43 L490.03,1122.04 L491.47,1121.64 L492.91,1121.23 L494.35,1120.81 L495.80,1120.38 L497.24,1119.94 L498.68,1119.49 L500.13,1119.03 L501.57,1118.57 L503.01,1118.09 L504.46,1117.60 L505.90,1117.11 L507.34,1116.60 L508.79,1116.08 L510.23,1115.56 L511.67,1115.02 L513.12,1114.47 L514.56,1113.92 L516.00,1113.35 L517.44,1112.78 L518.89,1112.19 L520.33,1111.59 L521.77,1110.98 L523.22,1110.37 L524.66,1109.74 L526.10,1109.10 L527.55,1108.45 L528.99,1107.79 L530.43,1107.12 L531.88,1106.44 L533.32,1105.75 L534.76,1105.04 L536.20,1104.33 L537.65,1103.61 L539.09,1102.87 L540.53,1102.12 L541.98,1101.37 L543.42,1100.60 L544.86,1099.82 L546.31,1099.03 L547.75,1098.23 L549.19,1097.41 L550.64,1096.59 L552.08,1095.75 L553.52,1094.91 L554.97,1094.05 L556.41,1093.18 L557.85,1092.29 L559.29,1091.40 L560.74,1090.50 L562.18,1089.58 L563.62,1088.65 L565.07,1087.71 L566.51,1086.76 L567.95,1085.79 L569.40,1084.81 L570.84,1083.83 L572.28,1082.83 L573.73,1081.81 L575.17,1080.79 L576.61,1079.75 L578.05,1078.70 L579.50,1077.64 L580.94,1076.57 L582.38,1075.48 L583.83,1074.38 L585.27,1073.27 L586.71,1072.15 L588.16,1071.01 L589.60,1069.86 L591.04,1068.70 L592.49,1067.53 L593.93,1066.34 L595.37,1065.14 L596.82,1063.93 L598.26,1062.70 L599.70,1061.46 L601.14,1060.21 L602.59,1058.95 L604.03,1057.67 L605.47,1056.38 L606.92,1055.08 L608.36,1053.76 L609.80,1052.43 L611.25,1051.09 L612.69,1049.74 L614.13,1048.37 L615.58,1046.98 L617.02,1045.59 L618.46,1044.18 L619.91,1042.76 L621.35,1041.32 L622.79,1039.87 L624.23,1038.41 L625.68,1036.93 L627.12,1035.45 L628.56,1033.94 L630.01,1032.43 L631.45,1030.90 L632.89,1029.35 L634.34,1027.79 L635.78,1026.22 L637.22,1024.64 L638.67,1023.04 L640.11,1021.43 L641.55,1019.80 L642.99,1018.16 L644.44,1016.51 L645.88,1014.84 L647.32,1013.16 L648.77,1011.47 L650.21,1009.76 L651.65,1008.03 L653.10,1006.30 L654.54,1004.55 L655.98,1002.78 L657.43,1001.00 L658.87,999.21 L660.31,997.41 L661.76,995.59 L663.20,993.75 L664.64,991.91 L666.08,990.04 L667.53,988.17 L668.97,986.28 L670.41,984.37 L671.86,982.46 L673.30,980.52" stroke="#0000FF" stroke-width="2.1" fill="none" clip-path="url(#clipC)" stroke-linejoin="round"/>
<path d="M97.50,1008.35 L98.94,1009.36 L100.39,1010.37 L101.83,1011.38 L103.27,1012.38 L104.72,1013.39 L106.16,1014.39 L107.60,1015.38 L109.04,1016.38 L110.49,1017.37 L111.93,1018.36 L113.37,1019.34 L114.82,1020.33 L116.26,1021.31 L117.70,1022.29 L119.15,1023.26 L120.59,1024.23 L122.03,1025.20 L123.48,1026.17 L124.92,1027.14 L126.36,1028.10 L127.81,1029.06 L129.25,1030.01 L130.69,1030.97 L132.13,1031.92 L133.58,1032.87 L135.02,1033.81 L136.46,1034.75 L137.91,1035.69 L139.35,1036.63 L140.79,1037.56 L142.24,1038.49 L143.68,1039.42 L145.12,1040.34 L146.57,1041.26 L148.01,1042.18 L149.45,1043.10 L150.89,1044.01 L152.34,1044.92 L153.78,1045.83 L155.22,1046.73 L156.67,1047.63 L158.11,1048.53 L159.55,1049.42 L161.00,1050.31 L162.44,1051.20 L163.88,1052.09 L165.33,1052.97 L166.77,1053.85 L168.21,1054.72 L169.66,1055.59 L171.10,1056.46 L172.54,1057.33 L173.98,1058.19 L175.43,1059.05 L176.87,1059.90 L178.31,1060.76 L179.76,1061.60 L181.20,1062.45 L182.64,1063.29 L184.09,1064.13 L185.53,1064.97 L186.97,1065.80 L188.42,1066.63 L189.86,1067.45 L191.30,1068.27 L192.75,1069.09 L194.19,1069.91 L195.63,1070.72 L197.07,1071.53 L198.52,1072.33 L199.96,1073.13 L201.40,1073.93 L202.85,1074.72 L204.29,1075.51 L205.73,1076.30 L207.18,1077.08 L208.62,1077.86 L210.06,1078.63 L211.51,1079.40 L212.95,1080.17 L214.39,1080.93 L215.83,1081.69 L217.28,1082.45 L218.72,1083.20 L220.16,1083.95 L221.61,1084.70 L223.05,1085.44 L224.49,1086.17 L225.94,1086.90 L227.38,1087.63 L228.82,1088.36 L230.27,1089.08 L231.71,1089.80 L233.15,1090.51 L234.60,1091.22 L236.04,1091.92 L237.48,1092.62 L238.92,1093.32 L240.37,1094.01 L241.81,1094.70 L243.25,1095.38 L244.70,1096.06 L246.14,1096.73 L247.58,1097.40 L249.03,1098.07 L250.47,1098.73 L251.91,1099.39 L253.36,1100.04 L254.80,1100.69 L256.24,1101.34 L257.68,1101.98 L259.13,1102.61 L260.57,1103.24 L262.01,1103.87 L263.46,1104.49 L264.90,1105.11 L266.34,1105.72 L267.79,1106.33 L269.23,1106.93 L270.67,1107.53 L272.12,1108.12 L273.56,1108.71 L275.00,1109.30 L276.45,1109.88 L277.89,1110.45 L279.33,1111.02 L280.77,1111.58 L282.22,1112.14 L283.66,1112.70 L285.10,1113.25 L286.55,1113.79 L287.99,1114.33 L289.43,1114.87 L290.88,1115.40 L292.32,1115.92 L293.76,1116.44 L295.21,1116.95 L296.65,1117.46 L298.09,1117.96 L299.54,1118.46 L300.98,1118.95 L302.42,1119.44 L303.86,1119.92 L305.31,1120.40 L306.75,1120.87 L308.19,1121.33 L309.64,1121.79 L311.08,1122.25 L312.52,1122.70 L313.97,1123.14 L315.41,1123.58 L316.85,1124.01 L318.30,1124.43 L319.74,1124.85 L321.18,1125.27 L322.62,1125.67 L324.07,1126.08 L325.51,1126.47 L326.95,1126.86 L328.40,1127.25 L329.84,1127.62 L331.28,1128.00 L332.73,1128.36 L334.17,1128.72 L335.61,1129.07 L337.06,1129.42 L338.50,1129.76 L339.94,1130.09 L341.39,1130.42 L342.83,1130.74 L344.27,1131.06 L345.71,1131.37 L347.16,1131.67 L348.60,1131.96 L350.04,1132.25 L351.49,1132.53 L352.93,1132.81 L354.37,1133.07 L355.82,1133.34 L357.26,1133.59 L358.70,1133.84 L360.15,1134.08 L361.59,1134.31 L363.03,1134.54 L364.47,1134.75 L365.92,1134.97 L367.36,1135.17 L368.80,1135.37 L370.25,1135.56 L371.69,1135.74 L373.13,1135.91 L374.58,1136.08 L376.02,1136.24 L377.46,1136.39 L378.91,1136.54 L380.35,1136.67 L381.79,1136.80 L383.24,1136.92 L384.68,1137.04 L386.12,1137.14 L387.56,1137.24 L389.01,1137.33 L390.45,1137.41 L391.89,1137.48 L393.34,1137.55 L394.78,1137.60 L396.22,1137.65 L397.67,1137.69 L399.11,1137.72 L400.55,1137.74 L402.00,1137.76 L403.44,1137.76 L404.88,1137.76 L406.33,1137.74 L407.77,1137.72 L409.21,1137.69 L410.65,1137.65 L412.10,1137.61 L413.54,1137.55 L414.98,1137.48 L416.43,1137.40 L417.87,1137.32 L419.31,1137.22 L420.76,1137.12 L422.20,1137.01 L423.64,1136.88 L425.09,1136.75 L426.53,1136.61 L427.97,1136.45 L429.41,1136.29 L430.86,1136.12 L432.30,1135.94 L433.74,1135.74 L435.19,1135.54 L436.63,1135.33 L438.07,1135.10 L439.52,1134.87 L440.96,1134.62 L442.40,1134.37 L443.85,1134.10 L445.29,1133.82 L446.73,1133.54 L448.18,1133.24 L449.62,1132.93 L451.06,1132.61 L452.50,1132.27 L453.95,1131.93 L455.39,1131.58 L456.83,1131.21 L458.28,1130.83 L459.72,1130.44 L461.16,1130.04 L462.61,1129.63 L464.05,1129.20 L465.49,1128.76 L466.94,1128.31 L468.38,1127.85 L469.82,1127.38 L471.26,1126.89 L472.71,1126.39 L474.15,1125.88 L475.59,1125.36 L477.04,1124.82 L478.48,1124.27 L479.92,1123.71 L481.37,1123.13 L482.81,1122.54 L484.25,1121.94 L485.70,1121.32 L487.14,1120.69 L488.58,1120.05 L490.03,1119.39 L491.47,1118.72 L492.91,1118.03 L494.35,1117.34 L495.80,1116.62 L497.24,1115.89 L498.68,1115.15 L500.13,1114.40 L501.57,1113.62 L503.01,1112.84 L504.46,1112.04 L505.90,1111.22 L507.34,1110.39 L508.79,1109.54 L510.23,1108.68 L511.67,1107.80 L513.12,1106.91 L514.56,1106.00 L516.00,1105.08 L517.44,1104.13 L518.89,1103.18 L520.33,1102.20 L521.77,1101.22 L523.22,1100.21 L524.66,1099.19 L526.10,1098.15 L527.55,1097.09 L528.99,1096.02 L530.43,1094.93 L531.88,1093.82 L533.32,1092.69 L534.76,1091.55 L536.20,1090.39 L537.65,1089.21 L539.09,1088.02 L540.53,1086.80 L541.98,1085.57 L543.42,1084.32 L544.86,1083.05 L546.31,1081.76 L547.75,1080.45 L549.19,1079.13 L550.64,1077.78 L552.08,1076.42 L553.52,1075.03 L554.97,1073.63 L556.41,1072.21 L557.85,1070.77 L559.29,1069.30 L560.74,1067.82 L562.18,1066.32 L563.62,1064.79 L565.07,1063.25 L566.51,1061.69 L567.95,1060.10 L569.40,1058.49 L570.84,1056.87 L572.28,1055.22 L573.73,1053.55 L575.17,1051.86 L576.61,1050.15 L578.05,1048.41 L579.50,1046.65 L580.94,1044.88 L582.38,1043.07 L583.83,1041.25 L585.27,1039.41 L586.71,1037.54 L588.16,1035.65 L589.60,1033.73 L591.04,1031.79 L592.49,1029.83 L593.93,1027.85 L595.37,1025.84 L596.82,1023.81 L598.26,1021.76 L599.70,1019.68 L601.14,1017.58 L602.59,1015.45 L604.03,1013.30 L605.47,1011.12 L606.92,1008.92 L608.36,1006.70 L609.80,1004.45 L611.25,1002.17 L612.69,999.88 L614.13,997.55 L615.58,995.20 L617.02,992.83 L618.46,990.43 L619.91,988.00 L621.35,985.55 L622.79,983.07 L624.23,980.56 L625.68,978.04 L627.12,975.48 L628.56,972.90 L630.01,970.29 L631.45,967.65 L632.89,964.99 L634.34,962.30 L635.78,959.59 L637.22,956.85 L638.67,954.08 L640.11,951.28 L641.55,948.46 L642.99,945.61 L644.44,942.73 L645.88,939.83 L647.32,936.90 L648.77,933.94 L650.21,930.95 L651.65,927.94 L653.10,924.90 L654.54,921.83 L655.98,918.73 L657.43,915.61 L658.87,912.45 L660.31,909.27 L661.76,906.07 L663.20,902.83 L664.64,899.57 L666.08,896.28 L667.53,892.96 L668.97,889.61 L670.41,886.23 L671.86,882.83 L673.30,879.40" stroke="#FF0000" stroke-width="2.1" fill="none" clip-path="url(#clipC)" stroke-linejoin="round"/>
<path d="M97.50,1008.35 L98.94,1009.44 L100.39,1010.53 L101.83,1011.62 L103.27,1012.70 L104.72,1013.78 L106.16,1014.86 L107.60,1015.93 L109.04,1017.01 L110.49,1018.08 L111.93,1019.14 L113.37,1020.21 L114.82,1021.27 L116.26,1022.32 L117.70,1023.38 L119.15,1024.43 L120.59,1025.48 L122.03,1026.53 L123.48,1027.57 L124.92,1028.61 L126.36,1029.65 L127.81,1030.68 L129.25,1031.71 L130.69,1032.74 L132.13,1033.76 L133.58,1034.78 L135.02,1035.80 L136.46,1036.82 L137.91,1037.83 L139.35,1038.84 L140.79,1039.85 L142.24,1040.85 L143.68,1041.85 L145.12,1042.85 L146.57,1043.84 L148.01,1044.83 L149.45,1045.81 L150.89,1046.80 L152.34,1047.78 L153.78,1048.75 L155.22,1049.73 L156.67,1050.70 L158.11,1051.66 L159.55,1052.63 L161.00,1053.59 L162.44,1054.54 L163.88,1055.50 L165.33,1056.45 L166.77,1057.39 L168.21,1058.33 L169.66,1059.27 L171.10,1060.21 L172.54,1061.14 L173.98,1062.07 L175.43,1062.99 L176.87,1063.91 L178.31,1064.83 L179.76,1065.74 L181.20,1066.65 L182.64,1067.56 L184.09,1068.46 L185.53,1069.36 L186.97,1070.25 L188.42,1071.14 L189.86,1072.03 L191.30,1072.91 L192.75,1073.79 L194.19,1074.67 L195.63,1075.54 L197.07,1076.41 L198.52,1077.27 L199.96,1078.13 L201.40,1078.99 L202.85,1079.84 L204.29,1080.69 L205.73,1081.53 L207.18,1082.37 L208.62,1083.20 L210.06,1084.03 L211.51,1084.86 L212.95,1085.68 L214.39,1086.50 L215.83,1087.32 L217.28,1088.13 L218.72,1088.93 L220.16,1089.73 L221.61,1090.53 L223.05,1091.32 L224.49,1092.11 L225.94,1092.89 L227.38,1093.67 L228.82,1094.45 L230.27,1095.22 L231.71,1095.98 L233.15,1096.74 L234.60,1097.50 L236.04,1098.25 L237.48,1099.00 L238.92,1099.74 L240.37,1100.48 L241.81,1101.21 L243.25,1101.94 L244.70,1102.66 L246.14,1103.38 L247.58,1104.09 L249.03,1104.80 L250.47,1105.50 L251.91,1106.20 L253.36,1106.89 L254.80,1107.58 L256.24,1108.26 L257.68,1108.94 L259.13,1109.62 L260.57,1110.28 L262.01,1110.95 L263.46,1111.60 L264.90,1112.25 L266.34,1112.90 L267.79,1113.54 L269.23,1114.18 L270.67,1114.81 L272.12,1115.43 L273.56,1116.05 L275.00,1116.66 L276.45,1117.27 L277.89,1117.88 L279.33,1118.47 L280.77,1119.06 L282.22,1119.65 L283.66,1120.23 L285.10,1120.80 L286.55,1121.37 L287.99,1121.93 L289.43,1122.49 L290.88,1123.04 L292.32,1123.58 L293.76,1124.12 L295.21,1124.65 L296.65,1125.17 L298.09,1125.69 L299.54,1126.20 L300.98,1126.71 L302.42,1127.21 L303.86,1127.70 L305.31,1128.19 L306.75,1128.67 L308.19,1129.15 L309.64,1129.61 L311.08,1130.07 L312.52,1130.53 L313.97,1130.98 L315.41,1131.42 L316.85,1131.85 L318.30,1132.28 L319.74,1132.70 L321.18,1133.11 L322.62,1133.51 L324.07,1133.91 L325.51,1134.30 L326.95,1134.69 L328.40,1135.06 L329.84,1135.43 L331.28,1135.79 L332.73,1136.15 L334.17,1136.49 L335.61,1136.83 L337.06,1137.16 L338.50,1137.49 L339.94,1137.80 L341.39,1138.11 L342.83,1138.41 L344.27,1138.70 L345.71,1138.99 L347.16,1139.26 L348.60,1139.53 L350.04,1139.79 L351.49,1140.04 L352.93,1140.28 L354.37,1140.52 L355.82,1140.74 L357.26,1140.96 L358.70,1141.17 L360.15,1141.37 L361.59,1141.56 L363.03,1141.74 L364.47,1141.91 L365.92,1142.08 L367.36,1142.23 L368.80,1142.38 L370.25,1142.51 L371.69,1142.64 L373.13,1142.76 L374.58,1142.86 L376.02,1142.96 L377.46,1143.05 L378.91,1143.13 L380.35,1143.20 L381.79,1143.25 L383.24,1143.30 L384.68,1143.34 L386.12,1143.37 L387.56,1143.38 L389.01,1143.39 L390.45,1143.39 L391.89,1143.37 L393.34,1143.35 L394.78,1143.31 L396.22,1143.26 L397.67,1143.20 L399.11,1143.14 L400.55,1143.05 L402.00,1142.96 L403.44,1142.86 L404.88,1142.74 L406.33,1142.61 L407.77,1142.48 L409.21,1142.32 L410.65,1142.16 L412.10,1141.99 L413.54,1141.80 L414.98,1141.60 L416.43,1141.38 L417.87,1141.16 L419.31,1140.92 L420.76,1140.67 L422.20,1140.40 L423.64,1140.12 L425.09,1139.83 L426.53,1139.53 L427.97,1139.21 L429.41,1138.87 L430.86,1138.53 L432.30,1138.17 L433.74,1137.79 L435.19,1137.40 L436.63,1137.00 L438.07,1136.58 L439.52,1136.14 L440.96,1135.69 L442.40,1135.23 L443.85,1134.75 L445.29,1134.25 L446.73,1133.74 L448.18,1133.21 L449.62,1132.67 L451.06,1132.11 L452.50,1131.53 L453.95,1130.94 L455.39,1130.33 L456.83,1129.70 L458.28,1129.06 L459.72,1128.40 L461.16,1127.72 L462.61,1127.02 L464.05,1126.30 L465.49,1125.57 L466.94,1124.81 L468.38,1124.04 L469.82,1123.25 L471.26,1122.44 L472.71,1121.61 L474.15,1120.76 L475.59,1119.89 L477.04,1119.00 L478.48,1118.09 L479.92,1117.16 L481.37,1116.21 L482.81,1115.24 L484.25,1114.24 L485.70,1113.22 L487.14,1112.19 L488.58,1111.12 L490.03,1110.04 L491.47,1108.93 L492.91,1107.80 L494.35,1106.65 L495.80,1105.47 L497.24,1104.27 L498.68,1103.04 L500.13,1101.79 L501.57,1100.51 L503.01,1099.21 L504.46,1097.88 L505.90,1096.52 L507.34,1095.14 L508.79,1093.73 L510.23,1092.29 L511.67,1090.83 L513.12,1089.34 L514.56,1087.82 L516.00,1086.27 L517.44,1084.68 L518.89,1083.07 L520.33,1081.43 L521.77,1079.76 L523.22,1078.06 L524.66,1076.33 L526.10,1074.56 L527.55,1072.76 L528.99,1070.93 L530.43,1069.06 L531.88,1067.16 L533.32,1065.22 L534.76,1063.25 L536.20,1061.25 L537.65,1059.20 L539.09,1057.12 L540.53,1055.00 L541.98,1052.85 L543.42,1050.65 L544.86,1048.42 L546.31,1046.14 L547.75,1043.83 L549.19,1041.47 L550.64,1039.07 L552.08,1036.63 L553.52,1034.15 L554.97,1031.62 L556.41,1029.05 L557.85,1026.43 L559.29,1023.76 L560.74,1021.05 L562.18,1018.29 L563.62,1015.48 L565.07,1012.62 L566.51,1009.71 L567.95,1006.75 L569.40,1003.73 L570.84,1000.67 L572.28,997.55 L573.73,994.37 L575.17,991.14 L576.61,987.85 L578.05,984.50 L579.50,981.10 L580.94,977.63 L582.38,974.10 L583.83,970.51 L585.27,966.86 L586.71,963.14 L588.16,959.36 L589.60,955.51 L591.04,951.60 L592.49,947.61 L593.93,943.55 L595.37,939.42 L596.82,935.22 L598.26,930.95 L599.70,926.60 L601.14,922.17 L602.59,917.66 L604.03,913.08 L605.47,908.41 L606.92,903.66 L608.36,898.83 L609.80,893.91 L611.25,888.90 L612.69,883.81 L614.13,878.62 L615.58,873.35 L617.02,867.98 L618.46,862.52 L619.91,856.96 L621.35,851.30 L622.79,845.54 L624.23,839.69 L625.68,833.73 L627.12,827.66 L628.56,821.49 L630.01,815.22 L631.45,808.83 L632.89,802.34 L634.34,795.73 L635.78,789.01 L637.22,782.17 L638.67,775.21 L640.11,768.14 L641.55,760.95 L642.99,753.64 L644.44,746.20 L645.88,738.64 L647.32,730.95 L648.77,723.14 L650.21,715.20 L651.65,707.13 L653.10,698.93 L654.54,690.60 L655.98,682.13 L657.43,673.53 L658.87,664.80 L660.31,655.93 L661.76,646.93 L663.20,637.79 L664.64,628.51 L666.08,619.09 L667.53,609.53 L668.97,599.84 L670.41,590.00 L671.86,580.03 L673.30,569.92" stroke="#FFAD33" stroke-width="2.1" fill="none" clip-path="url(#clipC)" stroke-linejoin="round"/>
<path d="M385.78,1144.71 L385.79,1144.71 L385.81,1144.70 L385.82,1144.70 L385.83,1144.70 L385.84,1144.69 L385.85,1144.69 L385.87,1144.68 L385.88,1144.68 L385.89,1144.67 L385.91,1144.67 L385.92,1144.66 L385.93,1144.65 L385.95,1144.65 L385.96,1144.64 L385.98,1144.64 L386.00,1144.63 L386.01,1144.62 L386.03,1144.62 L386.05,1144.61 L386.07,1144.60 L386.09,1144.60 L386.10,1144.59 L386.12,1144.58 L386.14,1144.57 L386.17,1144.57 L386.19,1144.56 L386.21,1144.55 L386.23,1144.54 L386.25,1144.53 L386.28,1144.52 L386.30,1144.51 L386.33,1144.50 L386.35,1144.49 L386.38,1144.48 L386.41,1144.47 L386.44,1144.46 L386.47,1144.45 L386.50,1144.44 L386.53,1144.43 L386.56,1144.41 L386.59,1144.40 L386.62,1144.39 L386.66,1144.37 L386.69,1144.36 L386.73,1144.35 L386.77,1144.33 L386.80,1144.32 L386.84,1144.30 L386.88,1144.29 L386.93,1144.27 L386.97,1144.25 L387.01,1144.24 L387.06,1144.22 L387.10,1144.20 L387.15,1144.18 L387.20,1144.17 L387.25,1144.15 L387.30,1144.13 L387.35,1144.10 L387.41,1144.08 L387.47,1144.06 L387.52,1144.04 L387.58,1144.02 L387.64,1143.99 L387.71,1143.97 L387.77,1143.94 L387.84,1143.92 L387.90,1143.89 L387.97,1143.87 L388.05,1143.84 L388.12,1143.81 L388.19,1143.78 L388.27,1143.75 L388.35,1143.72 L388.43,1143.69 L388.52,1143.65 L388.61,1143.62 L388.69,1143.59 L388.79,1143.55 L388.88,1143.51 L388.98,1143.48 L389.08,1143.44 L389.18,1143.40 L389.28,1143.36 L389.39,1143.32 L389.50,1143.27 L389.62,1143.23 L389.73,1143.18 L389.85,1143.14 L389.98,1143.09 L390.10,1143.04 L390.23,1142.99 L390.37,1142.94 L390.50,1142.88 L390.64,1142.83 L390.79,1142.77 L390.94,1142.71 L391.09,1142.65 L391.25,1142.59 L391.41,1142.53 L391.57,1142.47 L391.74,1142.40 L391.92,1142.33 L392.10,1142.26 L392.28,1142.19 L392.47,1142.12 L392.67,1142.04 L392.87,1141.96 L393.07,1141.88 L393.28,1141.80 L393.50,1141.72 L393.72,1141.63 L393.95,1141.54 L394.18,1141.45 L394.42,1141.36 L394.66,1141.26 L394.92,1141.16 L395.18,1141.06 L395.44,1140.95 L395.72,1140.85 L396.00,1140.74 L396.28,1140.62 L396.58,1140.51 L396.88,1140.39 L397.19,1140.27 L397.51,1140.14 L397.84,1140.01 L398.18,1139.88 L398.52,1139.75 L398.87,1139.61 L399.24,1139.46 L399.61,1139.32 L399.99,1139.17 L400.38,1139.01 L400.78,1138.86 L401.19,1138.69 L401.61,1138.53 L402.05,1138.36 L402.49,1138.18 L402.94,1138.00 L403.41,1137.82 L403.89,1137.63 L404.38,1137.43 L404.88,1137.23 L405.39,1137.03 L405.92,1136.82 L406.46,1136.61 L407.01,1136.39 L407.57,1136.16 L408.15,1135.93 L408.75,1135.70 L409.35,1135.45 L409.98,1135.20 L410.61,1134.95 L411.26,1134.69 L411.93,1134.42 L412.61,1134.15 L413.31,1133.87 L414.03,1133.58 L414.76,1133.29 L415.51,1132.99 L416.27,1132.68 L417.05,1132.36 L417.85,1132.04 L418.67,1131.71 L419.51,1131.37 L420.36,1131.03 L421.23,1130.67 L422.12,1130.31 L423.03,1129.94 L423.96,1129.56 L424.91,1129.17 L425.88,1128.78 L426.87,1128.37 L427.88,1127.96 L428.91,1127.54 L429.96,1127.11 L431.03,1126.67 L432.13,1126.22 L433.24,1125.76 L434.38,1125.29 L435.54,1124.81 L436.72,1124.32 L437.92,1123.82 L439.14,1123.32 L440.39,1122.80 L441.66,1122.27 L442.95,1121.73 L444.26,1121.18 L445.60,1120.62 L446.96,1120.05 L448.34,1119.47 L449.74,1118.88 L451.17,1118.28 L452.62,1117.66 L454.09,1117.04 L455.58,1116.40 L457.10,1115.76 L458.64,1115.10 L460.20,1114.44 L461.78,1113.76 L463.38,1113.07 L465.01,1112.37 L466.66,1111.66 L468.32,1110.94 L470.01,1110.21 L471.72,1109.47 L473.45,1108.72 L475.20,1107.96 L476.96,1107.18 L478.75,1106.40 L480.55,1105.61 L482.37,1104.81 L484.21,1104.00 L486.07,1103.18 L487.94,1102.34 L489.83,1101.51 L491.73,1100.66 L493.65,1099.80 L495.58,1098.93 L497.53,1098.06 L499.48,1097.18 L501.45,1096.29 L503.43,1095.39 L505.42,1094.49 L507.42,1093.58 L509.43,1092.66 L511.45,1091.74 L513.47,1090.81 L515.50,1089.88 L517.54,1088.94 L519.58,1087.99 L521.62,1087.04 L523.67,1086.09 L525.72,1085.13 L527.77,1084.17 L529.82,1083.21 L531.87,1082.24 L533.92,1081.28 L535.97,1080.31 L538.01,1079.34 L540.06,1078.36 L542.09,1077.39 L544.12,1076.42 L546.15,1075.45 L548.17,1074.47 L550.18,1073.50 L552.18,1072.53 L554.17,1071.57 L556.15,1070.60 L558.12,1069.64 L560.08,1068.68 L562.03,1067.72 L563.96,1066.77 L565.88,1065.82 L567.79,1064.88 L569.68,1063.94 L571.55,1063.01 L573.41,1062.08 L575.26,1061.16 L577.08,1060.24 L578.89,1059.33 L580.68,1058.43 L582.45,1057.53 L584.21,1056.65 L585.94,1055.77 L587.65,1054.89 L589.35,1054.03 L591.02,1053.17 L592.67,1052.32 L594.31,1051.48 L595.92,1050.65 L597.51,1049.83 L599.07,1049.02 L600.62,1048.22 L602.14,1047.43 L603.64,1046.64 L605.12,1045.87 L606.58,1045.11 L608.02,1044.36 L609.43,1043.61 L610.82,1042.88 L612.19,1042.16 L613.53,1041.45 L614.86,1040.75 L616.16,1040.06 L617.43,1039.38 L618.69,1038.71 L619.92,1038.05 L621.14,1037.40 L622.33,1036.76 L623.50,1036.14 L624.64,1035.52 L625.77,1034.91 L626.87,1034.32 L627.95,1033.73 L629.02,1033.16 L630.06,1032.59 L631.08,1032.04 L632.08,1031.49 L633.06,1030.96 L634.02,1030.44 L634.96,1029.92 L635.88,1029.42 L636.78,1028.93 L637.67,1028.44 L638.53,1027.97 L639.38,1027.50 L640.21,1027.04 L641.02,1026.60 L641.81,1026.16 L642.59,1025.73 L643.34,1025.31 L644.09,1024.90 L644.81,1024.50 L645.52,1024.11 L646.21,1023.72 L646.89,1023.34 L647.55,1022.98 L648.20,1022.62 L648.83,1022.26 L649.45,1021.92 L650.05,1021.58 L650.64,1021.25 L651.22,1020.93 L651.78,1020.61 L652.33,1020.31 L652.86,1020.01 L653.39,1019.71 L653.90,1019.43 L654.40,1019.15 L654.88,1018.87 L655.36,1018.60 L655.82,1018.34 L656.27,1018.09 L656.71,1017.84 L657.14,1017.60 L657.56,1017.36 L657.97,1017.13 L658.37,1016.90 L658.76,1016.68 L659.14,1016.47 L659.51,1016.26 L659.87,1016.05 L660.22,1015.85 L660.56,1015.66 L660.90,1015.47 L661.22,1015.28 L661.54,1015.10 L661.85,1014.93 L662.15,1014.75 L662.44,1014.59 L662.73,1014.42 L663.01,1014.26 L663.28,1014.11 L663.55,1013.96 L663.81,1013.81 L664.06,1013.67 L664.30,1013.53 L664.54,1013.39 L664.77,1013.26 L665.00,1013.13 L665.22,1013.00 L665.44,1012.88 L665.65,1012.76 L665.85,1012.64 L666.05,1012.53 L666.24,1012.42 L666.43,1012.31 L666.62,1012.20 L666.79,1012.10 L666.97,1012.00 L667.14,1011.90 L667.30,1011.81 L667.46,1011.72 L667.62,1011.63 L667.77,1011.54 L667.92,1011.45 L668.07,1011.37 L668.21,1011.29 L668.34,1011.21 L668.48,1011.13 L668.61,1011.06 L668.73,1010.99 L668.86,1010.92 L668.98,1010.85 L669.09,1010.78 L669.21,1010.72 L669.32,1010.65 L669.42,1010.59 L669.53,1010.53 L669.63,1010.47 L669.73,1010.41 L669.83,1010.36 L669.92,1010.30 L670.01,1010.25 L670.10,1010.20 L670.19,1010.15 L670.27,1010.10 L670.35,1010.05 L670.43,1010.01 L670.51,1009.96 L670.59,1009.92 L670.66,1009.88 L670.73,1009.84 L670.80,1009.80 L670.87,1009.76 L670.93,1009.72 L671.00,1009.68 L671.06,1009.65 L671.12,1009.61 L671.18,1009.58 L671.24,1009.54 L671.29,1009.51 L671.35,1009.48 L671.40,1009.45 L671.45,1009.42 L671.50,1009.39 L671.55,1009.36 L671.60,1009.33 L671.65,1009.31 L671.69,1009.28 L671.73,1009.26 L671.78,1009.23 L671.82,1009.21 L671.86,1009.18 L671.90,1009.16 L671.94,1009.14 L671.97,1009.12 L672.01,1009.10 L672.04,1009.08 L672.08,1009.06 L672.11,1009.04 L672.14,1009.02 L672.17,1009.00 L672.21,1008.98 L672.24,1008.97 L672.26,1008.95 L672.29,1008.93 L672.32,1008.92 L672.35,1008.90 L672.37,1008.89 L672.40,1008.87 L672.42,1008.86 L672.45,1008.84 L672.47,1008.83 L672.49,1008.82 L672.51,1008.81 L672.54,1008.79 L672.56,1008.78 L672.58,1008.77 L672.60,1008.76 L672.62,1008.75 L672.63,1008.74 L672.65,1008.73 L672.67,1008.71 L672.69,1008.70 L672.70,1008.70 L672.72,1008.69 L672.74,1008.68 L672.75,1008.67 L672.77,1008.66 L672.78,1008.65 L672.79,1008.64 L672.81,1008.63 L672.82,1008.63 L672.84,1008.62 L672.85,1008.61 L672.86,1008.60 L672.87,1008.60 L672.88,1008.59 L672.90,1008.58 L672.91,1008.58 L672.92,1008.57 L672.93,1008.57 L672.94,1008.56 L672.95,1008.55 L672.96,1008.55 L672.97,1008.54 L672.98,1008.54 L672.98,1008.53 L672.99,1008.53 L673.00,1008.52 L673.01,1008.52 L673.02,1008.51 L673.03,1008.51 L673.03,1008.50 L673.04,1008.50 L673.05,1008.50 L673.05,1008.49 L673.06,1008.49 L673.07,1008.48 L673.07,1008.48 L673.08,1008.48 L673.09,1008.47 L673.09,1008.47 L673.10,1008.47 L673.10,1008.46 L673.11,1008.46" stroke="#000" stroke-width="1.95" stroke-dasharray="3.2 2.5" fill="none" clip-path="url(#clipC)"/>
<circle cx="389.20" cy="1143.39" r="2.8" fill="#000"/>
<circle cx="403.55" cy="1137.76" r="2.8" fill="#000"/>
<circle cx="419.79" cy="1131.26" r="2.8" fill="#000"/>
<circle cx="504.36" cy="1094.98" r="2.8" fill="#000"/>
<circle cx="555.16" cy="1071.08" r="2.8" fill="#000"/>
<circle cx="639.07" cy="1027.67" r="2.8" fill="#000"/>
<path d="M97.50,1186.3 v-2.6 M97.50,830.4 v2.6 M212.66,1186.3 v-2.6 M212.66,830.4 v2.6 M327.82,1186.3 v-2.6 M327.82,830.4 v2.6 M442.98,1186.3 v-2.6 M442.98,830.4 v2.6 M558.14,1186.3 v-2.6 M558.14,830.4 v2.6 M673.30,1186.3 v-2.6 M673.30,830.4 v2.6 M126.29,1186.3 v-1.8 M126.29,830.4 v1.8 M155.08,1186.3 v-1.8 M155.08,830.4 v1.8 M183.87,1186.3 v-1.8 M183.87,830.4 v1.8 M241.45,1186.3 v-1.8 M241.45,830.4 v1.8 M270.24,1186.3 v-1.8 M270.24,830.4 v1.8 M299.03,1186.3 v-1.8 M299.03,830.4 v1.8 M356.61,1186.3 v-1.8 M356.61,830.4 v1.8 M385.40,1186.3 v-1.8 M385.40,830.4 v1.8 M414.19,1186.3 v-1.8 M414.19,830.4 v1.8 M471.77,1186.3 v-1.8 M471.77,830.4 v1.8 M500.56,1186.3 v-1.8 M500.56,830.4 v1.8 M529.35,1186.3 v-1.8 M529.35,830.4 v1.8 M586.93,1186.3 v-1.8 M586.93,830.4 v1.8 M615.72,1186.3 v-1.8 M615.72,830.4 v1.8 M644.51,1186.3 v-1.8 M644.51,830.4 v1.8 M97.5,1186.30 h2.6 M673.3,1186.30 h-2.6 M97.5,1097.33 h2.6 M673.3,1097.33 h-2.6 M97.5,1008.35 h2.6 M673.3,1008.35 h-2.6 M97.5,919.38 h2.6 M673.3,919.38 h-2.6 M97.5,830.40 h2.6 M673.3,830.40 h-2.6 M97.5,1164.06 h1.8 M673.3,1164.06 h-1.8 M97.5,1141.81 h1.8 M673.3,1141.81 h-1.8 M97.5,1119.57 h1.8 M673.3,1119.57 h-1.8 M97.5,1075.08 h1.8 M673.3,1075.08 h-1.8 M97.5,1052.84 h1.8 M673.3,1052.84 h-1.8 M97.5,1030.59 h1.8 M673.3,1030.59 h-1.8 M97.5,986.11 h1.8 M673.3,986.11 h-1.8 M97.5,963.86 h1.8 M673.3,963.86 h-1.8 M97.5,941.62 h1.8 M673.3,941.62 h-1.8 M97.5,897.13 h1.8 M673.3,897.13 h-1.8 M97.5,874.89 h1.8 M673.3,874.89 h-1.8 M97.5,852.64 h1.8 M673.3,852.64 h-1.8" stroke="#111" stroke-width="1" fill="none"/>
<rect x="97.5" y="830.4" width="575.80" height="355.90" fill="none" stroke="#111" stroke-width="1.1"/>
<text x="94.00" y="1191.10" font-size="13.1" text-anchor="end" font-family="Liberation Sans, sans-serif" >−0.4</text>
<text x="94.00" y="1102.12" font-size="13.1" text-anchor="end" font-family="Liberation Sans, sans-serif" >−0.2</text>
<text x="94.00" y="1013.15" font-size="13.1" text-anchor="end" font-family="Liberation Sans, sans-serif" >0.0</text>
<text x="94.00" y="924.17" font-size="13.1" text-anchor="end" font-family="Liberation Sans, sans-serif" >0.2</text>
<text x="94.00" y="835.20" font-size="13.1" text-anchor="end" font-family="Liberation Sans, sans-serif" >0.4</text>
<text x="97.50" y="1202.20" font-size="13.1" text-anchor="middle" font-family="Liberation Sans, sans-serif" >0.0</text>
<text x="212.66" y="1202.20" font-size="13.1" text-anchor="middle" font-family="Liberation Sans, sans-serif" >0.2</text>
<text x="327.82" y="1202.20" font-size="13.1" text-anchor="middle" font-family="Liberation Sans, sans-serif" >0.4</text>
<text x="442.98" y="1202.20" font-size="13.1" text-anchor="middle" font-family="Liberation Sans, sans-serif" >0.6</text>
<text x="558.14" y="1202.20" font-size="13.1" text-anchor="middle" font-family="Liberation Sans, sans-serif" >0.8</text>
<text x="673.30" y="1202.20" font-size="13.1" text-anchor="middle" font-family="Liberation Sans, sans-serif" >1.0</text>
<line x1="108.1" y1="852.4" x2="138.4" y2="852.4" stroke="#FFAD33" stroke-width="2.1"/>
<text x="144.4" y="857.40" font-size="12.5" font-family="Liberation Sans, sans-serif"><tspan font-style="italic">μ</tspan> = 50</text>
<line x1="108.1" y1="874.8" x2="138.4" y2="874.8" stroke="#FF0000" stroke-width="2.1"/>
<text x="144.4" y="879.80" font-size="12.5" font-family="Liberation Sans, sans-serif"><tspan font-style="italic">μ</tspan> = 10</text>
<line x1="108.1" y1="896.9" x2="138.4" y2="896.9" stroke="#0000FF" stroke-width="2.1"/>
<text x="144.4" y="901.90" font-size="12.5" font-family="Liberation Sans, sans-serif"><tspan font-style="italic">μ</tspan> = 5</text>
<line x1="108.1" y1="941.4" x2="138.4" y2="941.4" stroke="#80FF00" stroke-width="2.1"/>
<text x="144.4" y="946.40" font-size="12.5" font-family="Liberation Sans, sans-serif"><tspan font-style="italic">μ</tspan> = 1</text>
<line x1="108.1" y1="964" x2="138.4" y2="964" stroke="#108585" stroke-width="2.1"/>
<text x="144.4" y="969.00" font-size="12.5" font-family="Liberation Sans, sans-serif"><tspan font-style="italic">μ</tspan> = 0.5</text>
<line x1="108.1" y1="986.5" x2="138.4" y2="986.5" stroke="#808000" stroke-width="2.1"/>
<text x="144.4" y="991.50" font-size="12.5" font-family="Liberation Sans, sans-serif"><tspan font-style="italic">μ</tspan> = 0.1</text>
<text x="381.00" y="1004.10" font-size="14.6" text-anchor="start" font-family="Liberation Sans, sans-serif" >transit for the origin</text>
<text x="360.40" y="1178.30" font-size="14.4" text-anchor="start" font-family="Liberation Sans, sans-serif" >inversion</text>
<line x1="389.2" y1="1169" x2="389.2" y2="1154" stroke="#000" stroke-width="1.2"/>
<path d="M389.2,1143.2 L392.9,1158.2 L389.2,1156.2 L385.5,1158.2 Z" fill="#000"/>
<text x="377.4" y="1222.4" font-size="14" font-family="Liberation Sans, sans-serif">t/<tspan font-style="italic">t</tspan><tspan font-style="italic" font-size="10" dy="2.8">s</tspan></text>
<g transform="translate(44.7,1008.35) rotate(-90)"><line x1="-5.15" y1="0" x2="5.15" y2="0" stroke="#000" stroke-width="1.2"/><text x="0.2" y="-5" font-size="14" text-anchor="middle" font-family="Liberation Sans, sans-serif" font-style="italic">x</text><text x="0" y="16.2" font-size="14.4" text-anchor="middle" font-family="Liberation Sans, sans-serif" font-style="italic">D</text></g>
<text x="4.5" y="1209.8" font-size="22.3" font-family="Liberation Serif, serif" font-weight="bold">(c)</text>
</svg>
</body></html>
